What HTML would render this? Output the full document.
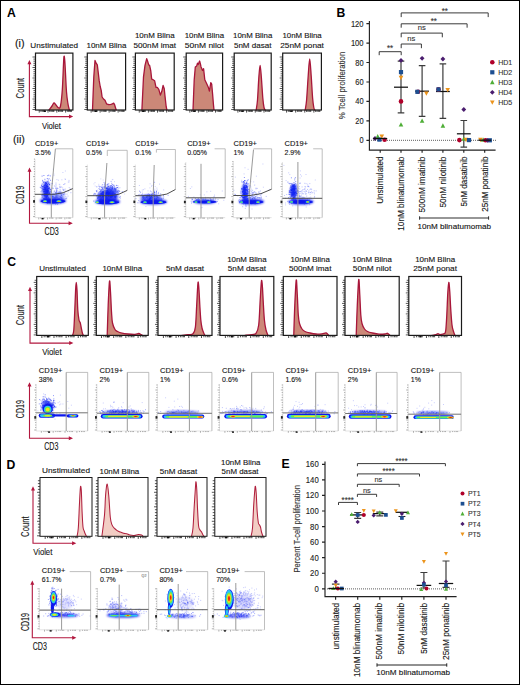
<!DOCTYPE html>
<html><head><meta charset="utf-8"><style>
html,body{margin:0;padding:0;background:#fff;overflow:hidden;width:520px;height:685px;}
svg{display:block;font-family:"Liberation Sans",sans-serif;}
</style></head><body>
<svg width="520" height="685" viewBox="0 0 520 685" fill="#141414">
<defs><filter id="bl" x="-20%" y="-20%" width="140%" height="140%"><feGaussianBlur stdDeviation="0.45"/></filter><filter id="bl3" x="-20%" y="-60%" width="140%" height="220%"><feGaussianBlur stdDeviation="0.7"/></filter><filter id="bl2" x="-30%" y="-30%" width="160%" height="160%"><feGaussianBlur stdDeviation="1.0"/></filter></defs>
<rect x="0.5" y="0.5" width="519" height="684" fill="#fff" stroke="#000" stroke-width="1"/>
<text x="6.9" y="17" font-size="12.2" font-weight="bold" fill="#000">A</text>
<text x="336.5" y="17.2" font-size="12.2" font-weight="bold" fill="#000">B</text>
<text x="7.3" y="266" font-size="12.2" font-weight="bold" fill="#000">C</text>
<text x="6.6" y="468.6" font-size="12.2" font-weight="bold" fill="#000">D</text>
<text x="281.4" y="467.9" font-size="12.2" font-weight="bold" fill="#000">E</text>
<text x="15" y="47.1" font-size="10.8" stroke="#141414" stroke-width="0.12">(i)</text>
<text x="12.9" y="143.3" font-size="10.8" stroke="#141414" stroke-width="0.12">(ii)</text>
<text x="54.2" y="47.9" font-size="8" text-anchor="middle" textLength="47.7" lengthAdjust="spacingAndGlyphs" stroke="#141414" stroke-width="0.12">Unstimulated</text>
<text x="106.45" y="47.9" font-size="8" text-anchor="middle" textLength="39.9" lengthAdjust="spacingAndGlyphs" stroke="#141414" stroke-width="0.12">10nM Blina</text>
<text x="154.8" y="38.3" font-size="8" text-anchor="middle" textLength="39.8" lengthAdjust="spacingAndGlyphs" stroke="#141414" stroke-width="0.12">10nM Blina</text>
<text x="154.8" y="47.9" font-size="8" text-anchor="middle" textLength="42.5" lengthAdjust="spacingAndGlyphs" stroke="#141414" stroke-width="0.12">500nM imat</text>
<text x="204.4" y="38.3" font-size="8" text-anchor="middle" textLength="39.4" lengthAdjust="spacingAndGlyphs" stroke="#141414" stroke-width="0.12">10nM Blina</text>
<text x="204.4" y="47.9" font-size="8" text-anchor="middle" textLength="39.1" lengthAdjust="spacingAndGlyphs" stroke="#141414" stroke-width="0.12">50nM nilot</text>
<text x="252.7" y="38.3" font-size="8" text-anchor="middle" textLength="39.3" lengthAdjust="spacingAndGlyphs" stroke="#141414" stroke-width="0.12">10nM Blina</text>
<text x="252.7" y="47.9" font-size="8" text-anchor="middle" textLength="37.5" lengthAdjust="spacingAndGlyphs" stroke="#141414" stroke-width="0.12">5nM dasat</text>
<text x="302.05" y="38.3" font-size="8" text-anchor="middle" textLength="39.3" lengthAdjust="spacingAndGlyphs" stroke="#141414" stroke-width="0.12">10nM Blina</text>
<text x="302.05" y="47.9" font-size="8" text-anchor="middle" textLength="43.7" lengthAdjust="spacingAndGlyphs" stroke="#141414" stroke-width="0.12">25nM ponat</text>
<path d="M49 110C49.5 109.33 51.17 107.17 52 106C52.83 104.83 53.33 103.17 54 103C54.67 102.83 55.25 104.2 56 105C56.75 105.8 57.75 107.63 58.5 107.8C59.25 107.97 59.87 108.97 60.5 106C61.13 103.03 61.78 97.33 62.3 90C62.82 82.67 63.28 67.63 63.6 62C63.92 56.37 63.97 55.87 64.2 56.2C64.43 56.53 64.62 58.03 65 64C65.38 69.97 66 85.33 66.5 92C67 98.67 67.52 101 68 104C68.48 107 69.17 109 69.4 110Z" fill="#cc8878" stroke="none"/>
<path d="M49 110C49.5 109.33 51.17 107.17 52 106C52.83 104.83 53.33 103.17 54 103C54.67 102.83 55.25 104.2 56 105C56.75 105.8 57.75 107.63 58.5 107.8C59.25 107.97 59.87 108.97 60.5 106C61.13 103.03 61.78 97.33 62.3 90C62.82 82.67 63.28 67.63 63.6 62C63.92 56.37 63.97 55.87 64.2 56.2C64.43 56.53 64.62 58.03 65 64C65.38 69.97 66 85.33 66.5 92C67 98.67 67.52 101 68 104C68.48 107 69.17 109 69.4 110" fill="none" stroke="#a8163a" stroke-width="1.3" stroke-linejoin="round" stroke-linecap="round"/>
<rect x="35.5" y="53.1" width="37.4" height="56.9" fill="none" stroke="#1a1a1a" stroke-width="1.2"/>
<path d="M32.5 109.5h3M33.4 107.4h2.1M33.4 105.3h2.1M33.4 103.2h2.1M33.4 101.1h2.1M32.5 99h3M33.4 96.9h2.1M33.4 94.8h2.1M33.4 92.7h2.1M33.4 90.6h2.1M32.5 88.5h3M33.4 86.4h2.1M33.4 84.3h2.1M33.4 82.2h2.1M33.4 80.1h2.1M32.5 78h3M33.4 75.9h2.1M33.4 73.8h2.1M33.4 71.7h2.1M33.4 69.6h2.1M32.5 67.5h3M33.4 65.4h2.1M33.4 63.3h2.1M33.4 61.2h2.1M33.4 59.1h2.1M32.5 57h3" stroke="#222" stroke-width="0.75" fill="none"/>
<path d="M39.24 110v2.6M40.92 110v1.9M42.23 110v1.9M43.35 110v1.9M44.29 110v1.9M45.04 110v1.9M48.03 110v2.6M49.71 110v1.9M51.02 110v1.9M52.14 110v1.9M53.08 110v1.9M53.83 110v1.9M56.82 110v2.6M58.5 110v1.9M59.81 110v1.9M60.93 110v1.9M61.87 110v1.9M62.62 110v1.9M65.61 110v2.6M67.29 110v1.9M68.6 110v1.9M69.72 110v1.9M70.66 110v1.9M71.4 110v1.9" stroke="#222" stroke-width="0.8" fill="none"/>
<rect x="43.85" y="110.6" width="2" height="1.4" fill="#111"/>
<path d="M92.5 110L93.8 76.8L95 60.5L96.3 63.4L97.3 64.9L98.3 73L99.2 80.7L100.2 86.5L101.2 90.3L102.1 97L103.5 99L105 100.3L106.5 103.8L108.8 104.7L110.8 104.3L112.3 103.8L113.7 103.2L114.6 104.7L116.2 110Z" fill="#cc8878" stroke="none"/>
<path d="M92.5 110L93.8 76.8L95 60.5L96.3 63.4L97.3 64.9L98.3 73L99.2 80.7L100.2 86.5L101.2 90.3L102.1 97L103.5 99L105 100.3L106.5 103.8L108.8 104.7L110.8 104.3L112.3 103.8L113.7 103.2L114.6 104.7L116.2 110" fill="none" stroke="#a8163a" stroke-width="1.3" stroke-linejoin="round" stroke-linecap="round"/>
<rect x="87.3" y="53.1" width="38.3" height="56.9" fill="none" stroke="#1a1a1a" stroke-width="1.2"/>
<path d="M84.3 109.5h3M85.2 107.4h2.1M85.2 105.3h2.1M85.2 103.2h2.1M85.2 101.1h2.1M84.3 99h3M85.2 96.9h2.1M85.2 94.8h2.1M85.2 92.7h2.1M85.2 90.6h2.1M84.3 88.5h3M85.2 86.4h2.1M85.2 84.3h2.1M85.2 82.2h2.1M85.2 80.1h2.1M84.3 78h3M85.2 75.9h2.1M85.2 73.8h2.1M85.2 71.7h2.1M85.2 69.6h2.1M84.3 67.5h3M85.2 65.4h2.1M85.2 63.3h2.1M85.2 61.2h2.1M85.2 59.1h2.1M84.3 57h3" stroke="#222" stroke-width="0.75" fill="none"/>
<path d="M91.13 110v2.6M92.85 110v1.9M94.19 110v1.9M95.34 110v1.9M96.3 110v1.9M97.07 110v1.9M100.13 110v2.6M101.85 110v1.9M103.19 110v1.9M104.34 110v1.9M105.3 110v1.9M106.07 110v1.9M109.13 110v2.6M110.85 110v1.9M112.19 110v1.9M113.34 110v1.9M114.3 110v1.9M115.07 110v1.9M118.13 110v2.6M119.85 110v1.9M121.2 110v1.9M122.34 110v1.9M123.3 110v1.9M124.07 110v1.9" stroke="#222" stroke-width="0.8" fill="none"/>
<rect x="94.73" y="110.6" width="2" height="1.4" fill="#111"/>
<path d="M141.9 110L143.5 76.8L145 65.3L146.7 58.6L147.7 61.5L148.7 64.9L149.6 65.3L150.8 71L151.7 79.2L153.1 79.7L154.6 80.7L156 87.4L157.3 87.4L158.8 89.3L160.4 95.1L161.7 91.8L163.1 85.5L164.2 88.4L165 96.1L166.2 106.7L166.9 110Z" fill="#cc8878" stroke="none"/>
<path d="M141.9 110L143.5 76.8L145 65.3L146.7 58.6L147.7 61.5L148.7 64.9L149.6 65.3L150.8 71L151.7 79.2L153.1 79.7L154.6 80.7L156 87.4L157.3 87.4L158.8 89.3L160.4 95.1L161.7 91.8L163.1 85.5L164.2 88.4L165 96.1L166.2 106.7L166.9 110" fill="none" stroke="#a8163a" stroke-width="1.3" stroke-linejoin="round" stroke-linecap="round"/>
<rect x="135.4" y="53.1" width="38.8" height="56.9" fill="none" stroke="#1a1a1a" stroke-width="1.2"/>
<path d="M132.4 109.5h3M133.3 107.4h2.1M133.3 105.3h2.1M133.3 103.2h2.1M133.3 101.1h2.1M132.4 99h3M133.3 96.9h2.1M133.3 94.8h2.1M133.3 92.7h2.1M133.3 90.6h2.1M132.4 88.5h3M133.3 86.4h2.1M133.3 84.3h2.1M133.3 82.2h2.1M133.3 80.1h2.1M132.4 78h3M133.3 75.9h2.1M133.3 73.8h2.1M133.3 71.7h2.1M133.3 69.6h2.1M132.4 67.5h3M133.3 65.4h2.1M133.3 63.3h2.1M133.3 61.2h2.1M133.3 59.1h2.1M132.4 57h3" stroke="#222" stroke-width="0.75" fill="none"/>
<path d="M139.28 110v2.6M141.03 110v1.9M142.38 110v1.9M143.55 110v1.9M144.52 110v1.9M145.29 110v1.9M148.4 110v2.6M150.14 110v1.9M151.5 110v1.9M152.67 110v1.9M153.64 110v1.9M154.41 110v1.9M157.52 110v2.6M159.26 110v1.9M160.62 110v1.9M161.78 110v1.9M162.75 110v1.9M163.53 110v1.9M166.63 110v2.6M168.38 110v1.9M169.74 110v1.9M170.9 110v1.9M171.87 110v1.9M172.65 110v1.9" stroke="#222" stroke-width="0.8" fill="none"/>
<rect x="142.16" y="110.6" width="2" height="1.4" fill="#111"/>
<path d="M193 110L194.2 80L195.3 67L196.7 65.9L197.5 63.2L198.2 64.5L199.6 61L200.4 64L201 66.7L202.5 70.5L203.6 68.7L204.8 79.7L206.5 83.2L208.2 86.9L209.4 91.2L210.8 82.6L211.7 84L212.6 94.1L213.4 104L214 110Z" fill="#cc8878" stroke="none"/>
<path d="M193 110L194.2 80L195.3 67L196.7 65.9L197.5 63.2L198.2 64.5L199.6 61L200.4 64L201 66.7L202.5 70.5L203.6 68.7L204.8 79.7L206.5 83.2L208.2 86.9L209.4 91.2L210.8 82.6L211.7 84L212.6 94.1L213.4 104L214 110" fill="none" stroke="#a8163a" stroke-width="1.3" stroke-linejoin="round" stroke-linecap="round"/>
<rect x="186.2" y="53.1" width="36.4" height="56.9" fill="none" stroke="#1a1a1a" stroke-width="1.2"/>
<path d="M183.2 109.5h3M184.1 107.4h2.1M184.1 105.3h2.1M184.1 103.2h2.1M184.1 101.1h2.1M183.2 99h3M184.1 96.9h2.1M184.1 94.8h2.1M184.1 92.7h2.1M184.1 90.6h2.1M183.2 88.5h3M184.1 86.4h2.1M184.1 84.3h2.1M184.1 82.2h2.1M184.1 80.1h2.1M183.2 78h3M184.1 75.9h2.1M184.1 73.8h2.1M184.1 71.7h2.1M184.1 69.6h2.1M183.2 67.5h3M184.1 65.4h2.1M184.1 63.3h2.1M184.1 61.2h2.1M184.1 59.1h2.1M183.2 57h3" stroke="#222" stroke-width="0.75" fill="none"/>
<path d="M189.84 110v2.6M191.48 110v1.9M192.75 110v1.9M193.84 110v1.9M194.75 110v1.9M195.48 110v1.9M198.39 110v2.6M200.03 110v1.9M201.31 110v1.9M202.4 110v1.9M203.31 110v1.9M204.04 110v1.9M206.95 110v2.6M208.59 110v1.9M209.86 110v1.9M210.95 110v1.9M211.86 110v1.9M212.59 110v1.9M215.5 110v2.6M217.14 110v1.9M218.41 110v1.9M219.51 110v1.9M220.42 110v1.9M221.14 110v1.9" stroke="#222" stroke-width="0.8" fill="none"/>
<rect x="193.21" y="110.6" width="2" height="1.4" fill="#111"/>
<path d="M256.2 110C256.42 108.33 257.07 105.33 257.5 100C257.93 94.67 258.37 83.78 258.8 78C259.23 72.22 259.67 65.3 260.1 65.3C260.53 65.3 260.95 72.55 261.4 78C261.85 83.45 262.37 93.08 262.8 98C263.23 102.92 263.6 105.5 264 107.5C264.4 109.5 265 109.58 265.2 110Z" fill="#cc8878" stroke="none"/>
<path d="M256.2 110C256.42 108.33 257.07 105.33 257.5 100C257.93 94.67 258.37 83.78 258.8 78C259.23 72.22 259.67 65.3 260.1 65.3C260.53 65.3 260.95 72.55 261.4 78C261.85 83.45 262.37 93.08 262.8 98C263.23 102.92 263.6 105.5 264 107.5C264.4 109.5 265 109.58 265.2 110" fill="none" stroke="#a8163a" stroke-width="1.3" stroke-linejoin="round" stroke-linecap="round"/>
<rect x="234.2" y="53.1" width="37" height="56.9" fill="none" stroke="#1a1a1a" stroke-width="1.2"/>
<path d="M231.2 109.5h3M232.1 107.4h2.1M232.1 105.3h2.1M232.1 103.2h2.1M232.1 101.1h2.1M231.2 99h3M232.1 96.9h2.1M232.1 94.8h2.1M232.1 92.7h2.1M232.1 90.6h2.1M231.2 88.5h3M232.1 86.4h2.1M232.1 84.3h2.1M232.1 82.2h2.1M232.1 80.1h2.1M231.2 78h3M232.1 75.9h2.1M232.1 73.8h2.1M232.1 71.7h2.1M232.1 69.6h2.1M231.2 67.5h3M232.1 65.4h2.1M232.1 63.3h2.1M232.1 61.2h2.1M232.1 59.1h2.1M231.2 57h3" stroke="#222" stroke-width="0.75" fill="none"/>
<path d="M237.9 110v2.6M239.56 110v1.9M240.86 110v1.9M241.97 110v1.9M242.89 110v1.9M243.63 110v1.9M246.59 110v2.6M248.26 110v1.9M249.55 110v1.9M250.66 110v1.9M251.59 110v1.9M252.33 110v1.9M255.29 110v2.6M256.95 110v1.9M258.25 110v1.9M259.36 110v1.9M260.28 110v1.9M261.02 110v1.9M263.99 110v2.6M265.65 110v1.9M266.94 110v1.9M268.06 110v1.9M268.98 110v1.9M269.72 110v1.9" stroke="#222" stroke-width="0.8" fill="none"/>
<rect x="241.34" y="110.6" width="2" height="1.4" fill="#111"/>
<path d="M305.2 110C305.43 108.33 306.1 105.67 306.6 100C307.1 94.33 307.68 82.83 308.2 76C308.72 69.17 309.2 59 309.7 59C310.2 59 310.72 69.5 311.2 76C311.68 82.5 312.17 92.75 312.6 98C313.03 103.25 313.43 105.5 313.8 107.5C314.17 109.5 314.63 109.58 314.8 110Z" fill="#cc8878" stroke="none"/>
<path d="M305.2 110C305.43 108.33 306.1 105.67 306.6 100C307.1 94.33 307.68 82.83 308.2 76C308.72 69.17 309.2 59 309.7 59C310.2 59 310.72 69.5 311.2 76C311.68 82.5 312.17 92.75 312.6 98C313.03 103.25 313.43 105.5 313.8 107.5C314.17 109.5 314.63 109.58 314.8 110" fill="none" stroke="#a8163a" stroke-width="1.3" stroke-linejoin="round" stroke-linecap="round"/>
<rect x="282.7" y="53.1" width="38.7" height="56.9" fill="none" stroke="#1a1a1a" stroke-width="1.2"/>
<path d="M279.7 109.5h3M280.6 107.4h2.1M280.6 105.3h2.1M280.6 103.2h2.1M280.6 101.1h2.1M279.7 99h3M280.6 96.9h2.1M280.6 94.8h2.1M280.6 92.7h2.1M280.6 90.6h2.1M279.7 88.5h3M280.6 86.4h2.1M280.6 84.3h2.1M280.6 82.2h2.1M280.6 80.1h2.1M279.7 78h3M280.6 75.9h2.1M280.6 73.8h2.1M280.6 71.7h2.1M280.6 69.6h2.1M279.7 67.5h3M280.6 65.4h2.1M280.6 63.3h2.1M280.6 61.2h2.1M280.6 59.1h2.1M279.7 57h3" stroke="#222" stroke-width="0.75" fill="none"/>
<path d="M286.57 110v2.6M288.31 110v1.9M289.67 110v1.9M290.83 110v1.9M291.79 110v1.9M292.57 110v1.9M295.66 110v2.6M297.41 110v1.9M298.76 110v1.9M299.92 110v1.9M300.89 110v1.9M301.66 110v1.9M304.76 110v2.6M306.5 110v1.9M307.85 110v1.9M309.02 110v1.9M309.98 110v1.9M310.76 110v1.9M313.85 110v2.6M315.59 110v1.9M316.95 110v1.9M318.11 110v1.9M319.08 110v1.9M319.85 110v1.9" stroke="#222" stroke-width="0.8" fill="none"/>
<rect x="290.21" y="110.6" width="2" height="1.4" fill="#111"/>
<path d="M29.4 63V116.6H70.2" fill="none" stroke="#b2173e" stroke-width="1.1"/>
<path d="M29.4 60L27.4 64.2L31.4 64.2Z M73.2 116.6L69 114.6L69 118.6Z" fill="#b2173e"/>
<text transform="translate(24.47,88.2) rotate(-90)" font-size="10.2" text-anchor="middle" textLength="20.4" lengthAdjust="spacingAndGlyphs" stroke="#141414" stroke-width="0.12">Count</text>
<text x="41.9" y="128.5" font-size="9.5" textLength="19.1" lengthAdjust="spacingAndGlyphs" stroke="#141414" stroke-width="0.12">Violet</text>
<g filter="url(#bl2)">
<ellipse cx="46" cy="191" rx="3.4" ry="9.5" fill="#0a18ee" fill-opacity="0.8"/>
<ellipse cx="53" cy="200.8" rx="13" ry="3.2" fill="#0a18ee" fill-opacity="0.9"/>
<ellipse cx="58" cy="196" rx="7" ry="4" fill="#0a18ee" fill-opacity="0.35"/>
</g>
<path d="M45.7 192.8h0M45.8 188.3h0M44.3 188.8h0M48.7 192.3h0M48.6 191.4h0M47.2 191.0h0M42.6 194.7h0M47.4 192.7h0M42.6 180.4h0M44.3 187.4h0M47.0 189.7h0M47.4 186.5h0M47.0 192.2h0M44.8 199.4h0M47.5 196.6h0M44.9 185.9h0M45.5 189.4h0M47.7 191.4h0M45.3 184.7h0M45.2 196.7h0M44.5 191.3h0M47.2 181.8h0M46.4 197.2h0M41.9 188.2h0M46.1 185.5h0M47.4 189.7h0M43.1 194.6h0M47.8 195.2h0M49.5 192.0h0M46.6 182.9h0M47.7 186.6h0M45.3 183.0h0M44.2 187.1h0M49.1 178.8h0M43.1 191.3h0M49.5 193.2h0M42.1 176.1h0M47.1 186.0h0M43.8 195.4h0M48.7 190.9h0M46.8 192.4h0M49.8 193.4h0M47.4 193.0h0M42.8 197.0h0M48.4 192.9h0M42.0 186.5h0M48.2 180.0h0M45.9 195.6h0M43.4 198.9h0M47.5 189.2h0M47.0 193.6h0M46.6 196.3h0M44.8 187.7h0M48.6 190.1h0M44.4 195.2h0M49.5 187.6h0M43.3 189.3h0M46.0 188.4h0M49.4 184.4h0M49.1 183.0h0M44.6 193.5h0M48.8 194.7h0M47.1 190.8h0M46.6 193.2h0M45.9 191.5h0M47.6 190.0h0M48.0 193.1h0M50.7 191.8h0M45.4 188.0h0M46.3 195.1h0M45.6 192.1h0M50.3 175.9h0M43.8 191.3h0M47.2 191.3h0M45.4 193.6h0M46.9 187.1h0M51.6 192.0h0M45.1 189.5h0M45.8 189.7h0M40.3 187.3h0M48.5 183.6h0M46.2 195.2h0M48.2 198.2h0M42.6 188.1h0M45.5 193.4h0M48.7 175.2h0M48.7 182.0h0M47.8 181.8h0M46.7 196.6h0M46.0 191.1h0M48.1 190.8h0M46.1 198.4h0M48.6 188.4h0M52.3 183.7h0M48.3 188.5h0M46.6 193.9h0M46.8 193.5h0M42.9 181.7h0M47.7 184.7h0M44.0 181.9h0M49.1 194.1h0M49.5 184.8h0M46.3 183.7h0M48.0 198.7h0M44.3 198.6h0M48.5 189.0h0M42.0 197.7h0M46.1 186.7h0M47.2 192.3h0M49.6 184.4h0M48.8 198.2h0M49.5 189.0h0M44.7 195.6h0M46.6 190.7h0M49.4 188.6h0M41.2 187.9h0M42.2 194.5h0M47.0 186.6h0M46.3 194.6h0M46.5 197.3h0M46.2 195.7h0M49.6 198.9h0M44.8 194.8h0M42.2 184.0h0M42.0 195.9h0M43.6 189.9h0M45.9 189.8h0M45.0 191.3h0M50.2 190.2h0M47.5 195.5h0M45.9 183.1h0M45.1 195.9h0M42.7 186.7h0M48.5 194.4h0M46.3 194.4h0M46.7 183.5h0M42.9 186.5h0M48.3 186.9h0M44.3 185.8h0M42.9 189.4h0M43.7 192.0h0M41.1 191.8h0M44.9 179.3h0M47.9 188.5h0M41.4 185.2h0M46.9 187.5h0M48.0 194.1h0M47.8 191.8h0M49.2 193.6h0M47.3 178.5h0M48.3 197.2h0M45.6 187.4h0M50.6 180.3h0M47.3 203.3h0M44.3 193.8h0M50.5 189.3h0M47.5 195.0h0M44.3 189.5h0M46.9 194.5h0M46.2 188.9h0M44.1 188.0h0M48.3 190.6h0M44.4 185.4h0M52.2 196.3h0M47.7 175.7h0M47.7 192.6h0M50.0 192.4h0M46.2 192.9h0M42.0 195.7h0M47.0 186.1h0M49.2 200.0h0M43.2 186.3h0M46.9 191.0h0M45.4 184.6h0M51.0 195.7h0M43.7 182.6h0M50.0 195.4h0M50.3 194.5h0M44.4 191.4h0M41.5 185.9h0M46.2 192.9h0M44.7 189.3h0M47.3 192.1h0M47.7 191.1h0M45.6 194.3h0M46.4 185.5h0M44.9 190.0h0M46.1 190.9h0M46.3 191.0h0M46.0 183.1h0M47.2 195.8h0M47.3 189.0h0M47.3 184.7h0M42.1 190.3h0M44.3 194.1h0M43.9 175.5h0M44.0 198.7h0M45.5 182.5h0M44.6 192.9h0M47.4 191.0h0" stroke="#1024f4" stroke-opacity="0.6" stroke-width="0.9" stroke-linecap="square"/>
<path d="M65.9 196.8h0M56.9 196.4h0M66.9 197.9h0M63.1 189.7h0M56.1 196.9h0M55.2 198.3h0M60.6 197.6h0M55.7 204.2h0M64.4 193.1h0M57.5 204.4h0M54.9 197.5h0M62.9 194.0h0M50.0 194.8h0M59.2 198.5h0M61.7 194.1h0M62.1 196.2h0M58.2 194.2h0M55.5 196.7h0M50.7 191.5h0M57.0 188.1h0M54.4 186.0h0M52.9 196.3h0M60.4 193.8h0M55.6 188.3h0M68.0 196.1h0M63.6 190.5h0M55.9 186.7h0M61.7 197.7h0M45.6 193.8h0M60.8 187.0h0M46.0 189.7h0M53.2 188.4h0M57.2 195.0h0M60.8 196.8h0M66.0 198.7h0M49.1 192.0h0M50.6 189.7h0M56.5 194.0h0M59.9 187.7h0M49.6 193.9h0M55.8 192.8h0M56.6 191.0h0M61.2 195.4h0M56.5 191.3h0M56.0 183.1h0M51.1 194.1h0M48.0 194.8h0M57.9 188.5h0M55.5 192.7h0M59.8 196.4h0M56.8 190.6h0M56.1 193.7h0M61.4 195.2h0M52.7 188.6h0M54.8 191.0h0M50.3 193.5h0M54.1 194.4h0M60.1 192.3h0M70.9 192.7h0M63.6 194.5h0M63.7 184.5h0M52.5 195.0h0M60.6 203.3h0M58.9 199.1h0M61.6 197.8h0M60.1 193.4h0M60.1 189.7h0M64.1 189.9h0M58.5 202.5h0M55.7 194.1h0M64.0 194.1h0M52.2 195.0h0M60.5 196.8h0M52.4 201.0h0M67.0 194.1h0M58.6 192.3h0M65.5 191.2h0M61.0 192.1h0M52.8 196.9h0M65.0 194.0h0M52.9 197.2h0M56.7 195.2h0M66.1 198.5h0M53.9 203.1h0M57.0 197.1h0M53.1 193.8h0M46.5 201.1h0M65.2 189.1h0M48.0 187.5h0M64.1 192.2h0M56.6 192.7h0M56.3 189.6h0M57.1 188.2h0M56.6 195.2h0M59.8 193.1h0M51.6 194.6h0M54.1 200.3h0M61.6 193.5h0M54.2 191.2h0M51.4 192.6h0M58.8 196.1h0M60.4 202.4h0M52.8 194.1h0M53.9 194.7h0M57.9 195.6h0M55.6 195.5h0M57.3 197.1h0M45.6 190.5h0M57.0 189.9h0M50.7 196.5h0M53.1 196.5h0M61.5 195.2h0M60.0 193.6h0M48.5 193.9h0M59.7 191.9h0M56.4 197.0h0M51.7 196.6h0M68.2 191.8h0M57.9 193.4h0" stroke="#1024f4" stroke-opacity="0.35" stroke-width="0.9" stroke-linecap="square"/>
<path d="M69.2 187.5h0M65.4 179.5h0M59.9 184.9h0M49.3 196.5h0M65.4 171.0h0M64.5 184.0h0M62.7 187.9h0M51.0 183.3h0M69.0 180.4h0M53.9 174.1h0M52.7 187.7h0M70.2 188.4h0M61.5 202.9h0M56.9 179.6h0M63.2 189.4h0M53.9 175.6h0M61.7 187.0h0M52.2 183.4h0M56.7 188.7h0M59.3 184.3h0M57.9 193.4h0M68.3 182.1h0M65.1 178.9h0M60.4 191.0h0M69.1 181.9h0M59.6 186.6h0M51.0 185.1h0M55.9 188.0h0M53.2 169.2h0M60.2 187.1h0M56.7 192.1h0M58.4 180.2h0M62.9 172.5h0M55.9 184.8h0M65.1 183.7h0M61.9 179.8h0M61.8 198.3h0M55.9 203.9h0M56.1 185.1h0M61.0 193.2h0" stroke="#1024f4" stroke-opacity="0.25" stroke-width="0.9" stroke-linecap="square"/>
<g filter="url(#bl)">
<ellipse cx="53" cy="201.3" rx="12.4" ry="2.1" fill="#0a18ee"/>
<ellipse cx="45" cy="201.3" rx="2.12" ry="0.99" fill="#28c4f4"/><ellipse cx="45" cy="201.3" rx="1.48" ry="0.69" fill="#70ea48"/><ellipse cx="45" cy="201.3" rx="1.04" ry="0.49" fill="#f2e420"/>
<ellipse cx="58.9" cy="201.3" rx="2.71" ry="1.07" fill="#28c4f4"/><ellipse cx="58.9" cy="201.3" rx="1.9" ry="0.75" fill="#70ea48"/><ellipse cx="58.9" cy="201.3" rx="1.33" ry="0.52" fill="#f2e420"/><ellipse cx="58.9" cy="201.3" rx="0.93" ry="0.37" fill="#ff7a10"/>
</g>
<path d="M35 159V217.6H72.8" stroke="#c8c8c8" stroke-width="0.5" fill="none"/>
<path d="M33 216.6h2M33.9 214.1h1.1M33.9 211.6h1.1M33.9 209.1h1.1M33 206.6h2M33.9 204.1h1.1M33.9 201.6h1.1M33.9 199.1h1.1M33 196.6h2M33.9 194.1h1.1M33.9 191.6h1.1M33.9 189.1h1.1M33 186.6h2M33.9 184.1h1.1M33.9 181.6h1.1M33.9 179.1h1.1M33 176.6h2M33.9 174.1h1.1M33.9 171.6h1.1M33.9 169.1h1.1M33 166.6h2M33.9 164.1h1.1M33.9 161.6h1.1M33.9 159.1h1.1M38.78 217.6v1.8M40.67 217.6v1.1M42.18 217.6v1.1M43.32 217.6v1.1M44.26 217.6v1.1M47.47 217.6v1.8M49.36 217.6v1.1M50.88 217.6v1.1M52.01 217.6v1.1M52.95 217.6v1.1M56.17 217.6v1.8M58.06 217.6v1.1M59.57 217.6v1.1M60.7 217.6v1.1M61.65 217.6v1.1M64.86 217.6v1.8M66.75 217.6v1.1M68.26 217.6v1.1M69.4 217.6v1.1M70.34 217.6v1.1" stroke="#666" stroke-width="0.5" fill="none"/>
<rect x="33.1" y="200.1" width="1.9" height="2.6" fill="#222"/>
<rect x="41.56" y="218" width="2" height="1.4" fill="#111"/>
<path d="M55.4 148.8H72.8V217.6" fill="none" stroke="#9c9c9c" stroke-width="0.65"/>
<path d="M55.4 148.8L51.3 193.4V217.6" fill="none" stroke="#9a9a9a" stroke-width="1.0"/>
<path d="M35 194.3H54Q63 194 72.8 188.6" fill="none" stroke="#444" stroke-width="0.95"/>
<text x="34.9" y="145.6" font-size="8" textLength="23.4" lengthAdjust="spacingAndGlyphs" stroke="#141414" stroke-width="0.12">CD19+</text>
<text x="34.9" y="154.5" font-size="8" textLength="15.9" lengthAdjust="spacingAndGlyphs" stroke="#141414" stroke-width="0.12">3.5%</text>
<g filter="url(#bl2)">
<ellipse cx="107.5" cy="196.5" rx="10.5" ry="5.5" fill="#0a18ee" fill-opacity="0.8"/>
<ellipse cx="111" cy="191" rx="6" ry="4" fill="#0a18ee" fill-opacity="0.55"/>
<ellipse cx="107.5" cy="201.5" rx="12.5" ry="3" fill="#0a18ee" fill-opacity="0.95"/>
</g>
<path d="M99.8 187.1h0M109.0 197.3h0M109.1 203.7h0M107.0 195.4h0M110.6 195.8h0M114.3 190.2h0M104.1 182.4h0M110.1 193.2h0M110.6 202.0h0M106.0 193.6h0M103.5 191.6h0M102.8 196.7h0M106.2 194.7h0M105.1 197.7h0M108.5 194.0h0M109.3 194.0h0M100.2 199.6h0M108.3 191.1h0M111.4 195.7h0M98.2 200.1h0M107.7 197.6h0M107.0 194.0h0M98.3 197.9h0M106.2 193.5h0M107.8 194.8h0M109.4 193.2h0M105.8 187.0h0M103.9 196.9h0M112.7 193.2h0M105.4 200.0h0M104.4 197.1h0M114.4 194.6h0M112.1 192.0h0M107.0 194.2h0M106.6 198.5h0M117.9 192.2h0M103.1 196.2h0M100.7 196.2h0M108.9 193.5h0M108.7 189.1h0M109.8 189.1h0M102.5 192.6h0M104.0 197.5h0M106.4 193.1h0M108.7 200.0h0M106.0 195.8h0M112.2 195.4h0M99.6 203.2h0M117.0 187.6h0M105.8 196.0h0M110.8 196.8h0M104.6 190.8h0M106.5 198.1h0M100.6 190.9h0M105.9 187.7h0M104.7 193.0h0M108.3 192.0h0M101.6 193.1h0M105.8 192.2h0M106.1 197.1h0M111.9 200.5h0M102.1 193.0h0M93.6 201.1h0M102.4 194.4h0M108.6 189.7h0M108.3 194.4h0M96.9 195.5h0M112.0 188.0h0M110.0 195.2h0M108.4 196.0h0M112.5 193.7h0M110.4 193.1h0M109.6 191.7h0M105.5 200.6h0M108.2 193.9h0M100.3 191.7h0M107.0 197.8h0M108.1 196.3h0M105.8 199.2h0M104.0 192.6h0M110.4 194.7h0M104.6 192.5h0M104.7 196.7h0M107.8 190.3h0M108.1 195.1h0M101.0 197.2h0M104.6 193.3h0M110.0 199.1h0M102.6 196.0h0M101.6 202.6h0M103.5 198.7h0M102.8 197.3h0M117.1 185.6h0M103.8 196.3h0M105.5 192.2h0M116.8 194.8h0M97.8 197.5h0M97.4 198.5h0M103.1 195.0h0M112.3 194.9h0M99.0 188.6h0M111.9 197.1h0M101.9 197.5h0M108.5 196.8h0M94.7 193.4h0M110.5 197.1h0M110.4 185.9h0M106.8 196.2h0M118.8 191.2h0M104.4 194.6h0M110.4 192.9h0M111.7 191.7h0M107.3 192.7h0M106.8 192.1h0M98.0 198.3h0M107.5 192.5h0M107.0 198.0h0M101.1 194.1h0M108.7 196.3h0M104.3 187.1h0M112.2 195.6h0M106.1 193.5h0M107.3 193.0h0M100.9 191.9h0M103.0 192.4h0M100.2 196.7h0M99.5 196.8h0M100.9 195.7h0M112.9 195.2h0M102.3 194.7h0M106.7 188.4h0M103.0 195.1h0M103.7 194.8h0M109.7 197.2h0M110.5 196.6h0M104.6 194.4h0M104.6 193.4h0M105.1 188.5h0M104.3 194.4h0M101.1 194.4h0M108.6 193.9h0M116.4 185.4h0M105.0 188.1h0M110.9 203.8h0M93.5 194.9h0M108.6 193.4h0M108.8 186.6h0M110.3 195.8h0M106.1 192.4h0M109.2 192.8h0M107.1 192.7h0M94.8 194.4h0M107.0 197.1h0M101.6 194.4h0M109.1 195.0h0M112.2 201.5h0M101.5 187.8h0M110.3 199.9h0M110.6 197.3h0M102.9 192.0h0M110.4 191.3h0M96.9 191.0h0M118.5 201.2h0M102.6 191.9h0M107.2 191.9h0M112.6 194.2h0M100.6 199.1h0M103.1 195.3h0M105.9 193.4h0M107.6 192.1h0M96.8 186.8h0M99.7 191.8h0M105.9 194.7h0M108.8 194.9h0M102.0 192.0h0M95.4 193.9h0M108.4 196.4h0M105.4 193.9h0M110.7 194.6h0M109.7 196.5h0M107.1 199.1h0M103.1 193.2h0M102.0 191.7h0M113.8 200.7h0M106.1 196.5h0M111.9 197.3h0M112.0 190.1h0M102.8 196.1h0M113.2 194.9h0M101.7 193.3h0M102.7 191.5h0M113.5 192.3h0M106.1 202.1h0M111.9 195.7h0M102.9 195.9h0M114.1 196.7h0M112.3 194.8h0M108.6 193.8h0M108.1 199.1h0M98.8 194.3h0M107.2 192.5h0M104.5 197.3h0M116.0 196.7h0M107.6 189.1h0M115.6 194.8h0M105.8 190.6h0M105.7 190.7h0M106.4 196.1h0M106.2 195.5h0M101.7 199.5h0M102.7 188.1h0M105.1 191.8h0M101.0 193.3h0M107.5 190.4h0M105.3 199.5h0M109.4 194.0h0M106.6 194.1h0M105.8 197.1h0M105.5 186.1h0M105.9 191.4h0M109.3 192.4h0M106.7 202.1h0M100.8 190.6h0M98.9 186.1h0M96.6 195.8h0M102.8 188.0h0M98.6 196.7h0M102.1 193.2h0M107.7 199.2h0M115.7 198.1h0M106.7 195.1h0M115.0 199.5h0M104.4 196.1h0M107.4 194.7h0M103.5 189.9h0M103.3 189.1h0M112.1 196.4h0M100.0 199.4h0M110.5 187.8h0M115.2 197.3h0M116.3 190.2h0M108.7 196.0h0M107.0 195.1h0M111.3 189.3h0M99.8 189.6h0M103.2 192.4h0M107.8 195.4h0M106.2 192.1h0M103.8 197.8h0M109.8 194.9h0M104.4 199.9h0M103.0 196.8h0M111.8 193.6h0M110.1 190.6h0M111.1 195.2h0M98.1 196.8h0M101.5 199.0h0M102.6 193.9h0M107.4 193.3h0M107.3 192.6h0" stroke="#1024f4" stroke-opacity="0.5" stroke-width="0.9" stroke-linecap="square"/>
<path d="M113.4 191.0h0M111.1 181.4h0M115.8 191.1h0M101.1 191.3h0M112.3 194.7h0M104.6 196.4h0M109.2 199.4h0M109.3 193.4h0M108.2 187.1h0M115.5 194.2h0M117.7 194.0h0M107.1 185.2h0M106.7 188.6h0M105.9 193.0h0M111.6 190.1h0M110.9 190.5h0M111.1 193.6h0M114.8 188.6h0M102.5 196.0h0M110.6 194.9h0M101.8 189.8h0M110.1 186.0h0M107.4 193.5h0M115.4 196.6h0M105.7 186.1h0M112.6 194.3h0M111.0 186.4h0M113.9 193.8h0M112.8 189.3h0M111.5 193.8h0M107.2 184.5h0M111.6 192.7h0M110.1 194.1h0M107.1 190.7h0M108.5 193.0h0M118.0 190.1h0M120.3 196.4h0M114.0 193.1h0M118.9 190.4h0M109.4 187.3h0M112.4 195.7h0M112.7 192.5h0M109.0 191.6h0M102.9 194.7h0M108.0 187.1h0M106.2 188.1h0M114.3 194.7h0M103.2 194.2h0M114.4 189.0h0M102.6 188.4h0M106.8 192.2h0M108.2 183.9h0M111.2 185.6h0M114.5 186.8h0M106.5 188.0h0M107.3 195.5h0M114.3 193.1h0M111.6 185.6h0M107.4 189.1h0M105.1 192.8h0M106.3 188.5h0M104.8 183.8h0M113.0 195.7h0M110.9 187.6h0M96.5 191.6h0M116.1 192.0h0M114.6 196.2h0M115.6 189.5h0M115.3 193.7h0M102.3 189.6h0M102.9 190.6h0M112.9 187.3h0M99.7 195.5h0M111.9 196.1h0M103.4 194.7h0M120.4 198.0h0M108.9 191.9h0M109.2 194.5h0M115.2 191.3h0M103.2 193.6h0M107.7 193.2h0M111.3 196.7h0M115.7 189.4h0M111.7 197.2h0M107.3 192.5h0M116.0 195.4h0M112.6 186.4h0M103.7 191.9h0M111.9 199.9h0M105.7 195.0h0M113.9 185.1h0M105.9 191.6h0M107.5 190.5h0M112.4 188.2h0M112.3 188.8h0M107.3 192.9h0M107.1 192.0h0M118.0 191.1h0M109.3 193.6h0M108.2 194.8h0M103.6 193.2h0M107.4 188.2h0M118.8 188.0h0M118.8 193.3h0M117.3 187.6h0M116.0 196.1h0M109.4 190.5h0M122.3 191.6h0M107.9 188.8h0M112.2 192.2h0M110.9 197.0h0M108.4 192.7h0M117.3 187.5h0M115.2 197.4h0M103.2 187.2h0M104.8 184.5h0M112.3 184.5h0M112.5 196.1h0M101.9 189.9h0M100.4 193.7h0M106.3 190.1h0M110.3 192.9h0M108.3 191.1h0M107.3 191.4h0M104.1 191.2h0M100.3 189.3h0M119.6 191.3h0M103.7 191.9h0M105.1 185.2h0M106.3 193.6h0M111.9 190.7h0M105.4 187.2h0M116.7 191.9h0M105.2 183.6h0M103.2 199.7h0M104.3 190.7h0M111.1 190.4h0M108.6 186.2h0M104.7 196.9h0M106.2 194.0h0M101.5 190.0h0M111.3 194.6h0M104.4 193.1h0M111.9 188.4h0M112.4 187.9h0M106.0 190.9h0M96.4 190.6h0M105.0 185.9h0M107.9 193.7h0M108.0 195.4h0M104.2 186.4h0M117.8 192.4h0M114.7 188.1h0M114.0 191.9h0M113.2 191.1h0M116.0 188.7h0M105.2 185.8h0M115.8 188.4h0M104.8 187.7h0M107.8 186.6h0M108.5 188.8h0M107.2 187.6h0M110.2 189.4h0M110.6 191.9h0M111.7 183.3h0M107.3 188.2h0M113.9 185.5h0M106.4 190.0h0M108.3 194.5h0M107.8 194.4h0M102.7 184.7h0M116.1 192.5h0M112.4 191.4h0M112.4 186.7h0M114.7 189.1h0M114.9 191.3h0M100.1 186.5h0M115.6 190.5h0M108.0 191.8h0M107.9 189.1h0M110.5 191.5h0M117.6 191.2h0M119.4 197.3h0M118.6 194.7h0M110.7 191.5h0M109.3 188.4h0M109.7 188.8h0M118.2 192.9h0M107.8 184.3h0M109.7 189.5h0M104.6 187.0h0M98.7 193.0h0M109.7 200.0h0M109.8 190.5h0M117.2 191.5h0M110.8 189.7h0M107.0 196.2h0M115.0 197.0h0M108.3 191.1h0M105.6 194.4h0" stroke="#1024f4" stroke-opacity="0.45" stroke-width="0.9" stroke-linecap="square"/>
<path d="M97.2 191.8h0M114.7 196.1h0M100.4 194.4h0M102.0 185.2h0M97.7 194.8h0M118.5 186.0h0M101.7 187.3h0M124.6 194.0h0M103.2 180.0h0M102.3 194.9h0M120.1 187.7h0M102.2 186.5h0M93.8 193.5h0M99.4 194.3h0M95.0 182.6h0M109.0 185.2h0M112.5 189.0h0M98.8 192.1h0M112.9 179.4h0M119.8 191.5h0M112.3 179.7h0M102.0 187.3h0M114.5 181.7h0M100.8 178.9h0M105.3 190.7h0M95.2 186.0h0M110.6 196.9h0M111.6 187.5h0M98.8 184.3h0M102.4 189.7h0M106.7 197.3h0M109.0 183.6h0M117.8 193.7h0M107.7 185.4h0M93.9 183.9h0M113.4 185.0h0M97.8 190.0h0M108.7 192.0h0M111.6 196.0h0M101.1 193.9h0M100.1 192.5h0M108.3 190.2h0M113.8 188.9h0M114.8 193.4h0M107.9 186.2h0M101.7 186.4h0M105.6 188.9h0M112.4 184.7h0M102.0 187.4h0" stroke="#1024f4" stroke-opacity="0.2" stroke-width="0.9" stroke-linecap="square"/>
<g filter="url(#bl)">
<ellipse cx="107.3" cy="202.3" rx="12" ry="2" fill="#0a18ee"/>
<ellipse cx="97.2" cy="202.2" rx="2.12" ry="0.99" fill="#28c4f4"/><ellipse cx="97.2" cy="202.2" rx="1.48" ry="0.69" fill="#70ea48"/><ellipse cx="97.2" cy="202.2" rx="1.04" ry="0.49" fill="#f2e420"/>
<ellipse cx="112" cy="202.2" rx="2.71" ry="0.99" fill="#28c4f4"/><ellipse cx="112" cy="202.2" rx="1.9" ry="0.69" fill="#70ea48"/><ellipse cx="112" cy="202.2" rx="1.33" ry="0.49" fill="#f2e420"/>
</g>
<path d="M87.3 164.6V217.6H127.2" stroke="#c8c8c8" stroke-width="0.5" fill="none"/>
<path d="M85.3 216.6h2M86.2 214.1h1.1M86.2 211.6h1.1M86.2 209.1h1.1M85.3 206.6h2M86.2 204.1h1.1M86.2 201.6h1.1M86.2 199.1h1.1M85.3 196.6h2M86.2 194.1h1.1M86.2 191.6h1.1M86.2 189.1h1.1M85.3 186.6h2M86.2 184.1h1.1M86.2 181.6h1.1M86.2 179.1h1.1M85.3 176.6h2M86.2 174.1h1.1M86.2 171.6h1.1M86.2 169.1h1.1M85.3 166.6h2M91.29 217.6v1.8M93.28 217.6v1.1M94.88 217.6v1.1M96.08 217.6v1.1M97.08 217.6v1.1M100.47 217.6v1.8M102.46 217.6v1.1M104.06 217.6v1.1M105.25 217.6v1.1M106.25 217.6v1.1M109.64 217.6v1.8M111.64 217.6v1.1M113.23 217.6v1.1M114.43 217.6v1.1M115.43 217.6v1.1M118.82 217.6v1.8M120.82 217.6v1.1M122.41 217.6v1.1M123.61 217.6v1.1M124.61 217.6v1.1" stroke="#666" stroke-width="0.5" fill="none"/>
<rect x="85.4" y="200.5" width="1.9" height="2.6" fill="#222"/>
<rect x="98.27" y="218" width="2" height="1.4" fill="#111"/>
<path d="M107.3 156V150.3H127.2V190.4" fill="none" stroke="#9c9c9c" stroke-width="0.65"/>
<path d="M106.9 163L104.6 196V217.6" fill="none" stroke="#9a9a9a" stroke-width="1.0"/>
<path d="M87.3 195.7H110Q119 195.5 127.2 190.4" fill="none" stroke="#444" stroke-width="0.95"/>
<text x="86" y="145.6" font-size="8" textLength="23.4" lengthAdjust="spacingAndGlyphs" stroke="#141414" stroke-width="0.12">CD19+</text>
<text x="86" y="154.5" font-size="8" textLength="15.9" lengthAdjust="spacingAndGlyphs" stroke="#141414" stroke-width="0.12">0.5%</text>
<g filter="url(#bl2)">
<ellipse cx="151" cy="198" rx="11" ry="3.5" fill="#0a18ee" fill-opacity="0.6"/>
<ellipse cx="153.5" cy="201.8" rx="13.5" ry="2.8" fill="#0a18ee" fill-opacity="0.9"/>
</g>
<path d="M151.2 194.4h0M159.7 195.6h0M156.5 191.2h0M150.0 197.7h0M151.1 198.5h0M151.7 197.4h0M138.6 195.2h0M135.9 198.6h0M151.8 196.5h0M145.1 195.5h0M161.1 201.3h0M149.7 200.2h0M140.5 192.2h0M147.1 194.8h0M146.6 197.5h0M168.1 195.3h0M150.3 197.7h0M149.8 199.3h0M160.7 193.9h0M151.0 196.3h0M152.1 193.2h0M139.5 191.2h0M153.2 197.5h0M150.4 191.1h0M147.8 195.1h0M141.5 194.7h0M154.2 198.4h0M149.9 198.3h0M146.4 197.2h0M150.2 198.4h0M149.6 196.6h0M149.2 195.4h0M163.4 198.3h0M152.6 202.7h0M158.4 193.1h0M154.2 199.1h0M161.3 200.3h0M154.6 194.1h0M144.8 197.7h0M153.0 194.4h0M147.7 196.0h0M150.4 197.8h0M148.3 193.9h0M157.5 201.0h0M149.4 199.6h0M152.7 198.6h0M152.9 195.1h0M153.4 199.5h0M144.6 201.9h0M162.5 201.6h0M161.9 198.9h0M148.0 195.5h0M145.1 197.3h0M149.8 198.7h0M137.9 202.8h0M163.7 196.9h0M154.1 198.2h0M151.6 196.5h0M149.3 194.9h0M151.1 196.9h0M151.9 194.9h0M150.2 197.1h0M153.6 194.3h0M152.5 199.5h0M153.6 196.1h0M147.1 196.4h0M154.4 200.9h0M149.1 195.4h0M152.3 197.5h0M144.6 195.2h0M149.4 198.7h0M142.8 194.5h0M153.0 193.9h0M150.7 197.9h0M149.3 194.5h0M149.6 196.2h0M152.0 194.9h0M156.5 192.8h0M148.9 197.0h0M155.8 195.5h0M153.3 195.6h0M154.4 201.3h0M147.6 198.1h0M144.4 199.4h0M157.3 197.1h0M143.2 198.0h0M156.9 199.7h0M154.9 192.4h0M145.9 200.6h0M142.6 199.8h0M161.3 198.9h0M156.7 196.2h0M142.6 196.7h0M148.8 196.9h0M154.2 196.6h0M151.2 198.1h0M150.0 201.6h0M152.7 197.2h0M148.8 195.4h0M158.1 197.4h0M143.5 195.6h0M149.2 195.9h0M156.5 194.1h0M153.0 197.4h0M142.9 197.1h0M149.4 198.3h0M147.3 197.8h0M140.0 194.3h0M154.7 199.6h0M149.9 195.5h0M156.5 191.8h0M145.2 198.7h0M153.9 194.4h0M138.7 200.6h0M150.9 194.8h0M150.3 199.3h0M154.4 191.8h0M154.6 192.5h0M156.8 198.0h0M163.5 195.5h0M150.0 199.6h0M146.2 195.2h0M147.8 196.8h0M143.5 198.2h0M153.3 197.2h0M160.2 196.2h0M157.8 195.6h0M154.5 192.2h0M151.2 196.6h0M147.0 195.5h0M147.9 195.2h0M136.8 195.5h0M146.7 195.7h0M143.7 196.7h0M154.7 196.4h0M147.0 200.4h0M155.9 199.3h0M156.9 196.2h0M149.2 199.8h0M146.7 196.7h0M152.3 197.9h0M148.3 199.5h0M148.9 198.8h0M156.4 198.6h0M154.4 194.1h0M142.1 195.5h0M152.9 200.8h0M142.7 197.8h0M144.9 195.2h0" stroke="#1024f4" stroke-opacity="0.45" stroke-width="0.9" stroke-linecap="square"/>
<path d="M148.8 195.5h0M152.7 197.9h0M143.1 196.4h0M158.4 192.3h0M154.8 189.2h0M142.3 190.0h0M145.9 206.5h0M147.1 200.3h0M152.6 193.6h0M156.9 188.1h0M158.3 193.9h0M138.9 195.0h0M155.4 194.3h0M163.7 189.9h0M155.1 195.7h0M143.8 198.0h0M139.4 185.5h0M155.2 186.6h0M150.1 183.8h0M151.6 186.3h0M153.7 184.3h0M154.6 190.7h0M151.5 191.7h0M152.0 185.4h0M143.5 189.7h0M154.4 182.1h0M144.9 188.9h0M142.5 193.6h0M149.9 187.9h0M143.1 196.0h0M145.7 194.9h0M154.6 182.5h0M142.3 192.0h0M153.7 195.9h0M157.4 197.2h0M148.0 190.9h0M157.2 189.9h0M159.5 184.1h0M156.2 191.1h0" stroke="#1024f4" stroke-opacity="0.25" stroke-width="0.9" stroke-linecap="square"/>
<g filter="url(#bl)">
<ellipse cx="153.5" cy="202.2" rx="13" ry="1.9" fill="#0a18ee"/>
<ellipse cx="145" cy="202.2" rx="1.89" ry="0.92" fill="#28c4f4"/><ellipse cx="145" cy="202.2" rx="1.32" ry="0.64" fill="#70ea48"/>
<ellipse cx="160.6" cy="202.2" rx="2.36" ry="0.92" fill="#28c4f4"/><ellipse cx="160.6" cy="202.2" rx="1.65" ry="0.64" fill="#70ea48"/><ellipse cx="160.6" cy="202.2" rx="1.16" ry="0.45" fill="#f2e420"/>
</g>
<path d="M135.3 164.6V217.6H175.4" stroke="#c8c8c8" stroke-width="0.5" fill="none"/>
<path d="M133.3 216.6h2M134.2 214.1h1.1M134.2 211.6h1.1M134.2 209.1h1.1M133.3 206.6h2M134.2 204.1h1.1M134.2 201.6h1.1M134.2 199.1h1.1M133.3 196.6h2M134.2 194.1h1.1M134.2 191.6h1.1M134.2 189.1h1.1M133.3 186.6h2M134.2 184.1h1.1M134.2 181.6h1.1M134.2 179.1h1.1M133.3 176.6h2M134.2 174.1h1.1M134.2 171.6h1.1M134.2 169.1h1.1M133.3 166.6h2M139.31 217.6v1.8M141.31 217.6v1.1M142.92 217.6v1.1M144.12 217.6v1.1M145.12 217.6v1.1M148.53 217.6v1.8M150.54 217.6v1.1M152.14 217.6v1.1M153.34 217.6v1.1M154.35 217.6v1.1M157.76 217.6v1.8M159.76 217.6v1.1M161.37 217.6v1.1M162.57 217.6v1.1M163.57 217.6v1.1M166.98 217.6v1.8M168.98 217.6v1.1M170.59 217.6v1.1M171.79 217.6v1.1M172.79 217.6v1.1" stroke="#666" stroke-width="0.5" fill="none"/>
<rect x="133.4" y="200.5" width="1.9" height="2.6" fill="#222"/>
<rect x="144.33" y="218" width="2" height="1.4" fill="#111"/>
<path d="M156.4 152.6V149.5H175.4V189.5" fill="none" stroke="#9c9c9c" stroke-width="0.65"/>
<path d="M154.2 165L153.2 196V217.6" fill="none" stroke="#9a9a9a" stroke-width="1.0"/>
<path d="M135.3 195.7H158Q167 195.5 175.4 189.5" fill="none" stroke="#444" stroke-width="0.95"/>
<text x="135.3" y="145.6" font-size="8" textLength="23.4" lengthAdjust="spacingAndGlyphs" stroke="#141414" stroke-width="0.12">CD19+</text>
<text x="135.3" y="154.5" font-size="8" textLength="15.9" lengthAdjust="spacingAndGlyphs" stroke="#141414" stroke-width="0.12">0.1%</text>
<g filter="url(#bl2)">
<ellipse cx="204.7" cy="201.6" rx="11.5" ry="2.2" fill="#0a18ee" fill-opacity="0.8"/>
</g>
<path d="M191.2 201.2h0M207.2 200.0h0M197.5 199.4h0M215.6 199.0h0M196.6 199.8h0M202.2 198.9h0M199.1 201.3h0M194.9 202.3h0M201.2 198.7h0M210.5 200.7h0M197.7 200.9h0M192.1 198.9h0M212.9 199.7h0M195.9 200.6h0M211.4 200.0h0M192.4 199.6h0M207.9 200.9h0M218.0 199.7h0M201.6 200.0h0M213.4 198.9h0M214.1 196.7h0M210.6 199.2h0M208.2 200.8h0M196.7 199.9h0M206.7 200.7h0M198.5 198.8h0M191.5 203.0h0M203.7 199.7h0M194.5 201.1h0M201.3 201.7h0M211.0 200.0h0M210.1 198.7h0M202.7 199.3h0M196.1 200.0h0M204.0 201.7h0M198.6 199.4h0M208.0 200.5h0M205.2 199.4h0M208.5 200.4h0M192.1 199.7h0M195.4 198.6h0M206.0 200.1h0M205.8 198.9h0M203.6 198.9h0M207.7 200.8h0M217.3 201.5h0M199.4 199.5h0M198.4 200.4h0" stroke="#1024f4" stroke-opacity="0.45" stroke-width="0.9" stroke-linecap="square"/>
<path d="M223.8 200.3h0M190.4 188.5h0M197.7 199.1h0M208.0 197.8h0M222.3 191.0h0M201.2 207.8h0M210.7 191.3h0M191.8 186.9h0M188.4 196.4h0M208.4 202.0h0M206.9 191.8h0M202.1 207.4h0M193.9 197.0h0M208.2 199.7h0M204.8 199.0h0M214.5 195.1h0M204.3 194.9h0M200.3 194.8h0M205.6 197.3h0M218.7 203.8h0" stroke="#1024f4" stroke-opacity="0.25" stroke-width="0.9" stroke-linecap="square"/>
<g filter="url(#bl)">
<ellipse cx="204.7" cy="201.9" rx="12.2" ry="1.5" fill="#0a18ee"/>
<ellipse cx="196" cy="202.1" rx="1.77" ry="0.85" fill="#28c4f4"/><ellipse cx="196" cy="202.1" rx="1.24" ry="0.59" fill="#70ea48"/>
<ellipse cx="208.8" cy="202.1" rx="2.12" ry="0.85" fill="#28c4f4"/><ellipse cx="208.8" cy="202.1" rx="1.48" ry="0.59" fill="#70ea48"/><ellipse cx="208.8" cy="202.1" rx="1.04" ry="0.42" fill="#f2e420"/>
</g>
<path d="M185.8 162V217.6H225.2" stroke="#c8c8c8" stroke-width="0.5" fill="none"/>
<path d="M183.8 216.6h2M184.7 214.1h1.1M184.7 211.6h1.1M184.7 209.1h1.1M183.8 206.6h2M184.7 204.1h1.1M184.7 201.6h1.1M184.7 199.1h1.1M183.8 196.6h2M184.7 194.1h1.1M184.7 191.6h1.1M184.7 189.1h1.1M183.8 186.6h2M184.7 184.1h1.1M184.7 181.6h1.1M184.7 179.1h1.1M183.8 176.6h2M184.7 174.1h1.1M184.7 171.6h1.1M184.7 169.1h1.1M183.8 166.6h2M184.7 164.1h1.1M189.74 217.6v1.8M191.71 217.6v1.1M193.29 217.6v1.1M194.47 217.6v1.1M195.45 217.6v1.1M198.8 217.6v1.8M200.77 217.6v1.1M202.35 217.6v1.1M203.53 217.6v1.1M204.51 217.6v1.1M207.86 217.6v1.8M209.83 217.6v1.1M211.41 217.6v1.1M212.59 217.6v1.1M213.58 217.6v1.1M216.93 217.6v1.8M218.9 217.6v1.1M220.47 217.6v1.1M221.65 217.6v1.1M222.64 217.6v1.1" stroke="#666" stroke-width="0.5" fill="none"/>
<rect x="183.9" y="200.7" width="1.9" height="2.6" fill="#222"/>
<rect x="192.68" y="218" width="2" height="1.4" fill="#111"/>
<path d="M214.6 148.8H225.2V197.8" fill="none" stroke="#9c9c9c" stroke-width="0.65"/>
<path d="M201 163.8V217.6" fill="none" stroke="#9a9a9a" stroke-width="1.0"/>
<path d="M185.8 197.8H225.2" fill="none" stroke="#444" stroke-width="0.95"/>
<text x="187.2" y="145.6" font-size="8" textLength="23.4" lengthAdjust="spacingAndGlyphs" stroke="#141414" stroke-width="0.12">CD19+</text>
<text x="187.2" y="154.5" font-size="8" textLength="19.7" lengthAdjust="spacingAndGlyphs" stroke="#141414" stroke-width="0.12">0.05%</text>
<g filter="url(#bl2)">
<ellipse cx="244.8" cy="192" rx="3" ry="8.5" fill="#0a18ee" fill-opacity="0.8"/>
<ellipse cx="251.5" cy="201.6" rx="12.5" ry="3" fill="#0a18ee" fill-opacity="0.9"/>
</g>
<path d="M244.0 195.6h0M245.4 196.6h0M244.8 193.6h0M243.9 187.3h0M246.5 199.8h0M246.1 194.6h0M245.3 189.3h0M241.4 196.0h0M245.2 188.7h0M243.0 199.7h0M241.4 202.6h0M246.0 206.2h0M243.4 191.9h0M243.8 192.9h0M244.4 187.5h0M246.8 187.3h0M243.8 195.3h0M243.8 189.4h0M245.5 189.8h0M242.4 191.4h0M244.4 202.2h0M242.7 197.8h0M243.3 189.9h0M244.2 193.6h0M246.4 202.5h0M243.6 200.0h0M246.7 196.9h0M243.4 197.4h0M244.6 194.1h0M244.3 196.0h0M246.9 198.8h0M244.4 198.0h0M247.6 186.4h0M247.6 184.0h0M245.8 195.6h0M247.6 193.7h0M243.9 187.2h0M242.4 196.6h0M244.3 187.7h0M245.8 187.4h0M244.0 189.2h0M247.9 200.8h0M244.5 182.6h0M245.3 192.4h0M245.5 195.4h0M244.2 197.6h0M246.4 193.3h0M244.0 189.1h0M246.1 185.4h0M244.5 187.5h0M242.2 195.6h0M244.8 192.2h0M246.5 183.0h0M244.7 193.7h0M246.4 185.5h0M246.2 193.3h0M247.4 198.8h0M245.8 204.9h0M244.8 189.5h0M244.2 186.4h0M244.7 180.7h0M244.6 194.6h0M246.7 189.9h0M247.4 188.1h0M244.5 180.7h0M243.4 187.3h0M247.6 195.1h0M242.8 195.1h0M245.7 190.6h0M244.8 190.2h0M243.8 181.6h0M244.6 199.5h0M247.5 190.4h0M243.4 190.8h0M246.5 194.1h0M243.7 194.1h0M244.4 195.0h0M244.0 183.4h0M244.9 196.5h0M242.7 191.4h0M246.4 189.8h0M243.6 203.9h0M246.3 198.0h0M243.0 201.5h0M241.7 189.0h0M246.2 199.8h0M243.1 188.1h0M245.2 180.7h0M246.0 195.3h0M244.0 195.1h0M246.2 193.8h0M245.8 200.8h0M243.9 192.9h0M243.8 198.0h0M244.0 194.8h0M245.1 192.4h0M248.0 191.5h0M247.4 196.8h0M247.2 191.0h0M246.5 196.4h0M243.7 193.6h0M244.6 191.8h0M247.2 187.8h0M241.7 181.9h0M244.0 188.3h0M244.8 195.3h0M248.0 193.8h0M245.6 187.7h0M245.9 199.9h0M247.3 180.7h0M246.4 201.2h0M246.3 183.4h0M244.2 195.4h0M245.6 187.3h0M243.2 197.6h0M242.4 200.3h0M244.8 193.7h0M242.4 188.6h0M246.1 183.5h0M248.6 183.9h0M242.6 192.2h0M245.7 196.2h0M244.1 190.8h0M244.4 188.7h0M240.1 197.5h0M245.3 192.9h0M243.7 193.4h0M244.8 191.6h0M246.8 182.1h0M245.3 185.9h0M244.2 200.6h0M242.8 191.4h0M243.7 197.5h0M243.0 182.3h0M245.7 190.0h0M244.2 198.2h0M243.2 189.8h0M245.1 194.4h0M243.9 198.0h0M248.9 189.6h0M248.2 179.8h0M247.4 190.0h0M245.1 190.0h0M243.6 184.6h0M244.1 199.5h0M246.9 190.0h0M243.8 188.0h0M242.6 202.4h0M246.0 192.7h0M243.9 186.1h0M247.2 196.5h0M243.1 197.7h0M242.8 195.7h0M243.0 189.6h0M245.7 194.5h0M246.6 187.2h0M247.7 199.7h0M244.8 194.7h0M243.4 191.1h0M242.4 192.5h0M245.2 199.7h0M246.5 196.7h0M244.1 190.7h0M244.2 193.3h0M241.3 196.4h0M241.9 189.0h0M244.8 189.0h0M247.8 191.4h0M247.7 198.8h0M243.9 194.3h0M247.2 190.1h0M245.0 188.8h0M244.9 190.0h0M245.0 197.8h0M247.3 192.8h0M245.2 196.9h0M244.3 185.9h0M246.8 186.6h0M246.5 186.4h0M248.1 186.0h0M246.3 200.6h0M243.0 200.6h0M243.3 181.8h0M246.1 196.0h0M244.4 177.5h0M244.7 190.2h0M244.1 190.3h0M241.5 188.7h0M248.1 200.9h0M244.1 187.9h0M245.5 198.1h0M246.1 185.3h0M245.1 192.8h0M247.4 198.9h0M245.8 199.0h0M244.1 200.9h0M244.0 194.3h0M246.5 186.7h0M243.5 181.9h0M245.1 191.7h0" stroke="#1024f4" stroke-opacity="0.55" stroke-width="0.9" stroke-linecap="square"/>
<path d="M249.8 197.9h0M237.8 195.9h0M252.6 195.0h0M257.3 202.7h0M249.0 192.4h0M247.9 196.4h0M255.9 192.7h0M258.7 192.1h0M257.6 197.6h0M255.1 204.3h0M250.2 195.4h0M255.2 199.3h0M243.0 197.1h0M247.0 198.4h0M261.2 196.2h0M251.3 196.7h0M255.8 196.6h0M249.3 193.2h0M250.8 200.7h0M251.3 201.2h0M234.7 194.2h0M253.8 195.9h0M240.8 193.4h0M260.4 191.0h0M245.3 191.8h0M248.3 198.5h0M256.0 188.2h0M261.8 193.7h0M248.0 202.4h0M251.5 191.2h0M247.7 193.2h0M245.2 194.7h0M257.9 197.3h0M242.7 206.7h0M245.3 196.4h0M252.2 198.9h0M249.8 197.8h0M266.2 196.4h0M244.7 197.3h0M246.6 194.6h0M253.3 197.3h0M250.1 199.3h0M250.7 191.0h0M257.9 194.6h0M260.2 193.5h0M255.8 197.2h0M233.9 190.3h0M244.5 201.4h0M239.3 199.5h0M259.3 197.9h0M256.5 194.1h0M251.9 196.9h0M254.8 198.7h0M250.6 193.3h0M248.2 197.6h0M240.8 191.2h0M249.2 193.9h0M250.2 185.8h0M249.7 195.0h0M257.2 188.4h0M249.9 197.8h0M255.3 200.6h0M259.1 192.0h0M256.3 194.7h0M246.6 201.9h0M247.8 192.7h0M249.3 192.7h0M258.8 197.5h0M261.4 197.6h0M247.9 200.0h0M247.6 194.2h0M250.9 196.2h0M260.0 193.7h0M254.4 195.9h0M243.5 191.8h0M250.5 197.6h0M254.2 197.8h0M252.3 194.3h0M254.9 192.1h0M242.9 194.7h0M242.4 194.0h0M247.0 193.9h0M251.7 192.9h0M249.1 189.4h0M253.0 192.6h0M254.7 185.1h0M246.6 196.9h0M235.5 194.6h0M252.6 196.4h0M241.9 196.9h0M253.0 192.2h0M257.0 195.8h0M252.1 194.3h0M255.7 196.4h0M259.7 197.7h0M247.8 195.1h0M258.2 194.6h0M254.6 198.0h0M250.8 187.0h0M252.9 196.8h0M252.9 193.1h0M260.2 195.5h0M247.8 193.2h0M254.4 191.8h0M245.2 203.7h0M260.9 200.1h0M261.2 198.3h0M240.6 200.6h0M260.4 197.9h0M238.7 200.8h0M261.3 194.1h0M252.9 199.0h0M251.4 200.3h0M252.6 198.7h0M252.6 190.3h0M245.3 208.3h0M253.9 201.1h0M259.7 202.6h0M255.8 193.7h0" stroke="#1024f4" stroke-opacity="0.35" stroke-width="0.9" stroke-linecap="square"/>
<path d="M248.1 169.3h0M246.7 193.9h0M253.6 197.6h0M241.7 180.3h0M235.3 177.1h0M251.6 204.1h0M240.2 198.0h0M250.9 181.7h0M262.9 164.0h0M247.5 187.9h0M262.5 201.7h0M263.4 187.2h0M254.7 197.9h0M251.5 189.1h0M246.8 182.4h0M239.6 203.0h0M245.0 167.8h0M249.8 185.7h0M249.2 201.9h0M247.3 183.7h0M242.9 185.8h0M245.0 187.8h0M269.3 189.4h0M242.2 202.9h0M253.9 193.1h0M252.9 193.2h0M252.6 198.3h0M254.9 197.8h0M244.6 186.0h0M243.0 194.4h0M253.7 181.9h0M252.0 209.0h0M256.4 176.2h0M247.4 191.6h0M247.8 189.4h0M256.0 188.9h0M240.5 192.3h0M247.3 187.0h0M244.1 173.9h0" stroke="#1024f4" stroke-opacity="0.25" stroke-width="0.9" stroke-linecap="square"/>
<g filter="url(#bl)">
<ellipse cx="251.3" cy="202.1" rx="12.3" ry="1.8" fill="#0a18ee"/>
<ellipse cx="241.5" cy="202.1" rx="1.77" ry="0.85" fill="#28c4f4"/><ellipse cx="241.5" cy="202.1" rx="1.24" ry="0.59" fill="#70ea48"/>
<ellipse cx="258" cy="202.1" rx="2.12" ry="0.92" fill="#28c4f4"/><ellipse cx="258" cy="202.1" rx="1.48" ry="0.64" fill="#70ea48"/><ellipse cx="258" cy="202.1" rx="1.04" ry="0.45" fill="#f2e420"/>
</g>
<path d="M233.3 161V217.6H271.6" stroke="#c8c8c8" stroke-width="0.5" fill="none"/>
<path d="M231.3 216.6h2M232.2 214.1h1.1M232.2 211.6h1.1M232.2 209.1h1.1M231.3 206.6h2M232.2 204.1h1.1M232.2 201.6h1.1M232.2 199.1h1.1M231.3 196.6h2M232.2 194.1h1.1M232.2 191.6h1.1M232.2 189.1h1.1M231.3 186.6h2M232.2 184.1h1.1M232.2 181.6h1.1M232.2 179.1h1.1M231.3 176.6h2M232.2 174.1h1.1M232.2 171.6h1.1M232.2 169.1h1.1M231.3 166.6h2M232.2 164.1h1.1M232.2 161.6h1.1M237.13 217.6v1.8M239.05 217.6v1.1M240.58 217.6v1.1M241.73 217.6v1.1M242.68 217.6v1.1M245.94 217.6v1.8M247.85 217.6v1.1M249.39 217.6v1.1M250.54 217.6v1.1M251.49 217.6v1.1M254.75 217.6v1.8M256.66 217.6v1.1M258.19 217.6v1.1M259.34 217.6v1.1M260.3 217.6v1.1M263.56 217.6v1.8M265.47 217.6v1.1M267 217.6v1.1M268.15 217.6v1.1M269.11 217.6v1.1" stroke="#666" stroke-width="0.5" fill="none"/>
<rect x="231.4" y="200.7" width="1.9" height="2.6" fill="#222"/>
<rect x="239.96" y="218" width="2" height="1.4" fill="#111"/>
<path d="M253.5 148.8H271.6V189.2" fill="none" stroke="#9c9c9c" stroke-width="0.65"/>
<path d="M253.5 149.6L249.2 195V217.6" fill="none" stroke="#9a9a9a" stroke-width="1.0"/>
<path d="M233.3 195.5H250Q261 195 271.6 189.2" fill="none" stroke="#444" stroke-width="0.95"/>
<text x="233.5" y="145.6" font-size="8" textLength="23.4" lengthAdjust="spacingAndGlyphs" stroke="#141414" stroke-width="0.12">CD19+</text>
<text x="233.5" y="154.5" font-size="8" textLength="10.1" lengthAdjust="spacingAndGlyphs" stroke="#141414" stroke-width="0.12">1%</text>
<g filter="url(#bl2)">
<ellipse cx="293.6" cy="191.5" rx="3.2" ry="7.5" fill="#0a18ee" fill-opacity="0.8"/>
<ellipse cx="301" cy="201.6" rx="12.5" ry="3" fill="#0a18ee" fill-opacity="0.9"/>
</g>
<path d="M291.1 189.3h0M291.4 177.8h0M295.9 185.3h0M292.1 193.6h0M288.7 197.5h0M292.0 194.2h0M292.6 192.5h0M293.8 191.0h0M289.9 183.8h0M293.5 197.9h0M292.5 193.6h0M293.9 193.4h0M295.6 183.7h0M294.2 190.1h0M293.0 186.8h0M292.0 186.0h0M291.4 203.2h0M297.1 191.0h0M295.1 186.2h0M287.9 182.1h0M293.9 198.0h0M293.5 186.1h0M293.1 186.1h0M290.7 189.9h0M292.8 187.0h0M291.8 186.5h0M294.1 197.8h0M293.2 201.9h0M290.3 192.3h0M291.2 190.2h0M293.8 193.7h0M295.9 188.3h0M291.1 190.1h0M294.2 187.6h0M295.4 199.2h0M290.7 192.8h0M295.7 181.6h0M294.0 189.9h0M290.7 197.4h0M294.0 188.7h0M294.5 194.1h0M295.2 193.8h0M294.4 185.3h0M292.7 191.6h0M287.9 201.4h0M292.8 185.9h0M289.9 192.2h0M293.7 188.2h0M292.7 186.7h0M292.1 190.5h0M292.3 194.3h0M293.3 191.6h0M294.4 197.2h0M294.8 192.1h0M293.3 187.1h0M292.9 194.3h0M294.1 189.1h0M290.9 183.5h0M294.3 196.0h0M294.4 184.3h0M293.2 192.1h0M291.7 192.7h0M293.2 186.9h0M291.1 195.0h0M294.3 186.7h0M291.5 195.3h0M294.8 189.5h0M296.9 189.6h0M291.4 196.3h0M293.2 192.7h0M293.7 186.1h0M291.2 190.1h0M296.5 186.1h0M296.4 192.1h0M291.3 192.3h0M294.8 186.6h0M289.2 192.7h0M291.3 193.1h0M289.7 190.3h0M291.9 183.8h0M293.1 191.8h0M292.5 185.3h0M294.0 182.5h0M294.7 193.4h0M297.0 195.3h0M294.3 192.3h0M293.7 184.6h0M296.6 193.6h0M293.0 185.4h0M296.6 193.6h0M291.2 194.3h0M297.5 190.9h0M294.4 189.0h0M292.3 196.2h0M299.9 191.6h0M293.3 194.9h0M293.0 194.5h0M295.3 186.1h0M291.4 190.6h0M295.3 192.3h0M296.1 184.3h0M294.6 188.0h0M293.8 192.6h0M291.6 189.9h0M291.2 192.3h0M291.9 188.6h0M294.0 187.8h0M295.9 187.9h0M295.3 192.4h0M291.5 189.9h0M291.9 189.2h0M293.0 199.8h0M292.7 198.6h0M294.5 184.7h0M288.9 194.3h0M289.5 194.5h0M295.7 192.9h0M293.2 189.8h0M294.1 189.5h0M292.5 189.2h0M296.0 188.0h0M294.4 185.4h0M292.2 184.3h0M293.2 194.3h0M294.2 188.6h0M294.8 189.3h0M294.4 192.3h0M294.7 179.0h0M291.0 194.7h0M293.4 201.9h0M293.1 188.3h0M296.6 193.7h0M297.5 193.5h0M293.2 194.5h0M292.0 188.8h0M292.5 189.9h0M295.2 188.7h0M294.3 188.6h0M295.4 177.7h0M293.2 191.8h0M291.4 195.9h0M294.0 197.2h0M295.6 194.1h0M293.3 185.7h0M293.2 188.8h0M294.1 188.8h0M299.8 183.3h0M296.0 188.7h0M293.1 195.5h0M293.6 185.1h0M294.4 190.1h0M289.4 192.0h0M291.5 187.4h0M294.6 192.4h0M293.0 201.5h0M294.5 188.0h0M294.1 190.4h0M289.1 183.4h0M290.8 201.0h0M293.2 189.7h0M292.5 195.7h0M293.7 199.2h0M295.2 198.9h0M293.4 192.8h0M292.7 190.2h0M290.1 188.2h0M291.7 187.9h0M296.1 192.3h0M296.1 195.1h0M295.5 195.8h0M292.4 194.9h0M292.9 188.4h0M296.0 201.4h0M291.6 199.4h0M295.3 186.9h0M294.2 192.8h0M294.4 189.3h0M291.0 191.2h0M295.3 194.8h0M294.9 196.3h0M291.6 190.8h0M294.3 195.8h0M293.9 193.5h0M293.9 201.1h0M289.2 190.9h0M298.6 192.1h0M289.9 191.6h0M290.7 187.7h0M294.1 199.3h0M294.5 194.2h0M295.7 192.0h0M291.9 190.5h0M294.3 189.7h0M292.2 189.3h0M290.6 186.1h0M293.4 189.3h0M293.7 197.8h0M294.2 190.8h0M291.2 185.8h0M294.4 186.8h0" stroke="#1024f4" stroke-opacity="0.55" stroke-width="0.9" stroke-linecap="square"/>
<path d="M304.9 188.8h0M302.9 193.6h0M308.7 192.1h0M299.5 195.2h0M302.4 202.1h0M300.3 191.4h0M299.8 196.3h0M303.6 197.3h0M292.7 205.9h0M314.4 193.8h0M293.9 194.7h0M304.8 183.3h0M302.1 186.9h0M305.1 200.6h0M309.0 186.8h0M311.3 198.4h0M299.6 196.4h0M312.2 192.4h0M301.9 191.3h0M309.8 183.6h0M311.6 189.3h0M308.2 186.2h0M295.7 191.1h0M307.6 186.2h0M306.1 190.9h0M310.4 192.5h0M305.3 193.2h0M314.1 192.3h0M301.8 203.5h0M302.5 197.3h0M297.0 195.0h0M286.7 194.5h0M297.6 186.8h0M292.5 199.5h0M304.9 186.7h0M314.2 190.7h0M299.5 195.2h0M294.3 186.2h0M297.0 199.7h0M308.4 186.4h0M310.1 194.2h0M305.4 194.2h0M304.8 189.2h0M295.9 190.6h0M299.5 197.0h0M293.8 201.7h0M297.7 191.2h0M306.7 196.1h0M299.7 188.9h0M295.3 186.3h0M309.7 199.2h0M314.6 196.4h0M304.2 197.6h0M308.4 192.8h0M304.4 204.4h0M290.6 187.2h0M295.5 197.6h0M310.0 192.4h0M306.5 193.8h0M304.0 191.4h0M301.8 194.0h0M309.6 204.7h0M289.8 196.6h0M302.0 198.7h0M309.2 197.8h0M307.5 189.4h0M290.5 202.0h0M310.1 189.4h0M310.7 197.2h0M285.5 198.3h0M295.3 199.6h0M297.4 190.4h0M291.6 193.0h0M308.9 190.8h0M289.5 204.3h0M314.4 197.3h0M298.4 188.2h0M291.0 196.7h0M310.8 188.9h0M302.0 192.7h0M300.3 196.4h0M316.1 190.9h0M307.7 199.2h0M300.1 193.3h0M293.0 199.2h0M298.4 190.8h0M302.5 189.9h0M295.0 192.6h0M312.0 193.0h0M305.6 186.9h0M288.9 202.8h0M299.3 186.6h0M301.3 196.9h0M290.3 189.7h0M303.8 189.6h0M307.4 198.6h0M305.0 191.9h0M301.7 190.9h0M301.1 195.5h0M300.0 198.7h0" stroke="#1024f4" stroke-opacity="0.3" stroke-width="0.9" stroke-linecap="square"/>
<path d="M303.3 193.9h0M306.2 183.7h0M295.4 195.7h0M306.0 190.9h0M292.2 192.1h0M307.7 184.2h0M306.2 207.0h0M288.7 172.8h0M297.7 191.3h0M300.5 174.7h0M286.1 180.6h0M300.1 178.0h0M285.5 203.0h0M291.9 184.5h0M294.7 180.3h0M300.4 183.1h0M306.0 174.5h0M285.6 204.9h0M299.3 193.4h0M311.4 191.4h0M300.4 170.9h0M284.5 195.5h0M306.6 191.5h0M283.9 165.4h0M289.8 174.6h0M301.5 176.1h0M315.3 180.0h0M294.6 194.4h0" stroke="#1024f4" stroke-opacity="0.25" stroke-width="0.9" stroke-linecap="square"/>
<g filter="url(#bl)">
<ellipse cx="300.9" cy="201.9" rx="12.1" ry="1.8" fill="#0a18ee"/>
<ellipse cx="291.5" cy="201.9" rx="1.77" ry="0.85" fill="#28c4f4"/><ellipse cx="291.5" cy="201.9" rx="1.24" ry="0.59" fill="#70ea48"/>
<ellipse cx="307.7" cy="201.9" rx="2.12" ry="0.92" fill="#28c4f4"/><ellipse cx="307.7" cy="201.9" rx="1.48" ry="0.64" fill="#70ea48"/><ellipse cx="307.7" cy="201.9" rx="1.04" ry="0.45" fill="#f2e420"/><ellipse cx="307.7" cy="201.9" rx="0.73" ry="0.32" fill="#ff7a10"/>
</g>
<path d="M282.4 162V217.6H322.2" stroke="#c8c8c8" stroke-width="0.5" fill="none"/>
<path d="M280.4 216.6h2M281.3 214.1h1.1M281.3 211.6h1.1M281.3 209.1h1.1M280.4 206.6h2M281.3 204.1h1.1M281.3 201.6h1.1M281.3 199.1h1.1M280.4 196.6h2M281.3 194.1h1.1M281.3 191.6h1.1M281.3 189.1h1.1M280.4 186.6h2M281.3 184.1h1.1M281.3 181.6h1.1M281.3 179.1h1.1M280.4 176.6h2M281.3 174.1h1.1M281.3 171.6h1.1M281.3 169.1h1.1M280.4 166.6h2M281.3 164.1h1.1M286.38 217.6v1.8M288.37 217.6v1.1M289.96 217.6v1.1M291.16 217.6v1.1M292.15 217.6v1.1M295.53 217.6v1.8M297.52 217.6v1.1M299.12 217.6v1.1M300.31 217.6v1.1M301.31 217.6v1.1M304.69 217.6v1.8M306.68 217.6v1.1M308.27 217.6v1.1M309.46 217.6v1.1M310.46 217.6v1.1M313.84 217.6v1.8M315.83 217.6v1.1M317.42 217.6v1.1M318.62 217.6v1.1M319.61 217.6v1.1" stroke="#666" stroke-width="0.5" fill="none"/>
<rect x="280.5" y="200.6" width="1.9" height="2.6" fill="#222"/>
<rect x="289.36" y="218" width="2" height="1.4" fill="#111"/>
<path d="M313.2 148.8H322.2V217.6" fill="none" stroke="#9c9c9c" stroke-width="0.65"/>
<path d="M297.9 162V217.6" fill="none" stroke="#9a9a9a" stroke-width="1.0"/>
<path d="M282.4 198.3H322.2" fill="none" stroke="#444" stroke-width="0.95"/>
<text x="284.5" y="145.6" font-size="8" textLength="23.4" lengthAdjust="spacingAndGlyphs" stroke="#141414" stroke-width="0.12">CD19+</text>
<text x="284.5" y="154.5" font-size="8" textLength="15.9" lengthAdjust="spacingAndGlyphs" stroke="#141414" stroke-width="0.12">2.9%</text>
<path d="M29.5 170.6V223.3H69.8" fill="none" stroke="#b2173e" stroke-width="1.1"/>
<path d="M29.5 167.6L27.5 171.8L31.5 171.8Z M72.8 223.3L68.6 221.3L68.6 225.3Z" fill="#b2173e"/>
<text transform="translate(24.47,194.9) rotate(-90)" font-size="10.2" text-anchor="middle" textLength="18" lengthAdjust="spacingAndGlyphs" stroke="#141414" stroke-width="0.12">CD19</text>
<text x="44.6" y="234.8" font-size="10.2" textLength="14.2" lengthAdjust="spacingAndGlyphs" stroke="#141414" stroke-width="0.12">CD3</text>
<path d="M369.4 21V150.1H495.6M366.4 140.3h3M366.4 120.85h3M366.4 101.4h3M366.4 81.95h3M366.4 62.5h3M366.4 43.05h3M366.4 23.6h3M380.2 150.1v2.6M401 150.1v2.6M422.1 150.1v2.6M442.9 150.1v2.6M463.8 150.1v2.6M484.7 150.1v2.6" stroke="#222" stroke-width="1.15" fill="none"/>
<text x="363.6" y="143.3" font-size="8.6" text-anchor="end" textLength="4.1" lengthAdjust="spacingAndGlyphs" fill="#222" stroke="#222" stroke-width="0.12">0</text>
<text x="363.6" y="123.85" font-size="8.6" text-anchor="end" textLength="8.3" lengthAdjust="spacingAndGlyphs" fill="#222" stroke="#222" stroke-width="0.12">20</text>
<text x="363.6" y="104.4" font-size="8.6" text-anchor="end" textLength="8.3" lengthAdjust="spacingAndGlyphs" fill="#222" stroke="#222" stroke-width="0.12">40</text>
<text x="363.6" y="84.95" font-size="8.6" text-anchor="end" textLength="8.3" lengthAdjust="spacingAndGlyphs" fill="#222" stroke="#222" stroke-width="0.12">60</text>
<text x="363.6" y="65.5" font-size="8.6" text-anchor="end" textLength="8.3" lengthAdjust="spacingAndGlyphs" fill="#222" stroke="#222" stroke-width="0.12">80</text>
<text x="363.6" y="46.05" font-size="8.6" text-anchor="end" textLength="12.7" lengthAdjust="spacingAndGlyphs" fill="#222" stroke="#222" stroke-width="0.12">100</text>
<text x="363.6" y="26.6" font-size="8.6" text-anchor="end" textLength="12.7" lengthAdjust="spacingAndGlyphs" fill="#222" stroke="#222" stroke-width="0.12">120</text>
<path d="M371 140.3H496" stroke="#333" stroke-width="0.9" stroke-dasharray="0.9 1.1"/>
<text transform="translate(344.64,85.5) rotate(-90)" font-size="9" text-anchor="middle" textLength="67.5" lengthAdjust="spacingAndGlyphs" fill="#333" stroke="#333" stroke-width="0.12">% Tcell proliferation</text>
<text transform="translate(383.48,156.6) rotate(-90)" font-size="9.1" text-anchor="end" textLength="47.2" lengthAdjust="spacingAndGlyphs" stroke="#141414" stroke-width="0.12">Unstimulated</text>
<text transform="translate(404.28,156.6) rotate(-90)" font-size="9.1" text-anchor="end" textLength="74.1" lengthAdjust="spacingAndGlyphs" stroke="#141414" stroke-width="0.12">10nM blinatumomab</text>
<text transform="translate(425.38,156.6) rotate(-90)" font-size="9.1" text-anchor="end" textLength="55.8" lengthAdjust="spacingAndGlyphs" stroke="#141414" stroke-width="0.12">500nM imatinib</text>
<text transform="translate(446.18,156.6) rotate(-90)" font-size="9.1" text-anchor="end" textLength="50.9" lengthAdjust="spacingAndGlyphs" stroke="#141414" stroke-width="0.12">50nM nilotinib</text>
<text transform="translate(467.08,156.6) rotate(-90)" font-size="9.1" text-anchor="end" textLength="49.9" lengthAdjust="spacingAndGlyphs" stroke="#141414" stroke-width="0.12">5nM dasatinib</text>
<text transform="translate(487.98,156.6) rotate(-90)" font-size="9.1" text-anchor="end" textLength="55.2" lengthAdjust="spacingAndGlyphs" stroke="#141414" stroke-width="0.12">25nM ponatinib</text>
<path d="M419.6 216.3V219.7M419.6 218H488.6M488.6 216.3V219.7" stroke="#222" stroke-width="0.95" fill="none"/>
<text x="454.2" y="229.4" font-size="8" text-anchor="middle" textLength="73.4" lengthAdjust="spacingAndGlyphs" stroke="#141414" stroke-width="0.12">10nM blinatumomab</text>
<path d="M379.2 55.2V51.7H401.2V55.2" fill="none" stroke="#3a3a3a" stroke-width="1"/>
<path d="M401.2 48.2V44H421.4V48.2" fill="none" stroke="#3a3a3a" stroke-width="1"/>
<path d="M401.2 37.3V33.1H442.3V37.3" fill="none" stroke="#3a3a3a" stroke-width="1"/>
<path d="M401.2 27.7V23.8H467.1V27.7" fill="none" stroke="#3a3a3a" stroke-width="1"/>
<path d="M401.2 17.1V12.9H488.2V17.1" fill="none" stroke="#3a3a3a" stroke-width="1"/>
<text x="390" y="50.9" font-size="8.6" text-anchor="middle" textLength="6.2" lengthAdjust="spacingAndGlyphs" fill="#333" stroke="#333" stroke-width="0.12">**</text>
<text x="411.3" y="41.4" font-size="7.6" text-anchor="middle" fill="#333" stroke="#333" stroke-width="0.12">ns</text>
<text x="421.7" y="30" font-size="7.6" text-anchor="middle" fill="#333" stroke="#333" stroke-width="0.12">ns</text>
<text x="433.8" y="24.2" font-size="8.6" text-anchor="middle" textLength="6.2" lengthAdjust="spacingAndGlyphs" fill="#333" stroke="#333" stroke-width="0.12">**</text>
<text x="444.8" y="13.9" font-size="8.6" text-anchor="middle" textLength="6.2" lengthAdjust="spacingAndGlyphs" fill="#333" stroke="#333" stroke-width="0.12">**</text>
<path d="M401 61.2V112.8M397.7 61.2h6.6M397.7 112.8h6.6" stroke="#3c3c3c" stroke-width="1.2" fill="none"/>
<path d="M394 87.2h14" stroke="#111" stroke-width="1.25" fill="none"/>
<path d="M422.1 65.6V116.3M418.8 65.6h6.6M418.8 116.3h6.6" stroke="#3c3c3c" stroke-width="1.2" fill="none"/>
<path d="M415.2 91.2h13.8" stroke="#111" stroke-width="1.25" fill="none"/>
<path d="M442.9 63.8V118.3M439.6 63.8h6.6M439.6 118.3h6.6" stroke="#3c3c3c" stroke-width="1.2" fill="none"/>
<path d="M436 91.5h13.8" stroke="#111" stroke-width="1.25" fill="none"/>
<path d="M463.8 120.5V147.2M460.5 120.5h6.6M460.5 147.2h6.6" stroke="#3c3c3c" stroke-width="1.2" fill="none"/>
<path d="M456.9 133.8h13.8" stroke="#111" stroke-width="1.25" fill="none"/>
<path d="M375 136.1L377.4 138.5L375 140.9L372.6 138.5Z" fill="#4a1c6e"/>
<path d="M377.7 134.07L380 138.44H375.4Z" fill="#4fae37"/>
<path d="M381.8 138.93L384.1 134.56H379.5Z" fill="#ec941c"/>
<rect x="377.3" y="137.5" width="4.2" height="4.2" fill="#1d4f91"/>
<circle cx="384.6" cy="139.8" r="2.3" fill="#b0002a"/>
<circle cx="401" cy="101.4" r="2.3" fill="#b0002a"/>
<path d="M401 122.17L403.3 126.54H398.7Z" fill="#4fae37"/>
<path d="M401 80.23L403.3 75.86H398.7Z" fill="#ec941c"/>
<rect x="398.9" y="70" width="4.2" height="4.2" fill="#1d4f91"/>
<path d="M401 58L403.4 60.4L401 62.8L398.6 60.4Z" fill="#4a1c6e"/>
<circle cx="418" cy="91.8" r="2.3" fill="#b0002a"/>
<path d="M422.1 118.47L424.4 122.84H419.8Z" fill="#4fae37"/>
<rect x="415.3" y="89.7" width="4.2" height="4.2" fill="#1d4f91"/>
<path d="M426.4 95.83L428.7 91.46H424.1Z" fill="#ec941c"/>
<path d="M422.1 55.9L424.5 58.3L422.1 60.7L419.7 58.3Z" fill="#4a1c6e"/>
<circle cx="438.5" cy="89.4" r="2.3" fill="#b0002a"/>
<path d="M442.9 123.27L445.2 127.64H440.6Z" fill="#4fae37"/>
<rect x="436.4" y="87.3" width="4.2" height="4.2" fill="#1d4f91"/>
<path d="M447.7 92.33L450 87.96H445.4Z" fill="#ec941c"/>
<path d="M442.9 56.6L445.3 59L442.9 61.4L440.5 59Z" fill="#4a1c6e"/>
<circle cx="459.4" cy="140.1" r="2.3" fill="#b0002a"/>
<path d="M463.8 136.47L466.1 140.84H461.5Z" fill="#4fae37"/>
<path d="M466 142.13L468.3 137.76H463.7Z" fill="#ec941c"/>
<rect x="466.9" y="138" width="4.2" height="4.2" fill="#1d4f91"/>
<path d="M463.8 107.1L466.2 109.5L463.8 111.9L461.4 109.5Z" fill="#4a1c6e"/>
<path d="M480.5 142.13L482.8 137.76H478.2Z" fill="#ec941c"/>
<path d="M483.2 137.47L485.5 141.84H480.9Z" fill="#4fae37"/>
<circle cx="485.5" cy="140.3" r="2.3" fill="#b0002a"/>
<rect x="487.7" y="138.2" width="4.2" height="4.2" fill="#1d4f91"/>
<path d="M487.4 137.9L489.8 140.3L487.4 142.7L485 140.3Z" fill="#4a1c6e"/>
<path d="M373.2 138.5h14" stroke="#111" stroke-width="1.25" fill="none"/>
<path d="M478.2 140.2h13" stroke="#111" stroke-width="1.25" fill="none"/>
<circle cx="492.3" cy="62.3" r="2.3" fill="#b0002a"/>
<text x="498.2" y="64.9" font-size="7.2" textLength="14.1" lengthAdjust="spacingAndGlyphs" fill="#333" stroke="#333" stroke-width="0.12">HD1</text>
<rect x="490.2" y="70.2" width="4.2" height="4.2" fill="#1d4f91"/>
<text x="498.2" y="74.9" font-size="7.2" textLength="14.1" lengthAdjust="spacingAndGlyphs" fill="#333" stroke="#333" stroke-width="0.12">HD2</text>
<path d="M492.3 79.77L494.6 84.14H490Z" fill="#4fae37"/>
<text x="498.2" y="84.9" font-size="7.2" textLength="14.1" lengthAdjust="spacingAndGlyphs" fill="#333" stroke="#333" stroke-width="0.12">HD3</text>
<path d="M492.3 89.9L494.7 92.3L492.3 94.7L489.9 92.3Z" fill="#4a1c6e"/>
<text x="498.2" y="94.9" font-size="7.2" textLength="14.1" lengthAdjust="spacingAndGlyphs" fill="#333" stroke="#333" stroke-width="0.12">HD4</text>
<path d="M492.3 104.83L494.6 100.46H490Z" fill="#ec941c"/>
<text x="498.2" y="104.9" font-size="7.2" textLength="14.1" lengthAdjust="spacingAndGlyphs" fill="#333" stroke="#333" stroke-width="0.12">HD5</text>
<text x="62.5" y="271.3" font-size="8" text-anchor="middle" textLength="46.75" lengthAdjust="spacingAndGlyphs" stroke="#141414" stroke-width="0.12">Unstimulated</text>
<text x="122.25" y="271.3" font-size="8" text-anchor="middle" textLength="39.75" lengthAdjust="spacingAndGlyphs" stroke="#141414" stroke-width="0.12">10nM Blina</text>
<text x="185" y="271.3" font-size="8" text-anchor="middle" textLength="38.25" lengthAdjust="spacingAndGlyphs" stroke="#141414" stroke-width="0.12">5nM dasat</text>
<text x="246.9" y="261.8" font-size="8" text-anchor="middle" textLength="39.5" lengthAdjust="spacingAndGlyphs" stroke="#141414" stroke-width="0.12">10nM Blina</text>
<text x="246.9" y="271.3" font-size="8" text-anchor="middle" textLength="38.25" lengthAdjust="spacingAndGlyphs" stroke="#141414" stroke-width="0.12">5nM dasat</text>
<text x="310.15" y="261.8" font-size="8" text-anchor="middle" textLength="39.5" lengthAdjust="spacingAndGlyphs" stroke="#141414" stroke-width="0.12">10nM Blina</text>
<text x="310.15" y="271.3" font-size="8" text-anchor="middle" textLength="42.5" lengthAdjust="spacingAndGlyphs" stroke="#141414" stroke-width="0.12">500nM imat</text>
<text x="372.1" y="261.8" font-size="8" text-anchor="middle" textLength="39.5" lengthAdjust="spacingAndGlyphs" stroke="#141414" stroke-width="0.12">10nM Blina</text>
<text x="372.1" y="271.3" font-size="8" text-anchor="middle" textLength="38.5" lengthAdjust="spacingAndGlyphs" stroke="#141414" stroke-width="0.12">50nM nilot</text>
<text x="435.15" y="261.8" font-size="8" text-anchor="middle" textLength="40" lengthAdjust="spacingAndGlyphs" stroke="#141414" stroke-width="0.12">10nM Blina</text>
<text x="435.15" y="271.3" font-size="8" text-anchor="middle" textLength="43.8" lengthAdjust="spacingAndGlyphs" stroke="#141414" stroke-width="0.12">25nM ponat</text>
<path d="M72.5 335.4C72.72 334.5 73.42 334.23 73.8 330C74.18 325.77 74.5 316.67 74.8 310C75.1 303.33 75.36 294.58 75.6 290C75.84 285.42 76.02 282.5 76.25 282.5C76.48 282.5 76.74 285.42 77 290C77.26 294.58 77.47 305 77.8 310C78.13 315 78.58 317.83 79 320C79.42 322.17 79.92 321.67 80.3 323C80.68 324.33 80.93 326.25 81.3 328C81.67 329.75 82.13 332.27 82.5 333.5C82.87 334.73 83.33 335.08 83.5 335.4Z" fill="#cc8878" stroke="none"/>
<path d="M72.5 335.4C72.72 334.5 73.42 334.23 73.8 330C74.18 325.77 74.5 316.67 74.8 310C75.1 303.33 75.36 294.58 75.6 290C75.84 285.42 76.02 282.5 76.25 282.5C76.48 282.5 76.74 285.42 77 290C77.26 294.58 77.47 305 77.8 310C78.13 315 78.58 317.83 79 320C79.42 322.17 79.92 321.67 80.3 323C80.68 324.33 80.93 326.25 81.3 328C81.67 329.75 82.13 332.27 82.5 333.5C82.87 334.73 83.33 335.08 83.5 335.4" fill="none" stroke="#a8163a" stroke-width="1.3" stroke-linejoin="round" stroke-linecap="round"/>
<rect x="36.7" y="276.5" width="51.6" height="58.9" fill="none" stroke="#1a1a1a" stroke-width="1.2"/>
<path d="M33.7 334.9h3M34.6 332.8h2.1M34.6 330.7h2.1M34.6 328.6h2.1M34.6 326.5h2.1M33.7 324.4h3M34.6 322.3h2.1M34.6 320.2h2.1M34.6 318.1h2.1M34.6 316h2.1M33.7 313.9h3M34.6 311.8h2.1M34.6 309.7h2.1M34.6 307.6h2.1M34.6 305.5h2.1M33.7 303.4h3M34.6 301.3h2.1M34.6 299.2h2.1M34.6 297.1h2.1M34.6 295h2.1M33.7 292.9h3M34.6 290.8h2.1M34.6 288.7h2.1M34.6 286.6h2.1M34.6 284.5h2.1M33.7 282.4h3M34.6 280.3h2.1" stroke="#222" stroke-width="0.75" fill="none"/>
<path d="M41.86 335.4v2.6M44.18 335.4v1.9M45.99 335.4v1.9M47.54 335.4v1.9M48.83 335.4v1.9M49.86 335.4v1.9M53.99 335.4v2.6M56.31 335.4v1.9M58.11 335.4v1.9M59.66 335.4v1.9M60.95 335.4v1.9M61.98 335.4v1.9M66.11 335.4v2.6M68.43 335.4v1.9M70.24 335.4v1.9M71.79 335.4v1.9M73.08 335.4v1.9M74.11 335.4v1.9M78.24 335.4v2.6M80.56 335.4v1.9M82.37 335.4v1.9M83.91 335.4v1.9M85.2 335.4v1.9M86.24 335.4v1.9" stroke="#222" stroke-width="0.8" fill="none"/>
<rect x="47.05" y="336" width="2" height="1.4" fill="#111"/>
<path d="M107.2 335.4C107.37 330.33 107.82 314.02 108.2 305C108.58 295.98 109.12 283.42 109.5 281.25C109.88 279.08 110.17 286.88 110.5 292C110.83 297.12 111.17 306.83 111.5 312C111.83 317.17 111.92 320.08 112.5 323C113.08 325.92 114.17 328.08 115 329.5C115.83 330.92 116.33 330.88 117.5 331.5C118.67 332.12 120.25 332.78 122 333.2C123.75 333.62 125.83 333.82 128 334C130.17 334.18 133.21 334.38 135 334.3C136.79 334.22 137.75 333.47 138.75 333.5C139.75 333.53 140.38 334.18 141 334.5C141.62 334.82 142.25 335.25 142.5 335.4Z" fill="#cc8878" stroke="none"/>
<path d="M107.2 335.4C107.37 330.33 107.82 314.02 108.2 305C108.58 295.98 109.12 283.42 109.5 281.25C109.88 279.08 110.17 286.88 110.5 292C110.83 297.12 111.17 306.83 111.5 312C111.83 317.17 111.92 320.08 112.5 323C113.08 325.92 114.17 328.08 115 329.5C115.83 330.92 116.33 330.88 117.5 331.5C118.67 332.12 120.25 332.78 122 333.2C123.75 333.62 125.83 333.82 128 334C130.17 334.18 133.21 334.38 135 334.3C136.79 334.22 137.75 333.47 138.75 333.5C139.75 333.53 140.38 334.18 141 334.5C141.62 334.82 142.25 335.25 142.5 335.4" fill="none" stroke="#a8163a" stroke-width="1.3" stroke-linejoin="round" stroke-linecap="round"/>
<rect x="96.3" y="276.5" width="51.9" height="58.9" fill="none" stroke="#1a1a1a" stroke-width="1.2"/>
<path d="M93.3 334.9h3M94.2 332.8h2.1M94.2 330.7h2.1M94.2 328.6h2.1M94.2 326.5h2.1M93.3 324.4h3M94.2 322.3h2.1M94.2 320.2h2.1M94.2 318.1h2.1M94.2 316h2.1M93.3 313.9h3M94.2 311.8h2.1M94.2 309.7h2.1M94.2 307.6h2.1M94.2 305.5h2.1M93.3 303.4h3M94.2 301.3h2.1M94.2 299.2h2.1M94.2 297.1h2.1M94.2 295h2.1M93.3 292.9h3M94.2 290.8h2.1M94.2 288.7h2.1M94.2 286.6h2.1M94.2 284.5h2.1M93.3 282.4h3M94.2 280.3h2.1" stroke="#222" stroke-width="0.75" fill="none"/>
<path d="M101.49 335.4v2.6M103.83 335.4v1.9M105.64 335.4v1.9M107.2 335.4v1.9M108.5 335.4v1.9M109.53 335.4v1.9M113.69 335.4v2.6M116.02 335.4v1.9M117.84 335.4v1.9M119.4 335.4v1.9M120.69 335.4v1.9M121.73 335.4v1.9M125.88 335.4v2.6M128.22 335.4v1.9M130.03 335.4v1.9M131.59 335.4v1.9M132.89 335.4v1.9M133.93 335.4v1.9M138.08 335.4v2.6M140.41 335.4v1.9M142.23 335.4v1.9M143.79 335.4v1.9M145.09 335.4v1.9M146.12 335.4v1.9" stroke="#222" stroke-width="0.8" fill="none"/>
<rect x="106.72" y="336" width="2" height="1.4" fill="#111"/>
<path d="M182 335.4C183 335.27 186.17 334.87 188 334.6C189.83 334.33 191.77 335.07 193 333.8C194.23 332.53 194.78 331.8 195.4 327C196.02 322.2 196.33 311.5 196.7 305C197.07 298.5 197.34 291.83 197.6 288C197.86 284.17 198.02 281.67 198.25 282C198.48 282.33 198.74 286.17 199 290C199.26 293.83 199.5 300 199.8 305C200.1 310 200.43 316.17 200.8 320C201.17 323.83 201.52 325.83 202 328C202.48 330.17 203.2 331.77 203.7 333C204.2 334.23 204.78 335 205 335.4Z" fill="#cc8878" stroke="none"/>
<path d="M182 335.4C183 335.27 186.17 334.87 188 334.6C189.83 334.33 191.77 335.07 193 333.8C194.23 332.53 194.78 331.8 195.4 327C196.02 322.2 196.33 311.5 196.7 305C197.07 298.5 197.34 291.83 197.6 288C197.86 284.17 198.02 281.67 198.25 282C198.48 282.33 198.74 286.17 199 290C199.26 293.83 199.5 300 199.8 305C200.1 310 200.43 316.17 200.8 320C201.17 323.83 201.52 325.83 202 328C202.48 330.17 203.2 331.77 203.7 333C204.2 334.23 204.78 335 205 335.4" fill="none" stroke="#a8163a" stroke-width="1.3" stroke-linejoin="round" stroke-linecap="round"/>
<rect x="158" y="276.5" width="54" height="58.9" fill="none" stroke="#1a1a1a" stroke-width="1.2"/>
<path d="M155 334.9h3M155.9 332.8h2.1M155.9 330.7h2.1M155.9 328.6h2.1M155.9 326.5h2.1M155 324.4h3M155.9 322.3h2.1M155.9 320.2h2.1M155.9 318.1h2.1M155.9 316h2.1M155 313.9h3M155.9 311.8h2.1M155.9 309.7h2.1M155.9 307.6h2.1M155.9 305.5h2.1M155 303.4h3M155.9 301.3h2.1M155.9 299.2h2.1M155.9 297.1h2.1M155.9 295h2.1M155 292.9h3M155.9 290.8h2.1M155.9 288.7h2.1M155.9 286.6h2.1M155.9 284.5h2.1M155 282.4h3M155.9 280.3h2.1" stroke="#222" stroke-width="0.75" fill="none"/>
<path d="M163.4 335.4v2.6M165.83 335.4v1.9M167.72 335.4v1.9M169.34 335.4v1.9M170.69 335.4v1.9M171.77 335.4v1.9M176.09 335.4v2.6M178.52 335.4v1.9M180.41 335.4v1.9M182.03 335.4v1.9M183.38 335.4v1.9M184.46 335.4v1.9M188.78 335.4v2.6M191.21 335.4v1.9M193.1 335.4v1.9M194.72 335.4v1.9M196.07 335.4v1.9M197.15 335.4v1.9M201.47 335.4v2.6M203.9 335.4v1.9M205.79 335.4v1.9M207.41 335.4v1.9M208.76 335.4v1.9M209.84 335.4v1.9" stroke="#222" stroke-width="0.8" fill="none"/>
<rect x="168.88" y="336" width="2" height="1.4" fill="#111"/>
<path d="M245 335.4C246.17 335.27 250.17 334.93 252 334.6C253.83 334.27 254.88 335 256 333.4C257.12 331.8 258 330.57 258.7 325C259.4 319.43 259.8 306.67 260.2 300C260.6 293.33 260.84 288.25 261.1 285C261.36 281.75 261.52 280 261.75 280.5C261.98 281 262.24 284.25 262.5 288C262.76 291.75 262.98 297.67 263.3 303C263.62 308.33 263.95 315.5 264.4 320C264.85 324.5 265.4 327.43 266 330C266.6 332.57 267.67 334.5 268 335.4Z" fill="#cc8878" stroke="none"/>
<path d="M245 335.4C246.17 335.27 250.17 334.93 252 334.6C253.83 334.27 254.88 335 256 333.4C257.12 331.8 258 330.57 258.7 325C259.4 319.43 259.8 306.67 260.2 300C260.6 293.33 260.84 288.25 261.1 285C261.36 281.75 261.52 280 261.75 280.5C261.98 281 262.24 284.25 262.5 288C262.76 291.75 262.98 297.67 263.3 303C263.62 308.33 263.95 315.5 264.4 320C264.85 324.5 265.4 327.43 266 330C266.6 332.57 267.67 334.5 268 335.4" fill="none" stroke="#a8163a" stroke-width="1.3" stroke-linejoin="round" stroke-linecap="round"/>
<rect x="220" y="276.5" width="53.8" height="58.9" fill="none" stroke="#1a1a1a" stroke-width="1.2"/>
<path d="M217 334.9h3M217.9 332.8h2.1M217.9 330.7h2.1M217.9 328.6h2.1M217.9 326.5h2.1M217 324.4h3M217.9 322.3h2.1M217.9 320.2h2.1M217.9 318.1h2.1M217.9 316h2.1M217 313.9h3M217.9 311.8h2.1M217.9 309.7h2.1M217.9 307.6h2.1M217.9 305.5h2.1M217 303.4h3M217.9 301.3h2.1M217.9 299.2h2.1M217.9 297.1h2.1M217.9 295h2.1M217 292.9h3M217.9 290.8h2.1M217.9 288.7h2.1M217.9 286.6h2.1M217.9 284.5h2.1M217 282.4h3M217.9 280.3h2.1" stroke="#222" stroke-width="0.75" fill="none"/>
<path d="M225.38 335.4v2.6M227.8 335.4v1.9M229.68 335.4v1.9M231.3 335.4v1.9M232.64 335.4v1.9M233.72 335.4v1.9M238.02 335.4v2.6M240.44 335.4v1.9M242.33 335.4v1.9M243.94 335.4v1.9M245.29 335.4v1.9M246.36 335.4v1.9M250.67 335.4v2.6M253.09 335.4v1.9M254.97 335.4v1.9M256.58 335.4v1.9M257.93 335.4v1.9M259 335.4v1.9M263.31 335.4v2.6M265.73 335.4v1.9M267.61 335.4v1.9M269.23 335.4v1.9M270.57 335.4v1.9M271.65 335.4v1.9" stroke="#222" stroke-width="0.8" fill="none"/>
<rect x="230.84" y="336" width="2" height="1.4" fill="#111"/>
<path d="M293.75 335.4C293.93 330.33 294.38 314.23 294.8 305C295.22 295.77 295.83 281.67 296.25 280C296.67 278.33 296.96 289.17 297.3 295C297.64 300.83 297.93 310.25 298.3 315C298.67 319.75 298.88 321.17 299.5 323.5C300.12 325.83 301.08 327.67 302 329C302.92 330.33 303.67 330.83 305 331.5C306.33 332.17 308.17 332.58 310 333C311.83 333.42 314 333.87 316 334C318 334.13 320.29 333.97 322 333.8C323.71 333.63 325.12 332.73 326.25 333C327.38 333.27 328.33 335 328.75 335.4Z" fill="#cc8878" stroke="none"/>
<path d="M293.75 335.4C293.93 330.33 294.38 314.23 294.8 305C295.22 295.77 295.83 281.67 296.25 280C296.67 278.33 296.96 289.17 297.3 295C297.64 300.83 297.93 310.25 298.3 315C298.67 319.75 298.88 321.17 299.5 323.5C300.12 325.83 301.08 327.67 302 329C302.92 330.33 303.67 330.83 305 331.5C306.33 332.17 308.17 332.58 310 333C311.83 333.42 314 333.87 316 334C318 334.13 320.29 333.97 322 333.8C323.71 333.63 325.12 332.73 326.25 333C327.38 333.27 328.33 335 328.75 335.4" fill="none" stroke="#a8163a" stroke-width="1.3" stroke-linejoin="round" stroke-linecap="round"/>
<rect x="283.3" y="276.5" width="53.7" height="58.9" fill="none" stroke="#1a1a1a" stroke-width="1.2"/>
<path d="M280.3 334.9h3M281.2 332.8h2.1M281.2 330.7h2.1M281.2 328.6h2.1M281.2 326.5h2.1M280.3 324.4h3M281.2 322.3h2.1M281.2 320.2h2.1M281.2 318.1h2.1M281.2 316h2.1M280.3 313.9h3M281.2 311.8h2.1M281.2 309.7h2.1M281.2 307.6h2.1M281.2 305.5h2.1M280.3 303.4h3M281.2 301.3h2.1M281.2 299.2h2.1M281.2 297.1h2.1M281.2 295h2.1M280.3 292.9h3M281.2 290.8h2.1M281.2 288.7h2.1M281.2 286.6h2.1M281.2 284.5h2.1M280.3 282.4h3M281.2 280.3h2.1" stroke="#222" stroke-width="0.75" fill="none"/>
<path d="M288.67 335.4v2.6M291.09 335.4v1.9M292.97 335.4v1.9M294.58 335.4v1.9M295.92 335.4v1.9M296.99 335.4v1.9M301.29 335.4v2.6M303.71 335.4v1.9M305.59 335.4v1.9M307.2 335.4v1.9M308.54 335.4v1.9M309.61 335.4v1.9M313.91 335.4v2.6M316.33 335.4v1.9M318.2 335.4v1.9M319.82 335.4v1.9M321.16 335.4v1.9M322.23 335.4v1.9M326.53 335.4v2.6M328.94 335.4v1.9M330.82 335.4v1.9M332.44 335.4v1.9M333.78 335.4v1.9M334.85 335.4v1.9" stroke="#222" stroke-width="0.8" fill="none"/>
<rect x="294.11" y="336" width="2" height="1.4" fill="#111"/>
<path d="M356.2 335.4C356.38 330.33 356.88 314.32 357.3 305C357.73 295.68 358.33 281.17 358.75 279.5C359.17 277.83 359.46 289.08 359.8 295C360.14 300.92 360.43 310.25 360.8 315C361.17 319.75 361.38 321.17 362 323.5C362.62 325.83 363.58 327.67 364.5 329C365.42 330.33 366.17 330.83 367.5 331.5C368.83 332.17 370.58 332.55 372.5 333C374.42 333.45 376.92 334.03 379 334.2C381.08 334.37 383.58 334.15 385 334C386.42 333.85 386.67 333.07 387.5 333.3C388.33 333.53 389.58 335.05 390 335.4Z" fill="#cc8878" stroke="none"/>
<path d="M356.2 335.4C356.38 330.33 356.88 314.32 357.3 305C357.73 295.68 358.33 281.17 358.75 279.5C359.17 277.83 359.46 289.08 359.8 295C360.14 300.92 360.43 310.25 360.8 315C361.17 319.75 361.38 321.17 362 323.5C362.62 325.83 363.58 327.67 364.5 329C365.42 330.33 366.17 330.83 367.5 331.5C368.83 332.17 370.58 332.55 372.5 333C374.42 333.45 376.92 334.03 379 334.2C381.08 334.37 383.58 334.15 385 334C386.42 333.85 386.67 333.07 387.5 333.3C388.33 333.53 389.58 335.05 390 335.4" fill="none" stroke="#a8163a" stroke-width="1.3" stroke-linejoin="round" stroke-linecap="round"/>
<rect x="345" y="276.5" width="54.2" height="58.9" fill="none" stroke="#1a1a1a" stroke-width="1.2"/>
<path d="M342 334.9h3M342.9 332.8h2.1M342.9 330.7h2.1M342.9 328.6h2.1M342.9 326.5h2.1M342 324.4h3M342.9 322.3h2.1M342.9 320.2h2.1M342.9 318.1h2.1M342.9 316h2.1M342 313.9h3M342.9 311.8h2.1M342.9 309.7h2.1M342.9 307.6h2.1M342.9 305.5h2.1M342 303.4h3M342.9 301.3h2.1M342.9 299.2h2.1M342.9 297.1h2.1M342.9 295h2.1M342 292.9h3M342.9 290.8h2.1M342.9 288.7h2.1M342.9 286.6h2.1M342.9 284.5h2.1M342 282.4h3M342.9 280.3h2.1" stroke="#222" stroke-width="0.75" fill="none"/>
<path d="M350.42 335.4v2.6M352.86 335.4v1.9M354.76 335.4v1.9M356.38 335.4v1.9M357.74 335.4v1.9M358.82 335.4v1.9M363.16 335.4v2.6M365.6 335.4v1.9M367.49 335.4v1.9M369.12 335.4v1.9M370.47 335.4v1.9M371.56 335.4v1.9M375.89 335.4v2.6M378.33 335.4v1.9M380.23 335.4v1.9M381.86 335.4v1.9M383.21 335.4v1.9M384.29 335.4v1.9M388.63 335.4v2.6M391.07 335.4v1.9M392.97 335.4v1.9M394.59 335.4v1.9M395.95 335.4v1.9M397.03 335.4v1.9" stroke="#222" stroke-width="0.8" fill="none"/>
<rect x="355.92" y="336" width="2" height="1.4" fill="#111"/>
<path d="M432 335.4C432.67 335.27 435 334.88 436 334.6C437 334.32 437.33 333.7 438 333.7C438.67 333.7 438.92 334.62 440 334.6C441.08 334.58 443.53 334.37 444.5 333.6C445.47 332.83 445.42 333.1 445.8 330C446.18 326.9 446.47 321.17 446.8 315C447.13 308.83 447.47 298.43 447.8 293C448.13 287.57 448.47 282.57 448.8 282.4C449.13 282.23 449.47 287.4 449.8 292C450.13 296.6 450.43 304.5 450.8 310C451.17 315.5 451.55 321.42 452 325C452.45 328.58 453 329.77 453.5 331.5C454 333.23 454.75 334.75 455 335.4Z" fill="#cc8878" stroke="none"/>
<path d="M432 335.4C432.67 335.27 435 334.88 436 334.6C437 334.32 437.33 333.7 438 333.7C438.67 333.7 438.92 334.62 440 334.6C441.08 334.58 443.53 334.37 444.5 333.6C445.47 332.83 445.42 333.1 445.8 330C446.18 326.9 446.47 321.17 446.8 315C447.13 308.83 447.47 298.43 447.8 293C448.13 287.57 448.47 282.57 448.8 282.4C449.13 282.23 449.47 287.4 449.8 292C450.13 296.6 450.43 304.5 450.8 310C451.17 315.5 451.55 321.42 452 325C452.45 328.58 453 329.77 453.5 331.5C454 333.23 454.75 334.75 455 335.4" fill="none" stroke="#a8163a" stroke-width="1.3" stroke-linejoin="round" stroke-linecap="round"/>
<rect x="408.8" y="276.5" width="52.7" height="58.9" fill="none" stroke="#1a1a1a" stroke-width="1.2"/>
<path d="M405.8 334.9h3M406.7 332.8h2.1M406.7 330.7h2.1M406.7 328.6h2.1M406.7 326.5h2.1M405.8 324.4h3M406.7 322.3h2.1M406.7 320.2h2.1M406.7 318.1h2.1M406.7 316h2.1M405.8 313.9h3M406.7 311.8h2.1M406.7 309.7h2.1M406.7 307.6h2.1M406.7 305.5h2.1M405.8 303.4h3M406.7 301.3h2.1M406.7 299.2h2.1M406.7 297.1h2.1M406.7 295h2.1M405.8 292.9h3M406.7 290.8h2.1M406.7 288.7h2.1M406.7 286.6h2.1M406.7 284.5h2.1M405.8 282.4h3M406.7 280.3h2.1" stroke="#222" stroke-width="0.75" fill="none"/>
<path d="M414.07 335.4v2.6M416.44 335.4v1.9M418.29 335.4v1.9M419.87 335.4v1.9M421.18 335.4v1.9M422.24 335.4v1.9M426.45 335.4v2.6M428.83 335.4v1.9M430.67 335.4v1.9M432.25 335.4v1.9M433.57 335.4v1.9M434.62 335.4v1.9M438.84 335.4v2.6M441.21 335.4v1.9M443.06 335.4v1.9M444.64 335.4v1.9M445.95 335.4v1.9M447.01 335.4v1.9M451.22 335.4v2.6M453.6 335.4v1.9M455.44 335.4v1.9M457.02 335.4v1.9M458.34 335.4v1.9M459.39 335.4v1.9" stroke="#222" stroke-width="0.8" fill="none"/>
<rect x="419.39" y="336" width="2" height="1.4" fill="#111"/>
<path d="M30 289.7V343.1H70.4" fill="none" stroke="#b2173e" stroke-width="1.1"/>
<path d="M30 286.7L28 290.9L32 290.9Z M73.4 343.1L69.2 341.1L69.2 345.1Z" fill="#b2173e"/>
<text transform="translate(24.47,315) rotate(-90)" font-size="10.2" text-anchor="middle" textLength="20.4" lengthAdjust="spacingAndGlyphs" stroke="#141414" stroke-width="0.12">Count</text>
<text x="42.2" y="355.1" font-size="9.5" textLength="19.4" lengthAdjust="spacingAndGlyphs" stroke="#141414" stroke-width="0.12">Violet</text>
<g filter="url(#bl2)">
<ellipse cx="47.5" cy="407" rx="5.5" ry="6" fill="#0a18ee" fill-opacity="0.7"/>
</g>
<path d="M48.6 402.7h0M50.4 413.1h0M43.2 405.1h0M43.7 398.8h0M49.7 408.6h0M50.9 407.6h0M40.5 405.9h0M45.2 401.7h0M43.6 408.8h0M46.5 413.3h0M49.1 399.0h0M50.6 410.6h0M47.6 401.5h0M53.7 401.2h0M47.2 399.0h0M43.1 399.7h0M51.3 410.4h0M46.1 401.0h0M47.3 407.4h0M42.2 401.7h0M47.1 408.6h0M47.8 407.7h0M43.1 396.8h0M48.6 402.6h0M47.1 404.6h0M49.2 403.1h0M52.6 406.1h0M49.4 408.3h0M51.1 407.5h0M41.4 403.7h0M54.0 407.8h0M49.5 407.7h0M45.2 403.5h0M45.2 410.3h0M48.8 412.6h0M49.3 413.0h0M49.1 401.6h0M53.6 407.3h0M51.7 406.8h0M46.3 406.6h0M43.5 401.6h0M44.4 404.0h0M42.7 405.6h0M48.6 413.6h0M54.0 405.8h0M50.6 405.2h0M48.9 405.9h0M45.6 406.3h0M42.3 407.6h0M46.5 402.0h0M46.2 408.1h0M45.1 407.8h0M49.5 411.8h0M43.7 405.6h0M49.3 411.6h0M48.4 408.8h0M42.3 403.8h0M53.4 404.9h0M55.2 403.3h0M46.5 400.0h0M49.8 407.0h0M54.7 406.6h0M46.6 400.7h0M47.2 409.5h0M50.1 410.6h0M50.6 405.8h0M49.6 406.6h0M42.8 412.4h0M48.8 402.1h0M48.9 407.1h0M51.0 411.4h0M52.9 402.4h0M40.9 407.0h0M48.7 407.3h0M43.5 404.2h0M48.2 408.8h0M55.3 407.1h0M45.4 397.1h0M51.3 405.5h0M47.1 402.3h0M50.1 399.3h0M47.9 406.5h0M48.6 410.9h0M47.1 406.4h0M50.6 400.2h0M46.5 406.3h0M50.9 403.0h0M50.4 407.4h0M42.2 400.4h0M42.4 406.5h0M48.2 408.7h0M50.4 403.9h0M51.3 409.1h0M49.2 407.8h0M42.9 407.4h0M43.8 401.5h0M46.2 406.5h0M47.3 404.8h0M43.9 406.7h0M44.8 400.7h0M47.8 411.5h0M46.1 402.0h0M52.5 412.5h0M46.4 405.2h0M48.3 417.2h0M48.0 409.8h0M49.1 399.1h0M43.6 401.3h0M49.1 406.4h0M53.9 405.0h0M48.6 406.3h0M48.0 414.8h0M48.5 411.6h0M52.2 403.7h0M50.0 404.6h0M47.9 406.6h0M47.6 404.2h0M53.1 405.0h0M50.0 412.4h0M49.7 409.9h0M52.5 410.1h0M53.7 400.6h0M54.5 406.1h0M41.2 403.6h0M42.5 405.9h0M42.2 402.2h0M48.6 406.6h0M44.6 405.1h0M47.1 406.3h0M47.5 405.2h0M50.7 399.9h0M45.7 406.5h0M46.1 403.9h0M45.9 406.8h0M52.0 405.3h0M46.5 407.4h0M46.6 398.7h0M48.5 404.6h0M45.4 408.4h0M47.7 403.9h0M39.7 399.5h0M47.6 405.6h0M49.1 406.8h0M45.8 401.2h0M43.6 405.5h0M43.4 408.9h0M42.7 399.2h0M46.8 399.3h0M53.4 402.2h0M47.3 405.1h0M44.5 399.3h0M40.8 409.3h0M51.2 414.2h0M42.2 408.1h0M47.4 409.2h0M45.7 408.7h0M50.7 408.3h0M52.7 405.3h0M53.1 403.3h0M53.5 395.6h0M47.5 403.0h0M47.5 409.9h0M50.1 406.4h0M53.6 400.4h0M44.6 411.7h0M48.7 398.1h0M48.7 401.5h0M52.8 410.3h0M45.5 410.9h0M44.5 409.5h0M49.6 405.5h0M42.4 404.9h0M39.3 403.9h0M40.8 410.6h0M44.0 396.8h0M49.6 407.4h0M45.7 414.0h0M50.3 406.3h0M45.2 394.8h0M49.2 409.6h0M45.4 400.6h0M47.3 399.6h0M47.5 408.9h0M52.9 407.0h0M48.2 408.8h0M52.5 404.8h0M43.1 403.0h0M43.0 402.6h0M47.1 407.3h0M48.1 406.3h0M46.2 407.6h0M50.7 408.9h0M52.9 404.9h0M46.6 412.4h0M48.2 407.6h0M46.3 409.7h0M46.1 402.2h0M47.3 404.3h0M50.5 404.6h0M47.9 405.2h0M48.7 403.6h0M51.5 400.6h0M46.1 403.3h0M49.8 406.2h0M49.2 404.7h0M44.9 401.7h0M46.3 404.0h0M48.5 407.3h0M51.0 405.6h0M44.8 402.0h0M47.7 407.4h0M54.5 406.7h0M53.8 413.1h0M43.7 410.6h0M51.6 411.1h0M47.5 409.6h0M45.8 405.7h0M47.6 412.8h0M46.7 409.6h0M47.7 403.3h0M48.4 408.5h0M44.9 408.4h0M44.9 402.7h0M48.3 405.1h0M44.0 399.8h0M47.6 406.9h0M45.8 406.7h0M42.0 407.5h0M49.0 407.1h0M45.3 406.3h0M48.0 410.1h0M48.5 407.0h0M44.9 409.3h0M51.7 404.1h0M49.8 407.2h0M47.3 401.1h0M53.8 398.9h0M48.6 404.6h0M51.6 404.4h0M47.6 408.3h0M49.1 404.0h0M50.0 407.5h0M51.1 404.1h0M47.3 404.5h0M44.5 407.0h0M49.0 411.4h0M46.3 407.5h0M51.6 405.6h0M47.7 406.5h0M45.0 402.3h0M51.5 406.7h0M47.2 401.3h0M47.9 410.4h0M43.4 402.6h0M51.5 411.4h0M53.1 403.9h0M49.7 403.2h0M49.4 404.6h0M48.2 411.1h0" stroke="#1024f4" stroke-opacity="0.5" stroke-width="0.9" stroke-linecap="square"/>
<path d="M54.7 402.6h0M52.4 405.6h0M47.9 405.2h0M56.8 413.3h0M42.2 409.2h0M71.4 405.2h0M53.0 410.8h0M48.0 401.1h0M54.7 400.5h0M60.8 404.0h0M55.0 419.1h0M48.4 409.5h0M45.4 411.4h0M59.7 404.8h0M59.9 413.6h0M62.9 404.0h0M51.6 410.6h0M40.3 400.4h0M55.8 407.4h0M66.8 414.5h0M54.6 406.6h0M41.5 402.9h0M54.1 402.7h0M52.5 407.6h0M44.5 400.6h0M37.9 410.8h0M43.6 393.9h0M58.1 402.7h0M59.7 401.8h0M68.8 408.2h0M53.2 404.7h0M50.4 408.8h0M67.8 401.5h0M43.4 407.5h0M60.4 395.1h0M46.5 398.1h0M56.4 407.0h0" stroke="#1024f4" stroke-opacity="0.25" stroke-width="0.9" stroke-linecap="square"/>
<g filter="url(#bl)">
<ellipse cx="47.7" cy="408.8" rx="5.1" ry="5.1" fill="#0a18ee"/>
<ellipse cx="47.7" cy="409.5" rx="3.8" ry="3.8" fill="#28c4f4"/><ellipse cx="47.7" cy="409.5" rx="2.66" ry="2.66" fill="#70ea48"/><ellipse cx="47.7" cy="409.5" rx="1.86" ry="1.86" fill="#f2e420"/>
<rect x="38.7" y="413.4" width="16.3" height="4.4" rx="2.2" fill="#0a18ee" filter="url(#bl3)"/>
<rect x="40" y="414.2" width="14" height="2.8" rx="1.4" fill="#28c4f4" filter="url(#bl3)"/>
<rect x="50" y="414.2" width="17" height="2.4" rx="1.2" fill="#0a18ee" filter="url(#bl3)"/>
<ellipse cx="47.7" cy="415.7" rx="4.5" ry="1.1" fill="#70ea48"/><ellipse cx="47.7" cy="415.7" rx="3.15" ry="0.77" fill="#f2e420"/>
<rect x="66.7" y="414.2" width="11.7" height="3.2" rx="1.6" fill="#0a18ee" filter="url(#bl3)"/>
<ellipse cx="73" cy="415.8" rx="3.8" ry="1" fill="#28c4f4"/><ellipse cx="73" cy="415.8" rx="2.66" ry="0.7" fill="#70ea48"/><ellipse cx="73" cy="415.8" rx="1.86" ry="0.49" fill="#f2e420"/><ellipse cx="73" cy="415.8" rx="1.3" ry="0.34" fill="#ff7a10"/><ellipse cx="73" cy="415.8" rx="0.91" ry="0.24" fill="#ec2010"/>
</g>
<path d="M36.2 384V431H87.7" stroke="#c8c8c8" stroke-width="0.5" fill="none"/>
<path d="M34.2 430h2M35.1 427.5h1.1M35.1 425h1.1M35.1 422.5h1.1M34.2 420h2M35.1 417.5h1.1M35.1 415h1.1M35.1 412.5h1.1M34.2 410h2M35.1 407.5h1.1M35.1 405h1.1M35.1 402.5h1.1M34.2 400h2M35.1 397.5h1.1M35.1 395h1.1M35.1 392.5h1.1M34.2 390h2M35.1 387.5h1.1M35.1 385h1.1M41.35 431v1.8M43.93 431v1.1M45.98 431v1.1M47.53 431v1.1M48.82 431v1.1M53.2 431v1.8M55.77 431v1.1M57.83 431v1.1M59.38 431v1.1M60.66 431v1.1M65.04 431v1.8M67.62 431v1.1M69.68 431v1.1M71.22 431v1.1M72.51 431v1.1M76.89 431v1.8M79.46 431v1.1M81.52 431v1.1M83.06 431v1.1M84.35 431v1.1" stroke="#666" stroke-width="0.5" fill="none"/>
<rect x="34.3" y="416.1" width="1.9" height="2.6" fill="#222"/>
<rect x="48.08" y="431.4" width="2" height="1.4" fill="#111"/>
<path d="M66.2 372.4H87.7V431" fill="none" stroke="#9c9c9c" stroke-width="0.65"/>
<path d="M66.2 372.4V431" fill="none" stroke="#9a9a9a" stroke-width="1.0"/>
<path d="M36.2 412.8H87.7" fill="none" stroke="#6a6a6a" stroke-width="0.95"/>
<text x="38.8" y="372.6" font-size="8" textLength="23.6" lengthAdjust="spacingAndGlyphs" stroke="#141414" stroke-width="0.12">CD19+</text>
<text x="38.8" y="381.5" font-size="8" textLength="13.9" lengthAdjust="spacingAndGlyphs" stroke="#141414" stroke-width="0.12">38%</text>
<g filter="url(#bl2)">
<ellipse cx="120.7" cy="412" rx="17.14" ry="1.8" fill="#0a18ee" fill-opacity="0.55"/>
</g>
<path d="M112.0 410.7h0M127.4 409.8h0M127.0 411.6h0M140.9 412.8h0M113.7 411.5h0M117.0 411.1h0M120.9 412.8h0M103.6 411.6h0M136.2 412.5h0M111.2 411.0h0M110.7 410.2h0M132.5 411.9h0M112.4 410.4h0M115.8 411.3h0M138.7 411.3h0M121.3 412.9h0M127.2 411.6h0M126.5 411.4h0M119.0 410.9h0M110.3 410.3h0M125.4 412.3h0M121.9 412.6h0M125.8 411.9h0M110.4 412.4h0M132.8 412.4h0M133.5 411.3h0M109.4 413.0h0M113.7 412.0h0M117.9 411.8h0M117.1 411.3h0M100.7 413.7h0M122.2 409.9h0M110.2 410.7h0M112.0 409.3h0M126.2 413.4h0M117.3 412.5h0M126.5 410.6h0M133.1 410.1h0M113.8 411.4h0M133.5 411.9h0M118.7 411.0h0M121.0 411.8h0M127.9 413.2h0M127.9 411.8h0M118.4 413.4h0M122.2 411.8h0M139.4 413.3h0M126.1 411.7h0M113.2 412.8h0M115.1 412.7h0M111.6 411.9h0M124.3 411.9h0M122.5 412.2h0M107.9 410.7h0M118.4 413.6h0M118.7 410.9h0M112.9 411.8h0M132.7 411.2h0M126.0 412.0h0M116.2 410.9h0M118.4 411.1h0M125.8 410.1h0M132.1 412.5h0M126.2 413.3h0M126.5 410.1h0M120.6 412.2h0M112.7 410.7h0M124.7 412.3h0M115.4 411.6h0M114.6 411.2h0M119.4 412.8h0M102.7 411.5h0M137.3 412.1h0M121.7 412.6h0M109.2 410.6h0M102.2 410.4h0M122.7 412.6h0M115.5 411.1h0M124.3 412.4h0M122.8 409.9h0M114.2 409.3h0M122.6 411.0h0M113.0 413.3h0M134.2 412.3h0M123.0 412.0h0M113.7 411.8h0M140.5 410.9h0M112.9 412.0h0M129.6 412.6h0M109.6 411.7h0M117.2 410.6h0M120.8 411.3h0M129.8 412.2h0M111.7 411.9h0M116.2 411.2h0M114.8 412.8h0M115.6 410.1h0M111.7 412.6h0M143.0 410.8h0M116.2 411.5h0M104.9 412.2h0M119.5 412.1h0M144.0 411.5h0M128.5 412.6h0M113.2 411.2h0M136.7 412.5h0M121.5 410.7h0M129.4 412.3h0M143.5 413.2h0M128.6 412.1h0M120.7 411.3h0M123.3 412.0h0M127.0 412.9h0M123.3 411.3h0M128.6 413.3h0M111.1 412.2h0M125.9 412.3h0M125.4 411.7h0M118.9 413.4h0M138.5 410.4h0M112.8 411.3h0M103.0 412.1h0M119.4 411.3h0M129.6 414.2h0M135.8 412.9h0M115.6 412.4h0M119.6 412.9h0M126.2 411.8h0M125.9 411.1h0M128.5 413.3h0M116.1 412.3h0M102.2 412.7h0M129.4 410.8h0M138.6 411.9h0M101.5 410.5h0M129.3 411.5h0M131.8 410.3h0M118.9 412.7h0M112.8 412.5h0M116.2 412.1h0M123.5 414.0h0M106.8 412.6h0M134.0 410.7h0M120.9 414.0h0M131.2 408.9h0M117.5 410.1h0M123.2 411.1h0M114.0 411.0h0M123.1 411.3h0M110.3 411.6h0M124.3 411.0h0M131.9 410.2h0M124.4 411.4h0M136.8 411.2h0M112.9 410.5h0M141.2 412.4h0M108.4 411.5h0M109.8 413.3h0M124.5 409.8h0M122.2 412.7h0M120.0 412.3h0M118.8 412.0h0M122.3 411.1h0M123.7 412.0h0M119.6 411.1h0M109.2 412.0h0M128.8 409.5h0M114.3 413.1h0M129.8 411.1h0M134.5 410.8h0M111.6 413.7h0M115.3 411.6h0M102.4 410.8h0M107.4 411.7h0M100.4 412.8h0M116.2 411.2h0M113.2 412.5h0M136.4 411.4h0M137.3 413.4h0M134.4 412.1h0M104.1 412.5h0M115.6 412.0h0M99.8 411.5h0M122.5 410.9h0M123.1 413.4h0M122.5 411.1h0M145.5 409.7h0M110.2 412.2h0M113.7 409.6h0M122.8 412.6h0M111.5 413.2h0M125.4 413.0h0M103.7 411.8h0M137.1 413.8h0M134.1 411.8h0M122.0 411.2h0M131.8 411.1h0M121.3 409.8h0" stroke="#1024f4" stroke-opacity="0.4" stroke-width="0.9" stroke-linecap="square"/>
<path d="M100.4 412.2h0M118.7 407.6h0M142.2 402.6h0M111.8 406.4h0M103.3 403.0h0M103.5 408.9h0M117.4 409.4h0M105.4 408.7h0M112.8 407.3h0M128.9 407.1h0M113.9 402.1h0M118.7 409.3h0M110.6 406.8h0M122.7 410.8h0M114.4 402.1h0M113.5 402.4h0M114.8 412.7h0M121.5 406.6h0M130.2 405.9h0M121.9 407.6h0M123.2 402.7h0M126.4 409.6h0M107.5 411.4h0M118.2 409.0h0M124.5 409.6h0M110.5 405.3h0" stroke="#1024f4" stroke-opacity="0.25" stroke-width="0.9" stroke-linecap="square"/>
<g filter="url(#bl)">
<rect x="100.8" y="413.9" width="41.8" height="4.6" rx="2.3" fill="#0a18ee" filter="url(#bl3)"/>
<rect x="102.4" y="415.02" width="38.6" height="2.85" rx="1.43" fill="#28c4f4" filter="url(#bl3)"/>
<rect x="105" y="415.41" width="34.1" height="2.07" rx="1.03" fill="#70ea48" filter="url(#bl3)"/>
<rect x="108" y="415.81" width="20" height="1.29" rx="0.64" fill="#f2e420" filter="url(#bl3)"/>
<ellipse cx="135.7" cy="416.5" rx="3.4" ry="1" fill="#f2e420"/><ellipse cx="135.7" cy="416.5" rx="2.38" ry="0.7" fill="#ff7a10"/><ellipse cx="135.7" cy="416.5" rx="1.67" ry="0.49" fill="#ec2010"/>
</g>
<path d="M96.9 384V431H148.8" stroke="#c8c8c8" stroke-width="0.5" fill="none"/>
<path d="M94.9 430h2M95.8 427.5h1.1M95.8 425h1.1M95.8 422.5h1.1M94.9 420h2M95.8 417.5h1.1M95.8 415h1.1M95.8 412.5h1.1M94.9 410h2M95.8 407.5h1.1M95.8 405h1.1M95.8 402.5h1.1M94.9 400h2M95.8 397.5h1.1M95.8 395h1.1M95.8 392.5h1.1M94.9 390h2M95.8 387.5h1.1M95.8 385h1.1M102.09 431v1.8M104.69 431v1.1M106.76 431v1.1M108.32 431v1.1M109.62 431v1.1M114.03 431v1.8M116.62 431v1.1M118.7 431v1.1M120.26 431v1.1M121.55 431v1.1M125.96 431v1.8M128.56 431v1.1M130.64 431v1.1M132.19 431v1.1M133.49 431v1.1M137.9 431v1.8M140.5 431v1.1M142.57 431v1.1M144.13 431v1.1M145.43 431v1.1" stroke="#666" stroke-width="0.5" fill="none"/>
<rect x="95" y="416.1" width="1.9" height="2.6" fill="#222"/>
<rect x="108.88" y="431.4" width="2" height="1.4" fill="#111"/>
<path d="M127.3 372.4H148.8V431" fill="none" stroke="#9c9c9c" stroke-width="0.65"/>
<path d="M127.3 372.4V431" fill="none" stroke="#9a9a9a" stroke-width="1.0"/>
<path d="M96.9 413.2H148.8" fill="none" stroke="#6a6a6a" stroke-width="0.95"/>
<text x="99.5" y="372.6" font-size="8" textLength="23.6" lengthAdjust="spacingAndGlyphs" stroke="#141414" stroke-width="0.12">CD19+</text>
<text x="99.5" y="381.5" font-size="8" textLength="10.1" lengthAdjust="spacingAndGlyphs" stroke="#141414" stroke-width="0.12">2%</text>
<g filter="url(#bl2)">
<ellipse cx="182.25" cy="412.4" rx="17.26" ry="1.8" fill="#0a18ee" fill-opacity="0.55"/>
</g>
<path d="M183.3 412.8h0M185.1 412.5h0M175.7 413.3h0M184.2 413.2h0M158.4 412.4h0M174.1 412.3h0M175.8 411.9h0M181.7 412.5h0M172.9 409.7h0M173.1 412.7h0M172.5 412.6h0M176.7 411.3h0M190.4 413.8h0M179.1 412.2h0M188.5 410.9h0M172.3 413.3h0M188.0 411.7h0M173.1 412.5h0M167.5 411.7h0M177.9 409.8h0M185.3 413.0h0M189.5 410.8h0M168.6 411.4h0M168.4 414.2h0M171.3 411.9h0M181.8 412.7h0M192.9 411.1h0M187.8 412.3h0M169.6 412.3h0M167.5 413.8h0M173.5 413.2h0M191.6 411.6h0M172.0 412.3h0M170.6 413.1h0M181.6 411.4h0M173.9 412.9h0M167.0 413.9h0M173.0 412.0h0M171.7 413.8h0M187.4 413.5h0M185.8 412.3h0M195.2 412.9h0M183.9 412.8h0M186.6 412.5h0M178.5 410.6h0M198.4 410.9h0M160.7 411.5h0M197.3 413.4h0M174.6 412.5h0" stroke="#1024f4" stroke-opacity="0.35" stroke-width="0.9" stroke-linecap="square"/>
<path d="M177.8 399.1h0M174.7 407.0h0M189.7 401.8h0M181.3 406.3h0M179.5 406.5h0M174.3 401.2h0M182.5 407.3h0M183.8 410.4h0M165.6 397.8h0M160.2 413.5h0M168.9 407.4h0" stroke="#1024f4" stroke-opacity="0.25" stroke-width="0.9" stroke-linecap="square"/>
<g filter="url(#bl)">
<rect x="162.2" y="414.6" width="42.1" height="4" rx="2" fill="#0a18ee" filter="url(#bl3)"/>
<rect x="163.8" y="415.61" width="38.9" height="2.48" rx="1.24" fill="#28c4f4" filter="url(#bl3)"/>
<rect x="166" y="415.95" width="34.8" height="1.8" rx="0.9" fill="#70ea48" filter="url(#bl3)"/>
<rect x="169" y="416.29" width="19" height="1.12" rx="0.56" fill="#f2e420" filter="url(#bl3)"/>
<ellipse cx="200.2" cy="416.9" rx="3.4" ry="1" fill="#f2e420"/><ellipse cx="200.2" cy="416.9" rx="2.38" ry="0.7" fill="#ff7a10"/><ellipse cx="200.2" cy="416.9" rx="1.67" ry="0.49" fill="#ec2010"/>
</g>
<path d="M157.4 384V431H211.9" stroke="#c8c8c8" stroke-width="0.5" fill="none"/>
<path d="M155.4 430h2M156.3 427.5h1.1M156.3 425h1.1M156.3 422.5h1.1M155.4 420h2M156.3 417.5h1.1M156.3 415h1.1M156.3 412.5h1.1M155.4 410h2M156.3 407.5h1.1M156.3 405h1.1M156.3 402.5h1.1M155.4 400h2M156.3 397.5h1.1M156.3 395h1.1M156.3 392.5h1.1M155.4 390h2M156.3 387.5h1.1M156.3 385h1.1M162.85 431v1.8M165.58 431v1.1M167.75 431v1.1M169.39 431v1.1M170.75 431v1.1M175.38 431v1.8M178.11 431v1.1M180.29 431v1.1M181.93 431v1.1M183.29 431v1.1M187.92 431v1.8M190.65 431v1.1M192.83 431v1.1M194.46 431v1.1M195.82 431v1.1M200.46 431v1.8M203.18 431v1.1M205.36 431v1.1M207 431v1.1M208.36 431v1.1" stroke="#666" stroke-width="0.5" fill="none"/>
<rect x="155.5" y="416.1" width="1.9" height="2.6" fill="#222"/>
<rect x="170.03" y="431.4" width="2" height="1.4" fill="#111"/>
<path d="M189.4 372.4H211.9V431" fill="none" stroke="#9c9c9c" stroke-width="0.65"/>
<path d="M189.4 372.4V431" fill="none" stroke="#9a9a9a" stroke-width="1.0"/>
<path d="M157.4 413.3H211.9" fill="none" stroke="#6a6a6a" stroke-width="0.95"/>
<text x="160" y="372.6" font-size="8" textLength="23.6" lengthAdjust="spacingAndGlyphs" stroke="#141414" stroke-width="0.12">CD19+</text>
<text x="160" y="381.5" font-size="8" textLength="10.1" lengthAdjust="spacingAndGlyphs" stroke="#141414" stroke-width="0.12">1%</text>
<g filter="url(#bl2)">
<ellipse cx="244.65" cy="412" rx="17.51" ry="1.8" fill="#0a18ee" fill-opacity="0.55"/>
</g>
<path d="M237.9 411.8h0M263.7 408.7h0M236.6 408.5h0M240.0 411.3h0M230.2 413.3h0M247.2 411.1h0M237.1 409.4h0M224.9 411.6h0M230.2 408.7h0M246.0 407.7h0M233.8 412.1h0M252.9 408.3h0M246.8 408.4h0M241.1 411.2h0M228.9 412.6h0M252.4 410.1h0M240.2 407.1h0M252.3 410.2h0M227.8 411.9h0M226.3 408.3h0M220.9 413.4h0M255.7 408.4h0M232.8 408.6h0M233.5 411.4h0M249.7 407.5h0M241.5 405.5h0M250.2 409.8h0M232.4 413.8h0M237.2 413.4h0M246.6 414.1h0M231.6 410.1h0M240.9 409.5h0M250.2 408.2h0M246.0 413.4h0M222.4 407.6h0M230.8 408.6h0M241.1 409.6h0M238.6 408.9h0M237.3 411.2h0M244.0 408.0h0M237.1 408.1h0M236.6 406.4h0M245.6 411.7h0M237.0 408.3h0M234.3 408.3h0M225.7 414.1h0M264.3 406.9h0M228.7 411.4h0M242.8 406.1h0M222.6 411.4h0" stroke="#1024f4" stroke-opacity="0.3" stroke-width="0.9" stroke-linecap="square"/>
<path d="M221.1 413.6h0M239.1 412.4h0M245.0 411.8h0M243.3 412.0h0M259.9 412.2h0M244.6 411.8h0M237.4 411.6h0M245.1 414.0h0M258.4 412.5h0M265.0 413.2h0M247.5 412.2h0M231.8 412.5h0M241.2 410.9h0M229.6 414.0h0M247.6 412.7h0M247.4 411.9h0M250.5 413.3h0M241.3 412.8h0M257.3 411.9h0M247.0 411.6h0M252.2 412.0h0M258.8 411.6h0M265.3 412.0h0M234.9 411.5h0M253.0 411.5h0M266.7 413.5h0M251.2 411.0h0M244.7 411.6h0M223.3 412.7h0M271.4 411.8h0M254.7 413.5h0M233.5 412.0h0M248.2 412.7h0M231.3 412.5h0M243.7 413.2h0M225.8 411.8h0M239.0 412.0h0M253.7 411.7h0M255.1 413.2h0M256.6 412.1h0M235.0 412.1h0M253.0 412.4h0M252.0 412.8h0M234.4 411.5h0M262.3 411.9h0M226.0 414.0h0M235.0 411.5h0M256.6 411.3h0M234.5 413.2h0M235.2 414.6h0M246.2 414.7h0M246.6 412.3h0M237.3 412.1h0M239.0 412.3h0M254.3 411.2h0M234.0 410.4h0M263.0 412.2h0M244.8 412.2h0M257.1 412.6h0M255.2 412.1h0M243.5 412.2h0M222.7 413.3h0M226.1 411.4h0M253.1 412.3h0M254.8 413.8h0M267.3 413.5h0M242.3 414.1h0M234.4 412.2h0M257.0 412.1h0M243.5 412.0h0M261.4 410.1h0M260.3 413.3h0M244.1 412.8h0M233.4 413.3h0M261.8 412.2h0M240.9 411.9h0M242.7 411.2h0M228.7 413.8h0" stroke="#1024f4" stroke-opacity="0.4" stroke-width="0.9" stroke-linecap="square"/>
<g filter="url(#bl)">
<rect x="224.3" y="413.9" width="42.7" height="4.6" rx="2.3" fill="#0a18ee" filter="url(#bl3)"/>
<rect x="225.9" y="415.02" width="39.5" height="2.85" rx="1.43" fill="#28c4f4" filter="url(#bl3)"/>
<rect x="228" y="415.41" width="35.5" height="2.07" rx="1.03" fill="#70ea48" filter="url(#bl3)"/>
<rect x="230" y="415.81" width="20" height="1.29" rx="0.64" fill="#f2e420" filter="url(#bl3)"/>
<ellipse cx="233" cy="416.5" rx="3.2" ry="1" fill="#f2e420"/><ellipse cx="233" cy="416.5" rx="2.24" ry="0.7" fill="#ff7a10"/><ellipse cx="233" cy="416.5" rx="1.57" ry="0.49" fill="#ec2010"/>
</g>
<path d="M219.5 384V431H273.5" stroke="#c8c8c8" stroke-width="0.5" fill="none"/>
<path d="M217.5 430h2M218.4 427.5h1.1M218.4 425h1.1M218.4 422.5h1.1M217.5 420h2M218.4 417.5h1.1M218.4 415h1.1M218.4 412.5h1.1M217.5 410h2M218.4 407.5h1.1M218.4 405h1.1M218.4 402.5h1.1M217.5 400h2M218.4 397.5h1.1M218.4 395h1.1M218.4 392.5h1.1M217.5 390h2M218.4 387.5h1.1M218.4 385h1.1M224.9 431v1.8M227.6 431v1.1M229.76 431v1.1M231.38 431v1.1M232.73 431v1.1M237.32 431v1.8M240.02 431v1.1M242.18 431v1.1M243.8 431v1.1M245.15 431v1.1M249.74 431v1.8M252.44 431v1.1M254.6 431v1.1M256.22 431v1.1M257.57 431v1.1M262.16 431v1.8M264.86 431v1.1M267.02 431v1.1M268.64 431v1.1M269.99 431v1.1" stroke="#666" stroke-width="0.5" fill="none"/>
<rect x="217.6" y="416.1" width="1.9" height="2.6" fill="#222"/>
<rect x="232" y="431.4" width="2" height="1.4" fill="#111"/>
<path d="M251.7 372.4H273.5V431" fill="none" stroke="#9c9c9c" stroke-width="0.65"/>
<path d="M251.7 372.4V431" fill="none" stroke="#9a9a9a" stroke-width="1.0"/>
<path d="M219.5 412.8H273.5" fill="none" stroke="#6a6a6a" stroke-width="0.95"/>
<text x="222.1" y="372.6" font-size="8" textLength="23.6" lengthAdjust="spacingAndGlyphs" stroke="#141414" stroke-width="0.12">CD19+</text>
<text x="222.1" y="381.5" font-size="8" textLength="15.9" lengthAdjust="spacingAndGlyphs" stroke="#141414" stroke-width="0.12">0.6%</text>
<g filter="url(#bl2)">
<ellipse cx="307.8" cy="412" rx="17.96" ry="1.8" fill="#0a18ee" fill-opacity="0.55"/>
</g>
<path d="M307.8 412.4h0M311.7 412.3h0M289.7 410.9h0M315.6 412.8h0M294.3 411.2h0M295.2 412.5h0M312.1 411.8h0M300.2 412.1h0M308.4 411.1h0M312.0 411.1h0M319.4 412.4h0M299.7 412.4h0M308.8 411.1h0M297.0 410.1h0M294.4 412.1h0M322.5 411.2h0M309.9 412.1h0M317.4 412.2h0M322.7 412.6h0M298.9 412.2h0M308.2 412.4h0M304.4 412.6h0M323.9 411.0h0M301.5 412.1h0M313.9 411.9h0M318.0 410.6h0M317.3 413.0h0M321.3 412.2h0M305.1 412.2h0M307.1 410.2h0M300.7 411.8h0M301.8 410.9h0M305.2 411.4h0M308.8 411.8h0M310.1 412.8h0M309.6 412.2h0M293.3 408.9h0M303.2 412.5h0M303.9 411.2h0M293.1 412.7h0M301.7 412.0h0M321.6 412.3h0M334.9 411.7h0M319.5 412.5h0M300.1 411.8h0M301.2 410.8h0M311.6 411.0h0M328.2 411.1h0M301.5 411.9h0M301.8 411.9h0M300.7 410.4h0M326.3 412.2h0M309.8 411.3h0M306.3 412.1h0M291.3 411.0h0M297.3 413.1h0M295.3 413.0h0M302.4 414.5h0M307.1 411.8h0M324.2 412.7h0M319.3 410.7h0M321.6 413.5h0M306.8 411.3h0M294.9 412.8h0M311.5 411.8h0M293.2 413.4h0M318.5 411.8h0M325.7 410.8h0M318.6 410.8h0M324.9 411.5h0M322.7 411.4h0M312.8 412.9h0M297.2 411.9h0M297.9 412.7h0M300.8 411.4h0M305.6 413.0h0M295.5 411.8h0M304.1 411.3h0M298.6 411.6h0M310.4 410.3h0M310.8 410.6h0M308.2 414.1h0M296.4 411.7h0M304.9 412.8h0M302.3 410.0h0M288.7 412.0h0M311.0 412.9h0M301.6 412.5h0M295.2 413.1h0M307.1 411.1h0M310.1 413.5h0M297.8 410.6h0M295.8 410.6h0M307.4 412.2h0M306.0 412.0h0M322.2 411.5h0M293.0 409.5h0M310.9 411.1h0M305.0 412.2h0M313.6 410.2h0M296.5 411.9h0M306.3 412.9h0M302.0 409.7h0M322.0 410.2h0M296.4 412.2h0M295.3 414.3h0M310.9 412.3h0M302.8 414.0h0M314.5 411.1h0M323.1 410.1h0M301.0 412.1h0M309.7 410.8h0M327.0 413.3h0M296.8 412.2h0M300.4 411.4h0M319.8 411.9h0M306.7 411.9h0M293.9 413.0h0M299.0 413.1h0M302.5 411.3h0M325.8 412.0h0M300.3 411.3h0M315.3 413.7h0M315.4 411.4h0M294.5 411.1h0M306.6 412.0h0M300.1 413.1h0M296.5 411.1h0M314.0 412.3h0M303.3 412.8h0M291.1 413.4h0M334.2 413.8h0M309.4 413.8h0M308.6 413.1h0M305.6 412.0h0M314.3 410.1h0M305.5 413.5h0M319.1 412.1h0M310.3 413.2h0M312.0 409.9h0M296.7 411.5h0M309.7 411.4h0M306.7 413.5h0M319.2 412.4h0M308.2 411.9h0M312.4 412.0h0M299.3 412.6h0M298.1 411.8h0M303.7 410.6h0M315.3 411.7h0M294.0 411.7h0M291.5 413.2h0M314.2 413.8h0M301.2 412.5h0M296.4 410.9h0M306.9 412.2h0" stroke="#1024f4" stroke-opacity="0.4" stroke-width="0.9" stroke-linecap="square"/>
<path d="M318.0 405.1h0M320.3 409.4h0M294.7 405.4h0M294.1 412.0h0M298.9 409.1h0M317.9 405.1h0M299.7 407.2h0M296.0 401.6h0M293.5 407.2h0M308.5 412.1h0M291.1 410.0h0M315.0 406.4h0M325.1 404.7h0M299.1 402.3h0M297.5 406.4h0M314.7 410.5h0M302.5 403.5h0M301.7 404.5h0M300.0 404.6h0" stroke="#1024f4" stroke-opacity="0.25" stroke-width="0.9" stroke-linecap="square"/>
<g filter="url(#bl)">
<rect x="286.9" y="413.8" width="43.8" height="4.8" rx="2.4" fill="#0a18ee" filter="url(#bl3)"/>
<rect x="288.5" y="414.96" width="40.6" height="2.98" rx="1.49" fill="#28c4f4" filter="url(#bl3)"/>
<rect x="291" y="415.37" width="36.2" height="2.16" rx="1.08" fill="#70ea48" filter="url(#bl3)"/>
<rect x="294" y="415.78" width="22" height="1.34" rx="0.67" fill="#f2e420" filter="url(#bl3)"/>
<ellipse cx="323.3" cy="416.5" rx="3.4" ry="1" fill="#f2e420"/><ellipse cx="323.3" cy="416.5" rx="2.38" ry="0.7" fill="#ff7a10"/><ellipse cx="323.3" cy="416.5" rx="1.67" ry="0.49" fill="#ec2010"/>
</g>
<path d="M282.8 384V431H338.2" stroke="#c8c8c8" stroke-width="0.5" fill="none"/>
<path d="M280.8 430h2M281.7 427.5h1.1M281.7 425h1.1M281.7 422.5h1.1M280.8 420h2M281.7 417.5h1.1M281.7 415h1.1M281.7 412.5h1.1M280.8 410h2M281.7 407.5h1.1M281.7 405h1.1M281.7 402.5h1.1M280.8 400h2M281.7 397.5h1.1M281.7 395h1.1M281.7 392.5h1.1M280.8 390h2M281.7 387.5h1.1M281.7 385h1.1M288.34 431v1.8M291.11 431v1.1M293.33 431v1.1M294.99 431v1.1M296.37 431v1.1M301.08 431v1.8M303.85 431v1.1M306.07 431v1.1M307.73 431v1.1M309.12 431v1.1M313.82 431v1.8M316.59 431v1.1M318.81 431v1.1M320.47 431v1.1M321.86 431v1.1M326.57 431v1.8M329.34 431v1.1M331.55 431v1.1M333.21 431v1.1M334.6 431v1.1" stroke="#666" stroke-width="0.5" fill="none"/>
<rect x="280.9" y="416.1" width="1.9" height="2.6" fill="#222"/>
<rect x="295.65" y="431.4" width="2" height="1.4" fill="#111"/>
<path d="M315.7 372.4H338.2V431" fill="none" stroke="#9c9c9c" stroke-width="0.65"/>
<path d="M315.7 372.4V431" fill="none" stroke="#9a9a9a" stroke-width="1.0"/>
<path d="M282.8 412.9H338.2" fill="none" stroke="#6a6a6a" stroke-width="0.95"/>
<text x="285.4" y="372.6" font-size="8" textLength="23.6" lengthAdjust="spacingAndGlyphs" stroke="#141414" stroke-width="0.12">CD19+</text>
<text x="285.4" y="381.5" font-size="8" textLength="15.9" lengthAdjust="spacingAndGlyphs" stroke="#141414" stroke-width="0.12">1.6%</text>
<g filter="url(#bl2)">
<ellipse cx="369.15" cy="412.3" rx="17.51" ry="1.8" fill="#0a18ee" fill-opacity="0.55"/>
</g>
<path d="M359.3 412.1h0M362.9 412.0h0M354.2 412.3h0M373.7 412.8h0M362.5 411.1h0M355.1 411.0h0M361.6 411.9h0M350.4 412.9h0M352.7 411.5h0M360.8 413.0h0M386.3 411.8h0M365.3 411.8h0M366.0 412.0h0M392.5 411.1h0M366.9 411.4h0M371.5 411.7h0M373.7 411.1h0M388.9 412.4h0M350.5 412.9h0M363.3 411.1h0M372.4 411.7h0M375.3 411.7h0M376.9 412.3h0M371.5 412.4h0M364.4 411.8h0M372.5 412.9h0M364.0 414.4h0M384.7 411.1h0M378.7 412.1h0M370.3 411.4h0M384.3 411.4h0M367.2 411.5h0M387.1 413.4h0M355.0 411.8h0M371.6 411.8h0M364.5 411.1h0M370.5 411.1h0M376.2 414.6h0M364.8 413.8h0M371.7 411.5h0M364.6 411.3h0M369.1 412.9h0M377.2 411.9h0M356.2 412.1h0M384.5 412.5h0M367.4 410.2h0M363.7 412.7h0M358.7 413.5h0M362.4 411.3h0M362.3 412.1h0M377.9 411.6h0M350.4 412.1h0M373.2 413.7h0M356.9 413.7h0M374.7 412.6h0M360.4 411.3h0M358.6 413.1h0M370.2 413.3h0M385.9 412.2h0M367.5 414.1h0M355.2 411.8h0M364.4 411.8h0M369.4 411.4h0M379.4 410.9h0M360.0 410.5h0M354.2 412.8h0M374.2 412.0h0M376.3 412.8h0M362.3 412.2h0M371.6 414.2h0M363.7 412.6h0M373.4 413.4h0M372.2 413.3h0M357.5 411.9h0M349.0 412.2h0M390.9 412.4h0M368.9 412.5h0M369.4 410.9h0M361.2 412.0h0M369.7 411.4h0M367.0 411.5h0M355.0 411.6h0M360.1 413.0h0M381.2 412.8h0M365.9 411.7h0M352.6 411.7h0M383.4 413.3h0M370.2 412.0h0M368.0 412.6h0M367.9 412.6h0M360.4 412.3h0M364.6 413.3h0M355.8 413.5h0M367.2 411.7h0M368.2 412.3h0M365.7 412.6h0M362.3 410.6h0M374.8 412.2h0M384.4 412.6h0M348.3 413.4h0M361.2 412.7h0M389.8 413.3h0M357.3 412.1h0M352.2 412.9h0M373.5 411.2h0M372.5 413.1h0M375.9 411.6h0M361.2 411.1h0M355.3 412.5h0M368.4 413.5h0M370.7 411.9h0M354.0 413.7h0M369.6 412.2h0M358.1 411.2h0M374.2 411.3h0M373.7 412.8h0M364.3 410.6h0M372.0 413.6h0M359.9 411.0h0M378.7 412.3h0M361.9 413.4h0M365.3 412.6h0M364.1 411.5h0M370.2 411.4h0M350.6 411.7h0M380.1 413.3h0M389.3 413.2h0M383.8 412.5h0M363.7 412.7h0M358.7 412.9h0" stroke="#1024f4" stroke-opacity="0.4" stroke-width="0.9" stroke-linecap="square"/>
<path d="M361.2 406.9h0M356.8 405.6h0M376.6 405.3h0M358.7 407.0h0M375.5 405.4h0M353.4 400.7h0M351.5 409.7h0M365.0 407.7h0M377.6 407.0h0M371.2 404.3h0M348.6 408.2h0M365.0 408.0h0M354.5 405.6h0M387.7 403.2h0M367.1 410.5h0M363.5 406.5h0M361.2 410.4h0M365.0 404.8h0M370.7 405.2h0" stroke="#1024f4" stroke-opacity="0.25" stroke-width="0.9" stroke-linecap="square"/>
<g filter="url(#bl)">
<rect x="348.8" y="414.3" width="42.7" height="4.4" rx="2.2" fill="#0a18ee" filter="url(#bl3)"/>
<rect x="350.4" y="415.39" width="39.5" height="2.73" rx="1.36" fill="#28c4f4" filter="url(#bl3)"/>
<rect x="352" y="415.76" width="36" height="1.98" rx="0.99" fill="#70ea48" filter="url(#bl3)"/>
<rect x="355" y="416.13" width="17" height="1.23" rx="0.62" fill="#f2e420" filter="url(#bl3)"/>
<ellipse cx="384.6" cy="416.8" rx="3.4" ry="1" fill="#f2e420"/><ellipse cx="384.6" cy="416.8" rx="2.38" ry="0.7" fill="#ff7a10"/><ellipse cx="384.6" cy="416.8" rx="1.67" ry="0.49" fill="#ec2010"/>
</g>
<path d="M345.2 384V431H397.1" stroke="#c8c8c8" stroke-width="0.5" fill="none"/>
<path d="M343.2 430h2M344.1 427.5h1.1M344.1 425h1.1M344.1 422.5h1.1M343.2 420h2M344.1 417.5h1.1M344.1 415h1.1M344.1 412.5h1.1M343.2 410h2M344.1 407.5h1.1M344.1 405h1.1M344.1 402.5h1.1M343.2 400h2M344.1 397.5h1.1M344.1 395h1.1M344.1 392.5h1.1M343.2 390h2M344.1 387.5h1.1M344.1 385h1.1M350.39 431v1.8M352.99 431v1.1M355.06 431v1.1M356.62 431v1.1M357.92 431v1.1M362.33 431v1.8M364.92 431v1.1M367 431v1.1M368.56 431v1.1M369.85 431v1.1M374.26 431v1.8M376.86 431v1.1M378.94 431v1.1M380.49 431v1.1M381.79 431v1.1M386.2 431v1.8M388.8 431v1.1M390.87 431v1.1M392.43 431v1.1M393.73 431v1.1" stroke="#666" stroke-width="0.5" fill="none"/>
<rect x="343.3" y="416.1" width="1.9" height="2.6" fill="#222"/>
<rect x="357.18" y="431.4" width="2" height="1.4" fill="#111"/>
<path d="M376.3 372.4H397.1V431" fill="none" stroke="#9c9c9c" stroke-width="0.65"/>
<path d="M376.3 372.4V431" fill="none" stroke="#9a9a9a" stroke-width="1.0"/>
<path d="M345.2 413.5H397.1" fill="none" stroke="#6a6a6a" stroke-width="0.95"/>
<text x="347.8" y="372.6" font-size="8" textLength="23.6" lengthAdjust="spacingAndGlyphs" stroke="#141414" stroke-width="0.12">CD19+</text>
<text x="347.8" y="381.5" font-size="8" textLength="10.1" lengthAdjust="spacingAndGlyphs" stroke="#141414" stroke-width="0.12">2%</text>
<g filter="url(#bl2)">
<ellipse cx="432.65" cy="413" rx="16.52" ry="1.8" fill="#0a18ee" fill-opacity="0.55"/>
</g>
<path d="M423.5 414.3h0M436.7 412.9h0M435.1 413.6h0M433.1 412.9h0M428.6 413.2h0M433.0 413.2h0M423.1 412.7h0M432.0 411.9h0M427.9 413.5h0M429.5 412.5h0M427.8 412.3h0M436.7 412.5h0M413.3 411.7h0M430.6 413.0h0M423.8 411.6h0M426.7 412.0h0M422.2 412.8h0M421.2 413.1h0M421.5 412.4h0M426.0 414.2h0M441.9 413.7h0M421.5 412.8h0M436.1 413.6h0M413.7 412.8h0M421.5 413.5h0M433.6 412.3h0M446.9 412.5h0M449.5 412.7h0M427.3 414.6h0M423.4 412.4h0M441.0 412.8h0M432.2 411.6h0M443.8 413.8h0M431.1 413.5h0M423.6 412.4h0M414.2 413.2h0M438.9 413.6h0M436.1 413.5h0M419.9 411.6h0M433.6 413.0h0M436.7 412.6h0M420.2 413.2h0M423.1 411.3h0M422.6 412.0h0M418.2 412.3h0M436.4 415.1h0M443.2 412.4h0M438.1 412.7h0M431.5 412.2h0M427.3 411.2h0" stroke="#1024f4" stroke-opacity="0.35" stroke-width="0.9" stroke-linecap="square"/>
<path d="M443.5 404.5h0M431.7 405.1h0M428.6 403.1h0M422.3 410.1h0M431.8 400.6h0M434.3 402.7h0M428.8 408.8h0M419.7 406.0h0M423.6 408.4h0M434.9 411.6h0M429.2 413.7h0M416.7 413.0h0M423.4 409.6h0M424.8 407.3h0M417.0 408.3h0" stroke="#1024f4" stroke-opacity="0.25" stroke-width="0.9" stroke-linecap="square"/>
<g filter="url(#bl)">
<rect x="413.5" y="415.3" width="40.3" height="3.8" rx="1.9" fill="#0a18ee" filter="url(#bl3)"/>
<rect x="415.1" y="416.27" width="37.1" height="2.36" rx="1.18" fill="#28c4f4" filter="url(#bl3)"/>
<rect x="417" y="416.59" width="33.3" height="1.71" rx="0.85" fill="#70ea48" filter="url(#bl3)"/>
<rect x="420" y="416.92" width="16" height="1.06" rx="0.53" fill="#f2e420" filter="url(#bl3)"/>
<ellipse cx="450.5" cy="417.5" rx="3.4" ry="1" fill="#f2e420"/><ellipse cx="450.5" cy="417.5" rx="2.38" ry="0.7" fill="#ff7a10"/><ellipse cx="450.5" cy="417.5" rx="1.67" ry="0.49" fill="#ec2010"/>
</g>
<path d="M408.2 384V431H461.1" stroke="#c8c8c8" stroke-width="0.5" fill="none"/>
<path d="M406.2 430h2M407.1 427.5h1.1M407.1 425h1.1M407.1 422.5h1.1M406.2 420h2M407.1 417.5h1.1M407.1 415h1.1M407.1 412.5h1.1M406.2 410h2M407.1 407.5h1.1M407.1 405h1.1M407.1 402.5h1.1M406.2 400h2M407.1 397.5h1.1M407.1 395h1.1M407.1 392.5h1.1M406.2 390h2M407.1 387.5h1.1M407.1 385h1.1M413.49 431v1.8M416.13 431v1.1M418.25 431v1.1M419.84 431v1.1M421.16 431v1.1M425.66 431v1.8M428.3 431v1.1M430.42 431v1.1M432 431v1.1M433.33 431v1.1M437.82 431v1.8M440.47 431v1.1M442.59 431v1.1M444.17 431v1.1M445.49 431v1.1M449.99 431v1.8M452.64 431v1.1M454.75 431v1.1M456.34 431v1.1M457.66 431v1.1" stroke="#666" stroke-width="0.5" fill="none"/>
<rect x="406.3" y="416.1" width="1.9" height="2.6" fill="#222"/>
<rect x="420.43" y="431.4" width="2" height="1.4" fill="#111"/>
<path d="M439.7 372.4H461.1V431" fill="none" stroke="#9c9c9c" stroke-width="0.65"/>
<path d="M439.7 372.4V431" fill="none" stroke="#9a9a9a" stroke-width="1.0"/>
<path d="M408.2 414.2H461.1" fill="none" stroke="#6a6a6a" stroke-width="0.95"/>
<text x="410.8" y="372.6" font-size="8" textLength="23.6" lengthAdjust="spacingAndGlyphs" stroke="#141414" stroke-width="0.12">CD19+</text>
<text x="410.8" y="381.5" font-size="8" textLength="10.1" lengthAdjust="spacingAndGlyphs" stroke="#141414" stroke-width="0.12">1%</text>
<path d="M29.5 385.3V438.2H70" fill="none" stroke="#b2173e" stroke-width="1.1"/>
<path d="M29.5 382.3L27.5 386.5L31.5 386.5Z M73 438.2L68.8 436.2L68.8 440.2Z" fill="#b2173e"/>
<text transform="translate(24.47,409.2) rotate(-90)" font-size="10.2" text-anchor="middle" textLength="18" lengthAdjust="spacingAndGlyphs" stroke="#141414" stroke-width="0.12">CD19</text>
<text x="44.2" y="449.8" font-size="10.2" textLength="14.2" lengthAdjust="spacingAndGlyphs" stroke="#141414" stroke-width="0.12">CD3</text>
<text x="66" y="472.6" font-size="8" text-anchor="middle" textLength="48" lengthAdjust="spacingAndGlyphs" stroke="#141414" stroke-width="0.12">Unstimulated</text>
<text x="119.4" y="473.8" font-size="8" text-anchor="middle" textLength="39.75" lengthAdjust="spacingAndGlyphs" stroke="#141414" stroke-width="0.12">10nM Blina</text>
<text x="178.5" y="473.9" font-size="8" text-anchor="middle" textLength="37.6" lengthAdjust="spacingAndGlyphs" stroke="#141414" stroke-width="0.12">5nM dasat</text>
<text x="240.75" y="464.6" font-size="8" text-anchor="middle" textLength="39.3" lengthAdjust="spacingAndGlyphs" stroke="#141414" stroke-width="0.12">10nM Blina</text>
<text x="240.05" y="473.9" font-size="8" text-anchor="middle" textLength="36.9" lengthAdjust="spacingAndGlyphs" stroke="#141414" stroke-width="0.12">5nM dasat</text>
<path d="M77 536.3C77.22 534.92 77.9 533.22 78.3 528C78.7 522.78 79.08 511.33 79.4 505C79.72 498.67 79.98 493.12 80.2 490C80.42 486.88 80.55 485.92 80.75 486.25C80.95 486.58 81.18 487.71 81.4 492C81.62 496.29 81.83 506.17 82.1 512C82.37 517.83 82.65 523.83 83 527C83.35 530.17 83.82 529.83 84.2 531C84.58 532.17 84.92 533.12 85.3 534C85.68 534.88 86.3 535.92 86.5 536.3Z" fill="#f2cdc4" stroke="none"/>
<path d="M77 536.3C77.22 534.92 77.9 533.22 78.3 528C78.7 522.78 79.08 511.33 79.4 505C79.72 498.67 79.98 493.12 80.2 490C80.42 486.88 80.55 485.92 80.75 486.25C80.95 486.58 81.18 487.71 81.4 492C81.62 496.29 81.83 506.17 82.1 512C82.37 517.83 82.65 523.83 83 527C83.35 530.17 83.82 529.83 84.2 531C84.58 532.17 84.92 533.12 85.3 534C85.68 534.88 86.3 535.92 86.5 536.3" fill="none" stroke="#b0203e" stroke-width="1.05" stroke-linejoin="round" stroke-linecap="round"/>
<rect x="40" y="477.5" width="52" height="58.8" fill="none" stroke="#1a1a1a" stroke-width="1"/>
<path d="M37 535.8h3M37.9 532.9h2.1M37.9 530h2.1M37.9 527.1h2.1M37.9 524.2h2.1M37 521.3h3M37.9 518.4h2.1M37.9 515.5h2.1M37.9 512.6h2.1M37.9 509.7h2.1M37 506.8h3M37.9 503.9h2.1M37.9 501h2.1M37.9 498.1h2.1M37.9 495.2h2.1M37 492.3h3M37.9 489.4h2.1M37.9 486.5h2.1M37.9 483.6h2.1M37.9 480.7h2.1" stroke="#222" stroke-width="0.75" fill="none"/>
<path d="M45.2 536.3v2.6M47.54 536.3v1.9M49.36 536.3v1.9M50.92 536.3v1.9M52.22 536.3v1.9M53.26 536.3v1.9M57.42 536.3v2.6M59.76 536.3v1.9M61.58 536.3v1.9M63.14 536.3v1.9M64.44 536.3v1.9M65.48 536.3v1.9M69.64 536.3v2.6M71.98 536.3v1.9M73.8 536.3v1.9M75.36 536.3v1.9M76.66 536.3v1.9M77.7 536.3v1.9M81.86 536.3v2.6M84.2 536.3v1.9M86.02 536.3v1.9M87.58 536.3v1.9M88.88 536.3v1.9M89.92 536.3v1.9" stroke="#222" stroke-width="0.8" fill="none"/>
<rect x="50.44" y="536.9" width="2" height="1.4" fill="#111"/>
<path d="M101.9 536.3C102.33 532.75 103.88 521.88 104.5 515C105.12 508.12 105.15 500.17 105.6 495C106.05 489.83 106.67 483.8 107.2 484C107.73 484.2 108.28 490.65 108.8 496.2C109.32 501.75 109.78 512.55 110.3 517.3C110.82 522.05 111.28 522.93 111.9 524.7C112.52 526.47 113.12 526.92 114 527.9C114.88 528.88 116.13 529.9 117.2 530.6C118.27 531.3 119.33 531.67 120.4 532.1C121.47 532.53 122.55 532.93 123.6 533.2C124.65 533.47 125.65 533.38 126.7 533.7C127.75 534.02 128.65 534.8 129.9 535.1C131.15 535.4 132.78 535.6 134.2 535.5C135.62 535.4 137.17 534.57 138.4 534.5C139.63 534.43 140.82 534.8 141.6 535.1C142.38 535.4 142.85 536.1 143.1 536.3Z" fill="#f2cdc4" stroke="none"/>
<path d="M101.9 536.3C102.33 532.75 103.88 521.88 104.5 515C105.12 508.12 105.15 500.17 105.6 495C106.05 489.83 106.67 483.8 107.2 484C107.73 484.2 108.28 490.65 108.8 496.2C109.32 501.75 109.78 512.55 110.3 517.3C110.82 522.05 111.28 522.93 111.9 524.7C112.52 526.47 113.12 526.92 114 527.9C114.88 528.88 116.13 529.9 117.2 530.6C118.27 531.3 119.33 531.67 120.4 532.1C121.47 532.53 122.55 532.93 123.6 533.2C124.65 533.47 125.65 533.38 126.7 533.7C127.75 534.02 128.65 534.8 129.9 535.1C131.15 535.4 132.78 535.6 134.2 535.5C135.62 535.4 137.17 534.57 138.4 534.5C139.63 534.43 140.82 534.8 141.6 535.1C142.38 535.4 142.85 536.1 143.1 536.3" fill="none" stroke="#b0203e" stroke-width="1.05" stroke-linejoin="round" stroke-linecap="round"/>
<rect x="98" y="477.5" width="50" height="58.8" fill="none" stroke="#1a1a1a" stroke-width="1"/>
<path d="M95 535.8h3M95.9 532.9h2.1M95.9 530h2.1M95.9 527.1h2.1M95.9 524.2h2.1M95 521.3h3M95.9 518.4h2.1M95.9 515.5h2.1M95.9 512.6h2.1M95.9 509.7h2.1M95 506.8h3M95.9 503.9h2.1M95.9 501h2.1M95.9 498.1h2.1M95.9 495.2h2.1M95 492.3h3M95.9 489.4h2.1M95.9 486.5h2.1M95.9 483.6h2.1M95.9 480.7h2.1" stroke="#222" stroke-width="0.75" fill="none"/>
<path d="M103 536.3v2.6M105.25 536.3v1.9M107 536.3v1.9M108.5 536.3v1.9M109.75 536.3v1.9M110.75 536.3v1.9M114.75 536.3v2.6M117 536.3v1.9M118.75 536.3v1.9M120.25 536.3v1.9M121.5 536.3v1.9M122.5 536.3v1.9M126.5 536.3v2.6M128.75 536.3v1.9M130.5 536.3v1.9M132 536.3v1.9M133.25 536.3v1.9M134.25 536.3v1.9M138.25 536.3v2.6M140.5 536.3v1.9M142.25 536.3v1.9M143.75 536.3v1.9M145 536.3v1.9M146 536.3v1.9" stroke="#222" stroke-width="0.8" fill="none"/>
<rect x="108" y="536.9" width="2" height="1.4" fill="#111"/>
<path d="M191.5 536.3C191.75 534.92 192.53 533.22 193 528C193.47 522.78 193.9 511.67 194.3 505C194.7 498.33 195.12 491.88 195.4 488C195.68 484.12 195.77 481.37 196 481.7C196.23 482.03 196.55 485.62 196.8 490C197.05 494.38 197.2 502 197.5 508C197.8 514 198.18 522.33 198.6 526C199.02 529.67 199.5 529 200 530C200.5 531 201.1 531.17 201.6 532C202.1 532.83 202.6 534.28 203 535C203.4 535.72 203.83 536.08 204 536.3Z" fill="#f2cdc4" stroke="none"/>
<path d="M191.5 536.3C191.75 534.92 192.53 533.22 193 528C193.47 522.78 193.9 511.67 194.3 505C194.7 498.33 195.12 491.88 195.4 488C195.68 484.12 195.77 481.37 196 481.7C196.23 482.03 196.55 485.62 196.8 490C197.05 494.38 197.2 502 197.5 508C197.8 514 198.18 522.33 198.6 526C199.02 529.67 199.5 529 200 530C200.5 531 201.1 531.17 201.6 532C202.1 532.83 202.6 534.28 203 535C203.4 535.72 203.83 536.08 204 536.3" fill="none" stroke="#b0203e" stroke-width="1.05" stroke-linejoin="round" stroke-linecap="round"/>
<rect x="157" y="477.5" width="50" height="58.8" fill="none" stroke="#1a1a1a" stroke-width="1"/>
<path d="M154 535.8h3M154.9 532.9h2.1M154.9 530h2.1M154.9 527.1h2.1M154.9 524.2h2.1M154 521.3h3M154.9 518.4h2.1M154.9 515.5h2.1M154.9 512.6h2.1M154.9 509.7h2.1M154 506.8h3M154.9 503.9h2.1M154.9 501h2.1M154.9 498.1h2.1M154.9 495.2h2.1M154 492.3h3M154.9 489.4h2.1M154.9 486.5h2.1M154.9 483.6h2.1M154.9 480.7h2.1" stroke="#222" stroke-width="0.75" fill="none"/>
<path d="M162 536.3v2.6M164.25 536.3v1.9M166 536.3v1.9M167.5 536.3v1.9M168.75 536.3v1.9M169.75 536.3v1.9M173.75 536.3v2.6M176 536.3v1.9M177.75 536.3v1.9M179.25 536.3v1.9M180.5 536.3v1.9M181.5 536.3v1.9M185.5 536.3v2.6M187.75 536.3v1.9M189.5 536.3v1.9M191 536.3v1.9M192.25 536.3v1.9M193.25 536.3v1.9M197.25 536.3v2.6M199.5 536.3v1.9M201.25 536.3v1.9M202.75 536.3v1.9M204 536.3v1.9M205 536.3v1.9" stroke="#222" stroke-width="0.8" fill="none"/>
<rect x="167" y="536.9" width="2" height="1.4" fill="#111"/>
<path d="M251 536.3C251.25 534.92 252.05 533.22 252.5 528C252.95 522.78 253.32 511.33 253.7 505C254.08 498.67 254.52 493.12 254.8 490C255.08 486.88 255.17 485.8 255.4 486.3C255.63 486.8 255.9 488.72 256.2 493C256.5 497.28 256.83 507 257.2 512C257.57 517 258.03 520.87 258.4 523C258.77 525.13 259.05 524.13 259.4 524.8C259.75 525.47 260.15 525.8 260.5 527C260.85 528.2 261.08 530.45 261.5 532C261.92 533.55 262.75 535.58 263 536.3Z" fill="#f2cdc4" stroke="none"/>
<path d="M251 536.3C251.25 534.92 252.05 533.22 252.5 528C252.95 522.78 253.32 511.33 253.7 505C254.08 498.67 254.52 493.12 254.8 490C255.08 486.88 255.17 485.8 255.4 486.3C255.63 486.8 255.9 488.72 256.2 493C256.5 497.28 256.83 507 257.2 512C257.57 517 258.03 520.87 258.4 523C258.77 525.13 259.05 524.13 259.4 524.8C259.75 525.47 260.15 525.8 260.5 527C260.85 528.2 261.08 530.45 261.5 532C261.92 533.55 262.75 535.58 263 536.3" fill="none" stroke="#b0203e" stroke-width="1.05" stroke-linejoin="round" stroke-linecap="round"/>
<rect x="214.8" y="477.5" width="51.2" height="58.8" fill="none" stroke="#1a1a1a" stroke-width="1"/>
<path d="M211.8 535.8h3M212.7 532.9h2.1M212.7 530h2.1M212.7 527.1h2.1M212.7 524.2h2.1M211.8 521.3h3M212.7 518.4h2.1M212.7 515.5h2.1M212.7 512.6h2.1M212.7 509.7h2.1M211.8 506.8h3M212.7 503.9h2.1M212.7 501h2.1M212.7 498.1h2.1M212.7 495.2h2.1M211.8 492.3h3M212.7 489.4h2.1M212.7 486.5h2.1M212.7 483.6h2.1M212.7 480.7h2.1" stroke="#222" stroke-width="0.75" fill="none"/>
<path d="M219.92 536.3v2.6M222.22 536.3v1.9M224.02 536.3v1.9M225.55 536.3v1.9M226.83 536.3v1.9M227.86 536.3v1.9M231.95 536.3v2.6M234.26 536.3v1.9M236.05 536.3v1.9M237.58 536.3v1.9M238.86 536.3v1.9M239.89 536.3v1.9M243.98 536.3v2.6M246.29 536.3v1.9M248.08 536.3v1.9M249.62 536.3v1.9M250.9 536.3v1.9M251.92 536.3v1.9M256.02 536.3v2.6M258.32 536.3v1.9M260.11 536.3v1.9M261.65 536.3v1.9M262.93 536.3v1.9M263.95 536.3v1.9" stroke="#222" stroke-width="0.8" fill="none"/>
<rect x="225.06" y="536.9" width="2" height="1.4" fill="#111"/>
<path d="M33 489.3V543.2H73.3" fill="none" stroke="#b2173e" stroke-width="1.1"/>
<path d="M33 486.3L31 490.5L35 490.5Z M76.3 543.2L72.1 541.2L72.1 545.2Z" fill="#b2173e"/>
<text transform="translate(28.77,526.7) rotate(-90)" font-size="10.2" text-anchor="middle" textLength="20.4" lengthAdjust="spacingAndGlyphs" stroke="#141414" stroke-width="0.12">Count</text>
<text x="33.2" y="555" font-size="9.5" textLength="19.1" lengthAdjust="spacingAndGlyphs" stroke="#141414" stroke-width="0.12">Violet</text>
<g filter="url(#bl2)">
<ellipse cx="65" cy="604" rx="8" ry="6" fill="#0a18ee" fill-opacity="0.12"/>
<ellipse cx="64" cy="615.4" rx="14" ry="1.8" fill="#0a18ee" fill-opacity="0.7"/>
</g>
<path d="M58.0 599.7h0M53.6 599.1h0M55.1 598.2h0M53.6 600.0h0M56.4 603.1h0M51.3 596.4h0M53.6 602.7h0M55.7 598.2h0M58.2 598.4h0M56.6 605.2h0M57.0 599.9h0M54.8 592.5h0M49.8 596.5h0M55.1 603.6h0M53.4 603.5h0M54.8 605.6h0M50.2 595.5h0M51.5 594.6h0M57.2 595.1h0M51.8 597.4h0M55.5 597.1h0M55.2 601.4h0M52.2 589.0h0M51.6 593.7h0M57.1 596.0h0M51.3 600.7h0M53.7 595.1h0M56.0 603.0h0M54.2 595.8h0M51.7 590.3h0M54.4 600.7h0M51.6 599.2h0M60.7 594.2h0M49.9 601.7h0M52.7 597.0h0M54.9 598.5h0M55.7 601.3h0M56.1 599.6h0M48.9 604.9h0M49.9 603.5h0M54.1 593.1h0M53.7 602.8h0M51.4 599.2h0M52.0 594.8h0M52.3 604.5h0M55.1 598.9h0M53.4 599.6h0M54.2 599.8h0M49.9 603.0h0M51.8 587.9h0M55.1 593.9h0M53.3 598.7h0M52.3 601.3h0M53.0 597.9h0M51.5 597.9h0M51.4 599.2h0M56.5 603.4h0M54.5 593.2h0M55.8 603.0h0M58.1 589.4h0M53.6 597.6h0M56.0 594.4h0M52.8 609.0h0M55.7 590.5h0M53.6 604.9h0M52.3 601.6h0M53.8 592.8h0M52.2 603.9h0M56.2 596.5h0M56.0 596.0h0M54.1 598.9h0M50.9 600.4h0M52.8 587.3h0M51.8 595.4h0M51.8 594.8h0M52.1 588.5h0M55.5 599.3h0M54.2 597.9h0M53.7 597.9h0M51.2 592.5h0M53.8 603.4h0M54.1 606.0h0M50.6 597.9h0M52.3 604.3h0M57.3 596.8h0M55.2 598.0h0M51.4 598.6h0M51.3 605.7h0M54.9 604.1h0M54.4 588.6h0M55.3 599.4h0M48.4 599.5h0M55.8 606.4h0M51.4 602.4h0M54.3 598.3h0M53.0 601.3h0M54.8 601.9h0M52.7 593.4h0M56.5 604.6h0M52.4 598.9h0M55.3 591.5h0M54.7 609.4h0M54.2 596.0h0M58.0 599.1h0M54.1 597.2h0M54.0 591.3h0M50.8 592.7h0M55.6 598.6h0M56.1 590.2h0M52.3 605.3h0M51.9 591.0h0M52.0 597.5h0M53.6 604.6h0M56.5 605.7h0M54.9 596.9h0M52.5 592.6h0M56.4 604.4h0M53.8 595.2h0M55.1 601.1h0M53.9 594.0h0M54.1 596.6h0M55.2 601.6h0M54.6 597.2h0M56.9 602.3h0M56.3 602.6h0M55.0 600.7h0M51.3 591.2h0M51.6 601.7h0M55.6 599.8h0M53.8 606.9h0M52.7 591.3h0M50.3 597.6h0M55.1 602.2h0M53.1 602.5h0M53.5 595.9h0M52.8 602.3h0M55.7 594.2h0M51.5 599.5h0M58.2 594.0h0M50.9 600.8h0M54.7 596.4h0M53.5 601.1h0M49.8 598.9h0M54.9 603.0h0M56.1 598.7h0M50.5 604.8h0M55.3 596.3h0M55.8 603.5h0M53.3 588.8h0M52.6 595.7h0" stroke="#1024f4" stroke-opacity="0.45" stroke-width="0.9" stroke-linecap="square"/>
<path d="M62.1 602.6h0M60.6 604.9h0M78.1 597.3h0M73.1 600.5h0M70.2 602.4h0M74.5 599.6h0M71.3 599.3h0M68.3 602.9h0M73.4 595.4h0M59.1 609.7h0M69.3 611.1h0M60.9 604.0h0M70.5 611.5h0M66.7 600.9h0M71.2 602.5h0M62.6 606.7h0M55.8 598.1h0M75.0 600.6h0M65.1 604.8h0M73.6 605.5h0M61.3 600.3h0M73.2 602.4h0M63.3 607.2h0M73.7 613.4h0M60.7 599.6h0M62.9 604.7h0M64.2 608.3h0M51.2 607.6h0M63.2 601.7h0M70.3 604.0h0M61.1 610.2h0M70.4 600.6h0M68.2 597.7h0M59.8 601.6h0M69.1 603.5h0M62.5 596.4h0M57.2 610.7h0M69.2 599.2h0M74.0 605.6h0M64.6 600.1h0M73.7 604.6h0M76.6 604.7h0M63.6 600.1h0M62.9 604.2h0M68.5 605.9h0M69.6 598.0h0M65.8 598.5h0M69.8 596.7h0M63.6 598.9h0M63.4 601.8h0M75.8 601.8h0M58.6 601.6h0M71.4 605.7h0M68.4 612.6h0M73.5 603.4h0M74.1 596.6h0M66.0 598.8h0M68.0 610.8h0M64.1 610.6h0M61.0 609.8h0M57.1 598.9h0M72.8 602.6h0M67.8 602.9h0M68.1 602.1h0M61.3 601.6h0M67.6 598.7h0M69.7 611.5h0M57.4 600.4h0M65.4 603.1h0M67.6 599.5h0M66.8 603.0h0M66.5 610.4h0M67.8 595.9h0M57.9 605.8h0M65.0 600.0h0M59.1 601.5h0M66.5 599.7h0M65.0 607.3h0M71.6 605.6h0M66.0 596.5h0M71.5 610.2h0M74.4 608.6h0M68.6 604.8h0M66.9 609.0h0M65.4 613.3h0M71.5 601.5h0M67.0 595.3h0M62.7 601.6h0M81.3 599.1h0M72.4 603.4h0" stroke="#1024f4" stroke-opacity="0.25" stroke-width="0.9" stroke-linecap="square"/>
<path d="M61.7 615.2h0M48.5 615.6h0M79.0 614.8h0M63.5 614.7h0M69.2 613.9h0M64.9 615.1h0M61.3 614.9h0M66.6 615.3h0M56.3 613.9h0M60.7 615.9h0M65.9 612.6h0M54.1 616.7h0M66.6 613.0h0M56.9 614.7h0M75.1 616.4h0M61.2 614.2h0M78.9 613.4h0M76.1 614.9h0M64.7 616.0h0M67.8 613.5h0M52.2 614.5h0M68.0 616.1h0M43.7 616.0h0M68.8 616.2h0M70.2 614.7h0M67.4 615.0h0M59.1 614.4h0M65.0 614.0h0M52.6 612.8h0M67.9 615.1h0M64.8 613.2h0M70.6 614.0h0M47.9 616.3h0M52.4 617.1h0M68.1 614.0h0M45.7 613.7h0M75.5 616.1h0M66.0 612.5h0M61.0 614.2h0M67.6 614.4h0M66.7 612.6h0M59.0 616.2h0M52.7 615.6h0M81.9 615.3h0M53.2 615.9h0M49.6 614.9h0M60.8 615.9h0M73.2 614.7h0M77.9 615.6h0M60.3 613.4h0M83.1 614.0h0M67.2 614.4h0M60.3 612.6h0M62.9 614.4h0M71.6 613.9h0M51.9 613.3h0M63.7 614.8h0M69.6 614.1h0M68.2 614.7h0M77.1 614.4h0M65.1 615.2h0M73.5 613.4h0M60.3 614.2h0M47.4 616.0h0M72.3 614.5h0M90.2 616.0h0M79.7 616.3h0M71.0 612.9h0M75.9 615.0h0M54.7 614.6h0M69.9 615.6h0M65.4 613.9h0M69.9 613.6h0M63.4 615.4h0M52.8 614.9h0M48.8 613.4h0M54.4 614.4h0M69.6 614.4h0M71.1 614.6h0M62.4 615.1h0M62.2 614.7h0M72.1 613.8h0M73.0 613.2h0M62.3 612.5h0M59.9 616.3h0M66.8 616.0h0M52.6 613.3h0M67.6 615.5h0M70.5 612.6h0M68.0 614.4h0M64.9 615.1h0M61.8 612.5h0M55.7 612.8h0M53.8 614.3h0M74.2 613.7h0M58.1 613.2h0M50.6 614.6h0M60.2 614.2h0M56.5 615.1h0M54.7 615.1h0" stroke="#1024f4" stroke-opacity="0.35" stroke-width="0.9" stroke-linecap="square"/>
<g filter="url(#bl)">
<ellipse cx="53.6" cy="598.4" rx="3.4" ry="7.4" fill="#0a18ee"/>
<ellipse cx="53.5" cy="597.6" rx="2.7" ry="5.8" fill="#28c4f4"/><ellipse cx="53.5" cy="597.6" rx="1.89" ry="4.06" fill="#70ea48"/><ellipse cx="53.5" cy="597.6" rx="1.32" ry="2.84" fill="#f2e420"/><ellipse cx="53.5" cy="597.6" rx="0.93" ry="1.99" fill="#ff7a10"/><ellipse cx="53.5" cy="597.6" rx="0.65" ry="1.39" fill="#ec2010"/>
<ellipse cx="52.4" cy="608" rx="1.6" ry="5" fill="#0a18ee"/>
<ellipse cx="55" cy="614.6" rx="5" ry="2.4" fill="#0a18ee"/>
<ellipse cx="54.5" cy="614.8" rx="4" ry="1.7" fill="#28c4f4"/><ellipse cx="54.5" cy="614.8" rx="2.8" ry="1.19" fill="#70ea48"/><ellipse cx="54.5" cy="614.8" rx="1.96" ry="0.83" fill="#f2e420"/>
<ellipse cx="71" cy="615.7" rx="3.5" ry="0.9" fill="#28c4f4"/>
</g>
<path d="M39.4 588V629.8H90.6" stroke="#c8c8c8" stroke-width="0.5" fill="none"/>
<path d="M37.4 628.8h2M38.3 626.3h1.1M38.3 623.8h1.1M38.3 621.3h1.1M37.4 618.8h2M38.3 616.3h1.1M38.3 613.8h1.1M38.3 611.3h1.1M37.4 608.8h2M38.3 606.3h1.1M38.3 603.8h1.1M38.3 601.3h1.1M37.4 598.8h2M38.3 596.3h1.1M38.3 593.8h1.1M38.3 591.3h1.1M37.4 588.8h2M44.52 629.8v1.8M47.08 629.8v1.1M49.13 629.8v1.1M50.66 629.8v1.1M51.94 629.8v1.1M56.3 629.8v1.8M58.86 629.8v1.1M60.9 629.8v1.1M62.44 629.8v1.1M63.72 629.8v1.1M68.07 629.8v1.8M70.63 629.8v1.1M72.68 629.8v1.1M74.22 629.8v1.1M75.5 629.8v1.1M79.85 629.8v1.8M82.41 629.8v1.1M84.46 629.8v1.1M85.99 629.8v1.1M87.27 629.8v1.1" stroke="#666" stroke-width="0.5" fill="none"/>
<rect x="37.5" y="615.1" width="1.9" height="2.6" fill="#222"/>
<rect x="49.66" y="630.2" width="2" height="1.4" fill="#111"/>
<path d="M69.7 571.6H90.6V629.8" fill="none" stroke="#9c9c9c" stroke-width="0.65"/>
<path d="M61.6 588.6V629.8" fill="none" stroke="#9a9a9a" stroke-width="1.0"/>
<path d="M39.4 610.1H90.6" fill="none" stroke="#555" stroke-width="0.95"/>
<text x="41.8" y="572.5" font-size="8" textLength="23.5" lengthAdjust="spacingAndGlyphs" stroke="#141414" stroke-width="0.12">CD19+</text>
<text x="41.8" y="581.5" font-size="8" textLength="19.7" lengthAdjust="spacingAndGlyphs" stroke="#141414" stroke-width="0.12">61.7%</text>
<g filter="url(#bl2)">
<ellipse cx="116" cy="607" rx="7" ry="3.5" fill="#0a18ee" fill-opacity="0.15"/>
<ellipse cx="123.2" cy="615.2" rx="16.4" ry="2.4" fill="#0a18ee" fill-opacity="0.95"/>
</g>
<path d="M112.1 609.0h0M110.8 607.7h0M118.6 605.7h0M125.5 606.7h0M110.8 608.7h0M111.2 603.9h0M116.1 606.7h0M126.0 599.3h0M114.5 610.4h0M115.1 607.2h0M124.9 601.2h0M116.3 609.1h0M112.6 599.2h0M110.2 606.8h0M117.1 613.1h0M123.8 600.0h0M122.1 609.5h0M125.5 605.4h0M112.7 606.6h0M125.0 608.4h0M125.9 609.0h0M112.6 602.1h0M126.8 600.1h0M114.0 604.8h0M110.7 603.8h0M116.0 615.2h0M115.6 604.0h0M116.7 609.6h0M111.2 604.4h0M105.8 608.7h0M120.0 611.8h0M109.0 614.4h0M121.1 604.9h0M113.7 604.8h0M108.9 609.0h0M112.4 603.2h0M119.0 606.4h0M112.6 605.1h0M113.1 611.2h0M121.9 603.2h0M115.8 611.3h0M114.3 612.9h0M118.6 608.6h0M103.9 609.3h0M118.0 608.3h0M118.8 608.0h0M113.0 609.5h0M116.4 601.9h0M110.0 606.6h0M118.0 597.5h0M103.9 610.1h0M115.9 617.0h0M107.0 605.0h0M112.5 608.2h0M124.2 612.2h0M110.1 610.8h0M108.9 607.2h0M117.0 608.4h0M111.3 611.2h0M115.6 605.9h0M114.4 601.9h0M120.2 607.3h0M118.7 613.2h0M110.9 604.9h0M116.0 609.3h0M115.0 609.6h0M118.7 599.2h0M112.0 598.1h0M114.3 604.4h0M119.5 606.7h0M115.6 610.9h0M119.5 601.2h0M112.0 607.3h0M126.0 605.2h0M115.0 607.0h0M120.6 605.7h0M117.7 604.4h0M112.8 602.9h0M119.9 603.8h0M119.2 607.6h0M121.7 595.6h0M110.3 601.3h0M115.0 609.1h0M130.8 612.0h0M124.0 607.5h0M113.7 608.1h0M103.2 609.6h0M116.1 608.4h0M110.0 601.7h0M112.2 605.8h0M118.0 604.6h0M118.0 608.6h0M109.2 605.6h0M106.9 603.9h0M121.3 603.2h0M126.9 608.0h0M121.2 606.4h0M121.1 610.3h0M116.6 603.9h0M112.8 613.5h0M114.9 604.2h0M111.9 599.4h0M113.1 607.3h0M113.2 603.1h0M118.4 607.8h0M113.4 607.2h0M110.3 609.3h0M110.2 604.7h0M116.8 604.4h0M109.3 614.2h0" stroke="#1024f4" stroke-opacity="0.35" stroke-width="0.9" stroke-linecap="square"/>
<path d="M139.8 609.0h0M126.2 609.7h0M128.0 609.6h0M130.7 612.3h0M141.7 613.3h0M120.5 612.9h0M120.5 611.3h0M120.1 608.9h0M130.9 608.5h0M122.7 612.3h0M126.1 609.2h0M118.7 612.5h0M135.7 613.8h0M107.3 612.2h0M120.3 612.6h0M108.5 611.3h0M131.9 610.6h0M121.5 610.1h0M135.9 609.6h0M116.1 611.0h0M121.9 614.6h0M127.7 610.3h0M130.7 612.0h0M127.8 611.4h0M129.5 609.8h0M113.3 610.9h0M114.2 612.5h0M144.0 613.3h0M129.4 612.0h0M118.3 609.6h0M130.4 609.3h0M128.0 611.3h0M132.3 611.6h0M126.0 610.7h0M108.2 611.0h0M131.8 613.0h0M138.5 610.0h0M115.8 612.5h0M120.6 615.3h0M128.1 609.3h0M119.6 613.8h0M107.2 611.7h0M111.5 613.8h0M120.6 610.0h0M108.3 610.5h0M100.0 610.8h0M146.3 611.6h0M122.4 609.8h0M128.3 610.8h0M116.7 613.5h0M129.3 610.2h0M139.5 611.4h0M129.9 611.7h0M136.5 612.4h0M121.6 612.5h0M121.2 611.7h0M141.0 609.9h0M114.9 610.9h0M120.1 613.4h0M109.4 614.9h0M140.5 610.8h0M126.8 611.0h0M131.6 612.5h0M132.4 612.6h0M143.9 611.3h0M131.8 611.2h0M125.4 611.8h0M124.5 612.0h0M116.7 611.3h0M119.1 609.8h0M118.1 610.8h0M123.5 609.2h0M122.5 609.8h0M117.0 611.8h0M135.8 611.9h0M120.2 610.9h0M138.1 609.1h0M136.1 609.3h0M118.8 611.6h0M122.8 613.9h0M129.8 611.4h0M134.3 611.6h0M117.1 613.1h0M139.7 613.4h0M113.5 614.3h0M120.9 612.6h0M136.7 615.0h0M109.2 610.0h0M136.5 612.2h0M121.9 607.2h0" stroke="#1024f4" stroke-opacity="0.35" stroke-width="0.9" stroke-linecap="square"/>
<g filter="url(#bl)">
<rect x="109.5" y="614.7" width="28" height="1.8" rx="0.9" fill="#28c4f4" filter="url(#bl3)"/>
<ellipse cx="114" cy="615.6" rx="5" ry="0.8" fill="#28c4f4"/><ellipse cx="114" cy="615.6" rx="3.5" ry="0.56" fill="#70ea48"/>
<ellipse cx="127.9" cy="615.6" rx="3.6" ry="1" fill="#70ea48"/><ellipse cx="127.9" cy="615.6" rx="2.52" ry="0.7" fill="#f2e420"/><ellipse cx="127.9" cy="615.6" rx="1.76" ry="0.49" fill="#ff7a10"/><ellipse cx="127.9" cy="615.6" rx="1.23" ry="0.34" fill="#ec2010"/>
</g>
<path d="M97.5 588V629.8H148.6" stroke="#c8c8c8" stroke-width="0.5" fill="none"/>
<path d="M95.5 628.8h2M96.4 626.3h1.1M96.4 623.8h1.1M96.4 621.3h1.1M95.5 618.8h2M96.4 616.3h1.1M96.4 613.8h1.1M96.4 611.3h1.1M95.5 608.8h2M96.4 606.3h1.1M96.4 603.8h1.1M96.4 601.3h1.1M95.5 598.8h2M96.4 596.3h1.1M96.4 593.8h1.1M96.4 591.3h1.1M95.5 588.8h2M102.61 629.8v1.8M105.17 629.8v1.1M107.21 629.8v1.1M108.74 629.8v1.1M110.02 629.8v1.1M114.36 629.8v1.8M116.92 629.8v1.1M118.96 629.8v1.1M120.5 629.8v1.1M121.77 629.8v1.1M126.12 629.8v1.8M128.67 629.8v1.1M130.72 629.8v1.1M132.25 629.8v1.1M133.53 629.8v1.1M137.87 629.8v1.8M140.42 629.8v1.1M142.47 629.8v1.1M144 629.8v1.1M145.28 629.8v1.1" stroke="#666" stroke-width="0.5" fill="none"/>
<rect x="95.6" y="615.1" width="1.9" height="2.6" fill="#222"/>
<rect x="107.74" y="630.2" width="2" height="1.4" fill="#111"/>
<path d="M126.7 571.6H148.6V629.8" fill="none" stroke="#9c9c9c" stroke-width="0.65"/>
<path d="M119.2 584.6V629.8" fill="none" stroke="#9a9a9a" stroke-width="1.0"/>
<path d="M97.5 609.4H148.6" fill="none" stroke="#555" stroke-width="0.95"/>
<text x="99.9" y="572.5" font-size="8" textLength="23.5" lengthAdjust="spacingAndGlyphs" stroke="#141414" stroke-width="0.12">CD19+</text>
<text x="99.9" y="581.5" font-size="8" textLength="15.9" lengthAdjust="spacingAndGlyphs" stroke="#141414" stroke-width="0.12">0.7%</text>
<g filter="url(#bl2)">
<ellipse cx="185" cy="603" rx="9" ry="7" fill="#0a18ee" fill-opacity="0.1"/>
<ellipse cx="182" cy="616.4" rx="13.5" ry="1.5" fill="#0a18ee" fill-opacity="0.5"/>
</g>
<path d="M188.0 601.9h0M167.1 618.7h0M167.9 599.7h0M185.0 604.4h0M190.2 601.4h0M178.9 600.9h0M170.6 596.5h0M198.5 599.0h0M184.5 614.1h0M192.2 603.7h0M190.0 601.4h0M178.8 608.9h0M185.9 612.4h0M183.2 600.8h0M187.4 601.9h0M182.9 597.8h0M186.7 604.9h0M197.6 602.8h0M173.0 605.7h0M200.7 600.4h0M179.5 602.0h0M165.4 601.0h0M183.7 594.1h0M189.0 597.9h0M172.3 598.8h0M189.4 614.3h0M193.6 604.1h0M181.5 601.5h0M191.6 600.0h0M187.9 608.7h0M178.8 599.5h0M188.1 603.0h0M184.1 599.9h0M184.6 613.9h0M194.3 593.5h0M185.3 603.5h0M185.3 594.9h0M184.1 603.9h0M180.3 604.8h0M168.3 594.2h0M185.7 605.3h0M183.9 600.3h0M186.3 609.4h0M191.2 602.5h0M181.8 609.2h0M188.7 608.2h0M183.1 597.9h0M186.3 599.3h0M192.9 608.0h0M170.0 606.9h0M194.2 609.1h0M181.7 597.9h0M191.7 609.0h0M185.4 596.2h0M174.5 604.6h0M179.3 599.0h0M188.1 609.2h0M170.8 599.1h0M193.9 602.8h0M182.6 606.8h0M177.2 595.8h0M185.1 612.2h0M192.0 603.0h0M192.0 600.6h0M176.9 593.2h0M186.9 608.3h0M187.6 602.8h0M182.2 609.4h0M184.7 594.5h0M194.4 599.2h0M187.7 603.0h0M192.2 604.5h0M193.4 604.2h0M181.8 600.0h0M189.5 598.1h0M191.4 601.6h0M178.6 597.9h0M184.0 613.4h0M190.3 603.1h0M178.8 614.2h0M183.1 603.0h0M182.1 610.8h0M186.2 600.3h0M186.3 597.1h0M177.8 602.1h0M165.2 609.9h0M198.7 596.5h0M184.0 593.7h0M186.2 604.2h0M190.1 595.2h0M180.9 599.2h0M183.3 616.4h0M183.6 602.8h0M181.5 607.7h0M202.6 609.8h0M195.5 596.7h0M192.3 603.2h0M193.6 609.2h0M189.5 593.1h0M185.9 600.1h0M188.1 603.2h0M192.2 593.6h0M179.9 602.6h0M187.2 600.6h0M184.8 603.3h0M192.2 602.3h0M186.7 592.3h0M167.0 594.4h0M187.5 589.4h0M187.8 602.4h0M185.0 598.7h0M182.1 607.9h0M187.5 602.8h0M181.6 604.2h0M193.2 602.9h0M182.5 596.1h0M185.7 597.6h0M175.1 608.1h0M180.7 591.0h0M180.1 613.9h0M184.3 595.2h0M177.4 607.2h0M187.8 604.3h0M183.7 605.9h0M195.6 605.9h0M183.9 594.8h0M188.1 612.2h0M189.5 595.6h0M186.3 610.7h0M180.6 605.9h0M193.3 612.6h0M174.0 592.7h0M187.6 607.1h0M182.6 602.9h0M182.2 610.1h0M169.8 604.5h0M176.2 599.0h0M174.4 597.6h0M184.8 603.2h0M197.3 601.7h0M187.4 605.1h0M186.8 611.7h0M186.0 603.9h0M184.2 603.0h0M184.6 608.9h0M185.1 603.4h0M184.7 607.5h0M181.7 608.5h0M181.1 607.1h0M198.2 604.4h0" stroke="#1024f4" stroke-opacity="0.28" stroke-width="0.9" stroke-linecap="square"/>
<path d="M179.3 614.1h0M185.8 615.5h0M187.2 614.7h0M184.1 617.6h0M183.2 615.1h0M169.7 615.5h0M185.2 616.2h0M171.2 614.3h0M172.3 614.3h0M177.8 615.8h0M195.2 615.7h0M191.5 613.5h0M192.2 616.4h0M183.5 616.5h0M184.9 617.8h0M186.4 613.4h0M166.2 617.4h0M179.3 617.1h0M177.3 614.7h0M177.3 615.9h0M181.5 614.8h0M184.2 616.2h0M172.8 614.2h0M164.5 615.1h0M180.1 614.7h0M175.2 615.3h0M180.2 616.2h0M186.6 616.0h0M188.8 614.4h0M184.8 615.9h0M171.8 614.7h0M183.5 615.6h0M170.1 614.8h0M192.1 616.5h0M180.6 617.1h0M172.8 615.3h0M187.6 615.1h0M171.2 616.2h0M192.7 612.5h0M181.2 614.0h0M177.6 613.8h0M200.6 614.7h0M180.4 614.7h0M172.2 615.0h0M181.6 617.6h0M182.3 617.4h0M171.6 615.6h0M176.5 613.6h0M181.9 614.6h0M175.4 614.3h0M188.1 615.0h0M178.9 615.7h0M170.3 615.8h0M178.6 616.0h0M177.0 615.5h0M184.1 616.6h0M174.6 616.7h0M172.2 615.3h0M181.0 615.7h0M160.3 614.3h0M178.5 616.6h0M174.4 617.3h0M165.7 615.6h0M184.3 615.5h0M182.1 616.6h0M173.6 616.2h0M188.4 615.2h0M161.7 614.1h0M173.2 614.2h0M183.4 614.5h0M199.6 616.2h0M169.7 615.2h0M192.1 616.3h0M171.9 616.7h0M176.2 618.1h0M175.6 616.2h0M184.5 615.0h0M178.8 616.9h0M183.9 615.4h0M183.5 617.6h0M187.4 616.1h0M182.6 613.6h0M181.1 614.9h0M185.8 614.8h0M183.5 614.3h0M187.1 614.6h0M179.8 616.2h0M177.4 615.5h0M188.4 617.6h0" stroke="#1024f4" stroke-opacity="0.4" stroke-width="0.9" stroke-linecap="square"/>
<g filter="url(#bl)">
<ellipse cx="170.7" cy="598.3" rx="3.3" ry="9.6" fill="#0a18ee"/>
<ellipse cx="170.7" cy="597.6" rx="2.8" ry="8.2" fill="#28c4f4"/><ellipse cx="170.7" cy="597.6" rx="1.96" ry="5.74" fill="#70ea48"/><ellipse cx="170.7" cy="597.6" rx="1.37" ry="4.02" fill="#f2e420"/><ellipse cx="170.7" cy="597.6" rx="0.96" ry="2.81" fill="#ff7a10"/><ellipse cx="170.7" cy="597.6" rx="0.67" ry="1.97" fill="#ec2010"/>
<ellipse cx="169.2" cy="609" rx="1.4" ry="6.5" fill="#0a18ee"/>
<ellipse cx="169.3" cy="609.5" rx="0.9" ry="4.5" fill="#28c4f4"/>
<ellipse cx="169.4" cy="616" rx="2.6" ry="1.6" fill="#28c4f4"/><ellipse cx="169.4" cy="616" rx="1.82" ry="1.12" fill="#70ea48"/><ellipse cx="169.4" cy="616" rx="1.27" ry="0.78" fill="#f2e420"/><ellipse cx="169.4" cy="616" rx="0.89" ry="0.55" fill="#ff7a10"/>
</g>
<path d="M157 588V629.8H207.7" stroke="#c8c8c8" stroke-width="0.5" fill="none"/>
<path d="M155 628.8h2M155.9 626.3h1.1M155.9 623.8h1.1M155.9 621.3h1.1M155 618.8h2M155.9 616.3h1.1M155.9 613.8h1.1M155.9 611.3h1.1M155 608.8h2M155.9 606.3h1.1M155.9 603.8h1.1M155.9 601.3h1.1M155 598.8h2M155.9 596.3h1.1M155.9 593.8h1.1M155.9 591.3h1.1M155 588.8h2M162.07 629.8v1.8M164.6 629.8v1.1M166.63 629.8v1.1M168.15 629.8v1.1M169.42 629.8v1.1M173.73 629.8v1.8M176.27 629.8v1.1M178.29 629.8v1.1M179.81 629.8v1.1M181.08 629.8v1.1M185.39 629.8v1.8M187.93 629.8v1.1M189.95 629.8v1.1M191.48 629.8v1.1M192.74 629.8v1.1M197.05 629.8v1.8M199.59 629.8v1.1M201.62 629.8v1.1M203.14 629.8v1.1M204.4 629.8v1.1" stroke="#666" stroke-width="0.5" fill="none"/>
<rect x="155.1" y="615.1" width="1.9" height="2.6" fill="#222"/>
<rect x="167.15" y="630.2" width="2" height="1.4" fill="#111"/>
<path d="M186 571.6H207.7V629.8" fill="none" stroke="#9c9c9c" stroke-width="0.65"/>
<path d="M178.2 584V629.8" fill="none" stroke="#9a9a9a" stroke-width="1.0"/>
<path d="M157 609.7H207.7" fill="none" stroke="#555" stroke-width="0.95"/>
<text x="159.4" y="572.5" font-size="8" textLength="23.5" lengthAdjust="spacingAndGlyphs" stroke="#141414" stroke-width="0.12">CD19+</text>
<text x="159.4" y="581.5" font-size="8" textLength="13.9" lengthAdjust="spacingAndGlyphs" stroke="#141414" stroke-width="0.12">80%</text>
<g filter="url(#bl2)">
<ellipse cx="243" cy="602" rx="10" ry="8" fill="#0a18ee" fill-opacity="0.15"/>
<ellipse cx="238" cy="616.2" rx="12.5" ry="1.7" fill="#0a18ee" fill-opacity="0.65"/>
</g>
<path d="M228.7 594.8h0M248.3 607.5h0M239.3 601.7h0M241.5 616.7h0M241.4 592.8h0M230.7 592.2h0M253.3 598.3h0M258.4 605.4h0M246.0 605.5h0M249.2 607.4h0M235.3 597.1h0M238.7 601.7h0M241.0 592.5h0M237.5 613.4h0M259.8 595.1h0M246.0 600.7h0M236.3 605.9h0M242.5 612.5h0M246.6 598.9h0M222.1 600.3h0M249.7 596.1h0M250.0 605.7h0M229.0 599.6h0M245.5 606.2h0M244.2 600.9h0M240.3 599.0h0M243.0 593.7h0M248.1 598.8h0M247.1 597.5h0M246.2 601.9h0M250.0 604.2h0M250.4 599.9h0M242.6 599.2h0M233.1 600.1h0M251.6 606.3h0M236.3 603.1h0M248.9 591.6h0M245.8 603.3h0M248.9 602.8h0M229.2 587.1h0M258.7 598.3h0M253.1 609.7h0M243.7 593.1h0M253.8 600.7h0M247.1 604.3h0M250.5 608.0h0M231.8 591.3h0M244.1 601.1h0M249.1 600.1h0M241.6 615.0h0M253.9 609.0h0M251.2 595.6h0M242.3 600.5h0M234.4 595.0h0M244.3 592.6h0M247.3 604.3h0M241.1 598.7h0M247.8 604.3h0M245.9 592.6h0M230.2 615.1h0M237.8 598.5h0M228.6 595.5h0M237.2 606.5h0M222.1 591.3h0M239.7 597.6h0M236.9 598.0h0M230.5 602.8h0M252.4 602.1h0M238.8 609.7h0M246.9 593.9h0M238.5 596.8h0M242.6 609.4h0M237.4 600.0h0M243.9 592.8h0M239.2 605.2h0M251.9 588.1h0M248.6 599.0h0M253.2 605.3h0M258.6 603.1h0M239.9 595.3h0M231.7 604.8h0M247.1 606.6h0M245.8 590.7h0M239.8 599.3h0M244.3 606.3h0M254.2 603.0h0M226.7 594.0h0M226.1 595.7h0M233.5 602.6h0M241.3 608.7h0M251.5 597.9h0M250.5 601.1h0M246.6 610.3h0M233.9 600.5h0M255.2 595.8h0M244.7 601.9h0M239.7 592.0h0M237.6 594.3h0M251.5 602.7h0M248.6 592.8h0M247.0 602.0h0M251.3 596.0h0M249.4 610.4h0M257.3 594.6h0M234.1 590.9h0M250.6 605.1h0M245.7 595.1h0M252.9 612.0h0M242.7 600.2h0M252.4 604.5h0M253.6 598.2h0M245.7 598.7h0M238.5 599.0h0M240.8 604.5h0M240.6 601.5h0M236.6 592.6h0M254.3 594.3h0M257.3 607.4h0M224.9 596.6h0M239.7 601.1h0M241.6 596.9h0M252.9 600.1h0M250.6 596.3h0M237.6 610.1h0M240.8 593.5h0M241.7 608.2h0M241.7 596.1h0M248.0 607.7h0M241.4 598.8h0M240.1 619.5h0M241.5 613.0h0M241.8 603.8h0M226.9 602.2h0M243.4 598.8h0M239.8 591.7h0M231.2 602.1h0M238.0 600.4h0M241.6 597.5h0M237.3 613.7h0M234.3 597.5h0M240.7 593.1h0M235.4 606.9h0M250.4 601.9h0M252.8 595.4h0M251.6 612.5h0M240.0 613.4h0M236.7 593.2h0M242.7 595.5h0M248.1 593.4h0M243.7 587.6h0M242.8 608.2h0M240.9 603.1h0M251.6 593.5h0M233.0 601.6h0M245.2 599.2h0M235.4 609.3h0M233.8 599.2h0M242.7 606.0h0M239.5 595.4h0M258.9 595.2h0M249.3 600.0h0M239.3 600.7h0M241.0 603.1h0M222.9 600.8h0M243.6 594.4h0M240.0 617.0h0M257.6 605.4h0M244.9 598.9h0M254.0 597.9h0M236.5 605.7h0M235.4 595.6h0M254.5 590.0h0M242.5 601.8h0M245.1 591.1h0M241.2 598.7h0M258.2 607.9h0M237.1 607.0h0M248.2 600.2h0M241.1 599.1h0M230.8 596.7h0M250.4 610.9h0M257.7 598.4h0M240.9 592.4h0M249.5 589.7h0M234.8 593.5h0M246.2 606.7h0M235.8 613.3h0M244.3 595.3h0M245.8 600.9h0M249.6 603.4h0M260.3 609.0h0M238.0 606.4h0M249.0 594.2h0M237.1 595.5h0M223.5 605.4h0M241.3 609.4h0M238.6 601.5h0M248.8 607.6h0M245.6 593.9h0M260.4 606.9h0M253.8 612.1h0M254.1 603.8h0M246.8 605.3h0M231.2 606.6h0M235.4 603.9h0M235.1 605.9h0M239.2 618.0h0M244.6 604.5h0M235.9 599.0h0M242.6 599.0h0M239.6 595.0h0M249.1 598.4h0M236.6 603.5h0M236.6 599.8h0M239.0 594.7h0M241.3 595.4h0M233.2 603.4h0M240.7 591.0h0M239.9 602.3h0M246.4 603.6h0M245.1 605.1h0M239.2 595.6h0M247.9 598.2h0M243.1 605.4h0M250.5 609.3h0M237.6 598.5h0M247.4 591.2h0M233.1 605.2h0M238.2 594.7h0M249.4 604.6h0M250.3 598.8h0M240.8 598.7h0M245.4 587.2h0M237.6 605.8h0M236.9 600.6h0M244.0 604.6h0M239.3 593.3h0M262.7 596.1h0M256.5 589.0h0M243.9 599.7h0M258.0 614.9h0M250.8 594.1h0M236.7 595.9h0M239.0 602.8h0M236.9 599.3h0M254.7 610.8h0M228.4 594.5h0M240.1 609.8h0M240.5 614.0h0M245.9 610.8h0M236.3 598.9h0M251.1 604.9h0M228.4 599.1h0M244.5 605.3h0M238.1 612.8h0M244.3 610.9h0M246.2 601.6h0M240.6 593.1h0M249.9 606.2h0M250.4 598.5h0M235.2 598.4h0M240.6 600.9h0M250.8 594.8h0M239.2 605.7h0M250.2 616.0h0M247.2 595.3h0M234.9 595.6h0M243.6 602.7h0M242.6 596.8h0M241.6 600.5h0M247.7 601.6h0M236.7 593.1h0M254.7 600.4h0M241.7 600.8h0M251.9 598.9h0M244.5 599.4h0M247.6 594.2h0M244.7 608.0h0M252.4 605.2h0M245.4 611.7h0M248.6 610.5h0M233.7 593.6h0M249.4 599.2h0M239.7 594.6h0M254.7 592.9h0M243.9 591.6h0M241.7 616.2h0M262.2 597.7h0M235.2 612.1h0M236.4 588.9h0M245.8 593.7h0M231.7 608.6h0M237.4 593.8h0M244.4 599.7h0M251.9 601.7h0M255.6 608.7h0M257.1 608.6h0M243.7 604.7h0" stroke="#1024f4" stroke-opacity="0.26" stroke-width="0.9" stroke-linecap="square"/>
<path d="M238.3 613.0h0M227.8 615.9h0M217.3 614.0h0M226.8 614.9h0M229.0 615.3h0M236.4 614.4h0M230.7 612.2h0M238.8 613.4h0M235.5 615.5h0M247.4 615.9h0M251.2 613.2h0M244.1 617.0h0M241.6 613.6h0M241.6 614.4h0M232.5 616.3h0M236.6 613.6h0M232.2 617.5h0M230.7 615.9h0M239.7 616.5h0M235.7 613.8h0M232.5 613.7h0M261.0 615.2h0M235.3 616.6h0M243.9 614.8h0M243.6 615.3h0M248.1 617.1h0M235.4 615.0h0M236.5 616.5h0M241.5 616.0h0M246.1 614.2h0M239.3 616.7h0M246.3 616.0h0M235.7 614.6h0M230.6 614.7h0M237.6 613.2h0M248.4 614.0h0M240.4 615.8h0M233.3 612.7h0M246.6 615.5h0M235.9 616.4h0M246.0 613.8h0M237.4 612.8h0M235.8 616.8h0M230.8 616.0h0M224.9 614.6h0M246.4 617.2h0M242.1 616.0h0M253.3 611.9h0M223.1 617.4h0M259.8 615.8h0M238.7 615.3h0M238.4 614.2h0M238.0 614.8h0M244.0 615.9h0M246.8 615.7h0M229.6 616.8h0M214.7 615.2h0M241.1 614.3h0M254.6 613.6h0M227.9 614.4h0M241.8 616.0h0M239.1 615.8h0M232.0 614.2h0M239.3 613.3h0M239.8 614.5h0M244.1 613.7h0M233.5 614.3h0M234.9 613.7h0M235.9 613.3h0M242.8 615.8h0M238.0 614.8h0M230.4 613.8h0M236.2 613.9h0M227.9 615.2h0M238.0 614.5h0M231.0 614.9h0M232.1 614.5h0M239.8 615.9h0M244.8 614.2h0M248.7 613.6h0M236.6 616.6h0M258.9 615.2h0M235.0 614.5h0M227.6 614.8h0M234.4 614.1h0M248.6 614.0h0M252.9 616.1h0M243.7 614.3h0M233.7 612.5h0M240.5 614.7h0M241.5 614.2h0M242.4 613.1h0M219.1 615.6h0M247.5 611.1h0M249.4 614.6h0M236.7 613.1h0M229.4 615.9h0M231.7 615.0h0M236.8 617.5h0M245.9 613.3h0M234.0 613.6h0M226.0 614.1h0M247.7 615.1h0M244.0 614.8h0M234.5 615.1h0M237.5 617.4h0M253.8 615.5h0M243.4 612.5h0M237.1 618.0h0M231.2 616.0h0" stroke="#1024f4" stroke-opacity="0.4" stroke-width="0.9" stroke-linecap="square"/>
<g filter="url(#bl)">
<ellipse cx="229.3" cy="599.5" rx="4.4" ry="10.2" fill="#0a18ee"/>
<ellipse cx="229" cy="598.6" rx="3.8" ry="8.8" fill="#28c4f4"/><ellipse cx="229" cy="598.6" rx="2.66" ry="6.16" fill="#70ea48"/><ellipse cx="229" cy="598.6" rx="1.86" ry="4.31" fill="#f2e420"/><ellipse cx="229" cy="598.6" rx="1.3" ry="3.02" fill="#ff7a10"/><ellipse cx="229" cy="598.6" rx="0.91" ry="2.11" fill="#ec2010"/>
<ellipse cx="226.8" cy="610" rx="2" ry="6" fill="#0a18ee"/>
<ellipse cx="226.8" cy="610.5" rx="1.3" ry="4.5" fill="#28c4f4"/>
<ellipse cx="226.5" cy="616.2" rx="2.8" ry="1.6" fill="#28c4f4"/><ellipse cx="226.5" cy="616.2" rx="1.96" ry="1.12" fill="#70ea48"/><ellipse cx="226.5" cy="616.2" rx="1.37" ry="0.78" fill="#f2e420"/><ellipse cx="226.5" cy="616.2" rx="0.96" ry="0.55" fill="#ff7a10"/>
</g>
<path d="M213.8 588V629.8H264.5" stroke="#c8c8c8" stroke-width="0.5" fill="none"/>
<path d="M211.8 628.8h2M212.7 626.3h1.1M212.7 623.8h1.1M212.7 621.3h1.1M211.8 618.8h2M212.7 616.3h1.1M212.7 613.8h1.1M212.7 611.3h1.1M211.8 608.8h2M212.7 606.3h1.1M212.7 603.8h1.1M212.7 601.3h1.1M211.8 598.8h2M212.7 596.3h1.1M212.7 593.8h1.1M212.7 591.3h1.1M211.8 588.8h2M218.87 629.8v1.8M221.41 629.8v1.1M223.43 629.8v1.1M224.95 629.8v1.1M226.22 629.8v1.1M230.53 629.8v1.8M233.07 629.8v1.1M235.09 629.8v1.1M236.62 629.8v1.1M237.88 629.8v1.1M242.19 629.8v1.8M244.73 629.8v1.1M246.75 629.8v1.1M248.28 629.8v1.1M249.54 629.8v1.1M253.85 629.8v1.8M256.39 629.8v1.1M258.42 629.8v1.1M259.94 629.8v1.1M261.2 629.8v1.1" stroke="#666" stroke-width="0.5" fill="none"/>
<rect x="211.9" y="615.1" width="1.9" height="2.6" fill="#222"/>
<rect x="223.95" y="630.2" width="2" height="1.4" fill="#111"/>
<path d="M244.6 571.6H264.5V629.8" fill="none" stroke="#9c9c9c" stroke-width="0.65"/>
<path d="M235.8 583V629.8" fill="none" stroke="#9a9a9a" stroke-width="1.0"/>
<path d="M213.8 609.7H264.5" fill="none" stroke="#555" stroke-width="0.95"/>
<text x="216.2" y="572.5" font-size="8" textLength="23.5" lengthAdjust="spacingAndGlyphs" stroke="#141414" stroke-width="0.12">CD19+</text>
<text x="216.2" y="581.5" font-size="8" textLength="13.9" lengthAdjust="spacingAndGlyphs" stroke="#141414" stroke-width="0.12">70%</text>
<text x="141.6" y="577.2" font-size="3.6" fill="#777" stroke="#777" stroke-width="0.12">Q2</text>
<path d="M32.3 583.5V637.7H73.4" fill="none" stroke="#b2173e" stroke-width="1.1"/>
<path d="M32.3 580.5L30.3 584.7L34.3 584.7Z M76.4 637.7L72.2 635.7L72.2 639.7Z" fill="#b2173e"/>
<text transform="translate(28.67,622.1) rotate(-90)" font-size="10.2" text-anchor="middle" textLength="18" lengthAdjust="spacingAndGlyphs" stroke="#141414" stroke-width="0.12">CD19</text>
<text x="32.7" y="649.6" font-size="10.2" textLength="14.2" lengthAdjust="spacingAndGlyphs" stroke="#141414" stroke-width="0.12">CD3</text>
<path d="M325 461.5V596.6H456.6M322 588.8h3M322 573.24h3M322 557.68h3M322 542.11h3M322 526.55h3M322 510.99h3M322 495.43h3M322 479.87h3M322 464.3h3M335.6 596.6v3.2M357.7 596.6v3.2M379.8 596.6v3.2M401.8 596.6v3.2M423.9 596.6v3.2M446 596.6v3.2" stroke="#222" stroke-width="1.15" fill="none"/>
<text x="318.7" y="591.8" font-size="8.6" text-anchor="end" textLength="4.3" lengthAdjust="spacingAndGlyphs" fill="#222" stroke="#222" stroke-width="0.12">0</text>
<text x="318.7" y="576.24" font-size="8.6" text-anchor="end" textLength="8.6" lengthAdjust="spacingAndGlyphs" fill="#222" stroke="#222" stroke-width="0.12">20</text>
<text x="318.7" y="560.68" font-size="8.6" text-anchor="end" textLength="8.6" lengthAdjust="spacingAndGlyphs" fill="#222" stroke="#222" stroke-width="0.12">40</text>
<text x="318.7" y="545.11" font-size="8.6" text-anchor="end" textLength="8.6" lengthAdjust="spacingAndGlyphs" fill="#222" stroke="#222" stroke-width="0.12">60</text>
<text x="318.7" y="529.55" font-size="8.6" text-anchor="end" textLength="8.6" lengthAdjust="spacingAndGlyphs" fill="#222" stroke="#222" stroke-width="0.12">80</text>
<text x="318.7" y="513.99" font-size="8.6" text-anchor="end" textLength="12.9" lengthAdjust="spacingAndGlyphs" fill="#222" stroke="#222" stroke-width="0.12">100</text>
<text x="318.7" y="498.43" font-size="8.6" text-anchor="end" textLength="12.9" lengthAdjust="spacingAndGlyphs" fill="#222" stroke="#222" stroke-width="0.12">120</text>
<text x="318.7" y="482.87" font-size="8.6" text-anchor="end" textLength="12.9" lengthAdjust="spacingAndGlyphs" fill="#222" stroke="#222" stroke-width="0.12">140</text>
<text x="318.7" y="467.3" font-size="8.6" text-anchor="end" textLength="12.9" lengthAdjust="spacingAndGlyphs" fill="#222" stroke="#222" stroke-width="0.12">160</text>
<path d="M327 588.9H457" stroke="#333" stroke-width="0.9" stroke-dasharray="0.9 1.1"/>
<text transform="translate(300.44,528.8) rotate(-90)" font-size="9" text-anchor="middle" textLength="87.4" lengthAdjust="spacingAndGlyphs" fill="#333" stroke="#333" stroke-width="0.12">Percent T-cell proliferation</text>
<text transform="translate(338.98,602.9) rotate(-90)" font-size="9.1" text-anchor="end" textLength="46.6" lengthAdjust="spacingAndGlyphs" stroke="#141414" stroke-width="0.12">unstimulated</text>
<text transform="translate(360.48,602.9) rotate(-90)" font-size="9.1" text-anchor="end" textLength="74.1" lengthAdjust="spacingAndGlyphs" stroke="#141414" stroke-width="0.12">10nM blinatumomab</text>
<text transform="translate(382.48,602.9) rotate(-90)" font-size="9.1" text-anchor="end" textLength="56.6" lengthAdjust="spacingAndGlyphs" stroke="#141414" stroke-width="0.12">500nM imatinib</text>
<text transform="translate(404.28,602.9) rotate(-90)" font-size="9.1" text-anchor="end" textLength="51.6" lengthAdjust="spacingAndGlyphs" stroke="#141414" stroke-width="0.12">50nM nilotinib</text>
<text transform="translate(426.68,602.9) rotate(-90)" font-size="9.1" text-anchor="end" textLength="50.9" lengthAdjust="spacingAndGlyphs" stroke="#141414" stroke-width="0.12">5nM dasatinib</text>
<text transform="translate(449.18,602.9) rotate(-90)" font-size="9.1" text-anchor="end" textLength="57.1" lengthAdjust="spacingAndGlyphs" stroke="#141414" stroke-width="0.12">25nM ponatinib</text>
<path d="M377 663.3V666.7M377 665H446.75M446.75 663.3V666.7" stroke="#222" stroke-width="1" fill="none"/>
<text x="413.1" y="674.6" font-size="8" text-anchor="middle" textLength="73.7" lengthAdjust="spacingAndGlyphs" stroke="#141414" stroke-width="0.12">10nM blinatumomab</text>
<path d="M338.5 505V502.4H357.4V505" fill="none" stroke="#3a3a3a" stroke-width="1"/>
<path d="M357.4 496.9V494.3H376.6V496.9" fill="none" stroke="#3a3a3a" stroke-width="1"/>
<path d="M357.4 486.9V484.3H399.2V486.9" fill="none" stroke="#3a3a3a" stroke-width="1"/>
<path d="M357.4 476.5V473.9H419.5V476.5" fill="none" stroke="#3a3a3a" stroke-width="1"/>
<path d="M357.4 466.2V463.6H445.4V466.2" fill="none" stroke="#3a3a3a" stroke-width="1"/>
<text x="347.7" y="503.2" font-size="8.6" text-anchor="middle" textLength="12.2" lengthAdjust="spacingAndGlyphs" fill="#333" stroke="#333" stroke-width="0.12">****</text>
<text x="388.6" y="474.4" font-size="8.6" text-anchor="middle" textLength="12.2" lengthAdjust="spacingAndGlyphs" fill="#333" stroke="#333" stroke-width="0.12">****</text>
<text x="401.5" y="464.4" font-size="8.6" text-anchor="middle" textLength="12.2" lengthAdjust="spacingAndGlyphs" fill="#333" stroke="#333" stroke-width="0.12">****</text>
<text x="366.9" y="492.6" font-size="7.4" text-anchor="middle" fill="#333" stroke="#333" stroke-width="0.12">ns</text>
<text x="378.4" y="482.2" font-size="7.4" text-anchor="middle" fill="#333" stroke="#333" stroke-width="0.12">ns</text>
<path d="M357.7 512.5V518.3M354.2 512.5h7M354.2 518.3h7" stroke="#3c3c3c" stroke-width="1.2" fill="none"/>
<path d="M350.1 514.9h15.2" stroke="#111" stroke-width="1.25" fill="none"/>
<path d="M379.8 512.2V515.8M376.3 512.2h7M376.3 515.8h7" stroke="#3c3c3c" stroke-width="1.2" fill="none"/>
<path d="M372.8 513.6h14" stroke="#111" stroke-width="1.25" fill="none"/>
<path d="M395.7 512.3h12.4" stroke="#111" stroke-width="1.25" fill="none"/>
<path d="M398.5 516.5h6.9" stroke="#222" stroke-width="1.1"/>
<path d="M423.9 572.5V588M420.4 572.5h7M420.4 588h7" stroke="#3c3c3c" stroke-width="1.2" fill="none"/>
<path d="M416.6 585.4h14.6" stroke="#111" stroke-width="1.25" fill="none"/>
<path d="M446 561V587.3M442.5 561h7M442.5 587.3h7" stroke="#3c3c3c" stroke-width="1.2" fill="none"/>
<path d="M438.8 583.5h14.4" stroke="#111" stroke-width="1.25" fill="none"/>
<path d="M335.7 584.2V588.5M331.9 584.2h7.6M331.9 588.5h7.6" stroke="#3c3c3c" stroke-width="1.2" fill="none"/>
<path d="M328.3 588.5h14.8" stroke="#111" stroke-width="1.25" fill="none"/>
<path d="M351.7 512.2L353.7 516H349.7Z" fill="#4fae37"/>
<rect x="355.85" y="513.15" width="3.7" height="3.7" fill="#1d4f91"/>
<circle cx="363.8" cy="515" r="2" fill="#b0002a"/>
<path d="M363.8 512.8L365.8 509H361.8Z" fill="#ec941c"/>
<path d="M357.7 519.8L359.8 521.9L357.7 524L355.6 521.9Z" fill="#4a1c6e"/>
<path d="M373.7 513.2L375.7 509.4H371.7Z" fill="#ec941c"/>
<path d="M373.7 513.3L375.8 515.4L373.7 517.5L371.6 515.4Z" fill="#4a1c6e"/>
<path d="M379.8 510.3L381.8 514.1H377.8Z" fill="#4fae37"/>
<rect x="384.05" y="513.05" width="3.7" height="3.7" fill="#1d4f91"/>
<path d="M395.8 513L397.8 509.2H393.8Z" fill="#ec941c"/>
<path d="M408 510.5L410 514.3H406Z" fill="#4fae37"/>
<path d="M401.9 511.7L404 513.8L401.9 515.9L399.8 513.8Z" fill="#4a1c6e"/>
<rect x="400.05" y="516.15" width="3.7" height="3.7" fill="#1d4f91"/>
<path d="M423.9 563.8L425.9 560H421.9Z" fill="#ec941c"/>
<path d="M423.9 580.7L426 582.8L423.9 584.9L421.8 582.8Z" fill="#4a1c6e"/>
<rect x="422.05" y="582.85" width="3.7" height="3.7" fill="#1d4f91"/>
<circle cx="426.5" cy="588.6" r="2" fill="#b0002a"/>
<path d="M421.3 587.2L423.3 591H419.3Z" fill="#4fae37"/>
<path d="M446 555.7L448 551.9H444Z" fill="#ec941c"/>
<path d="M446 579.4L448.1 581.5L446 583.6L443.9 581.5Z" fill="#4a1c6e"/>
<rect x="444.15" y="583.35" width="3.7" height="3.7" fill="#1d4f91"/>
<path d="M446 587L448 590.8H444Z" fill="#4fae37"/>
<path d="M335.7 579.6L337.8 581.7L335.7 583.8L333.6 581.7Z" fill="#4a1c6e"/>
<path d="M335.7 587.6L337.7 583.8H333.7Z" fill="#ec941c"/>
<path d="M333.4 586.3L335.4 590.1H331.4Z" fill="#4fae37"/>
<circle cx="337.8" cy="588.5" r="2" fill="#b0002a"/>
<rect x="339.95" y="586.65" width="3.7" height="3.7" fill="#1d4f91"/>
<path d="M328.9 588.5H344" stroke="#111" stroke-width="1.2"/>
<circle cx="462.5" cy="493.6" r="2" fill="#b0002a"/>
<text x="467.9" y="496.2" font-size="7.2" textLength="12.7" lengthAdjust="spacingAndGlyphs" fill="#333" stroke="#333" stroke-width="0.12">PT1</text>
<rect x="460.65" y="501.85" width="3.7" height="3.7" fill="#1d4f91"/>
<text x="467.9" y="506.3" font-size="7.2" textLength="12.7" lengthAdjust="spacingAndGlyphs" fill="#333" stroke="#333" stroke-width="0.12">PT2</text>
<path d="M462.5 511.6L464.5 515.4H460.5Z" fill="#4fae37"/>
<text x="467.9" y="516.4" font-size="7.2" textLength="12.7" lengthAdjust="spacingAndGlyphs" fill="#333" stroke="#333" stroke-width="0.12">PT3</text>
<path d="M462.5 521.8L464.6 523.9L462.5 526L460.4 523.9Z" fill="#4a1c6e"/>
<text x="467.9" y="526.5" font-size="7.2" textLength="12.7" lengthAdjust="spacingAndGlyphs" fill="#333" stroke="#333" stroke-width="0.12">PT4</text>
<path d="M462.5 536.2L464.5 532.4H460.5Z" fill="#ec941c"/>
<text x="467.9" y="536.6" font-size="7.2" textLength="12.7" lengthAdjust="spacingAndGlyphs" fill="#333" stroke="#333" stroke-width="0.12">PT5</text>
</svg>
</body></html>
